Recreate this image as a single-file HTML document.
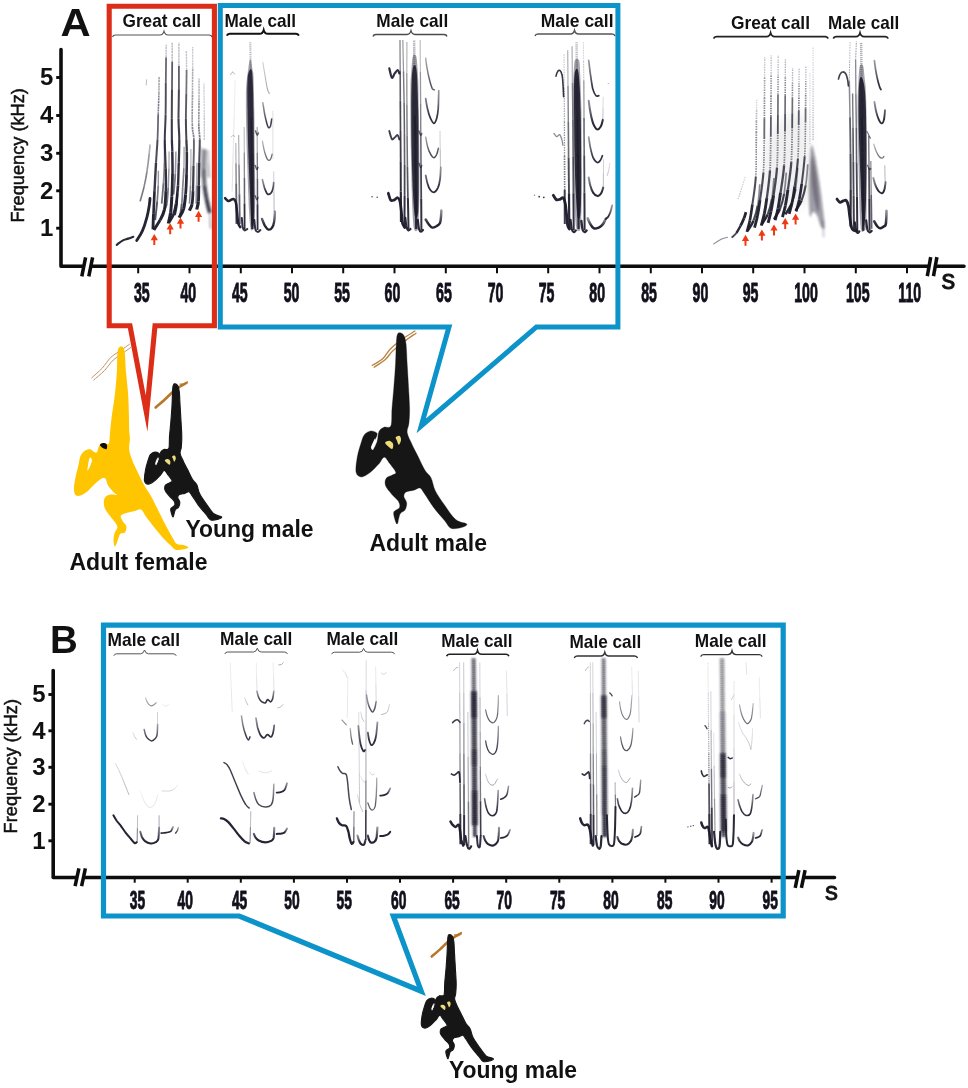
<!DOCTYPE html>
<html lang="en"><head><meta charset="utf-8"><title>Gibbon song spectrograms</title>
<style>
html,body{margin:0;padding:0;background:#fff}
svg{display:block}
text{font-family:"Liberation Sans",sans-serif;fill:#111}
</style></head><body>
<svg width="968" height="1088" viewBox="0 0 968 1088">
<defs>
<linearGradient id="uf" x1="0" y1="0" x2="0" y2="1"><stop offset="0" stop-color="#1c1b2c" stop-opacity="0.48"/><stop offset="0.5" stop-color="#1c1b2c" stop-opacity="0.8"/><stop offset="0.78" stop-color="#1c1b2c" stop-opacity="1"/><stop offset="1" stop-color="#1c1b2c" stop-opacity="1"/></linearGradient>
<filter id="bl" filterUnits="userSpaceOnUse" x="0" y="0" width="968" height="1088"><feGaussianBlur stdDeviation="0.55"/></filter>
<filter id="bl2" filterUnits="userSpaceOnUse" x="0" y="0" width="968" height="1088"><feGaussianBlur stdDeviation="0.9"/></filter>
<filter id="bl4" filterUnits="userSpaceOnUse" x="0" y="0" width="968" height="1088"><feGaussianBlur stdDeviation="5"/></filter>
<filter id="bt" filterUnits="userSpaceOnUse" x="0" y="0" width="968" height="1088"><feGaussianBlur stdDeviation="0.35"/></filter>
</defs>
<rect width="968" height="1088" fill="#fff"/>
<g filter="url(#bt)">
<path d="M61.0,49.6 L61.0,266.3 L964.0,266.3" fill="none" stroke="#0c0c0c" stroke-width="3.6" stroke-linejoin="round" stroke-linecap="round"/>
<path d="M81.8,276.3 L88.8,276.3 L92.6,257.3 L85.6,257.3 Z" fill="#fff"/>
<line x1="81.8" y1="276.3" x2="85.6" y2="257.3" stroke="#0c0c0c" stroke-width="3.50" stroke-opacity="1.00" stroke-linecap="butt"/>
<line x1="88.8" y1="276.3" x2="92.6" y2="257.3" stroke="#0c0c0c" stroke-width="3.50" stroke-opacity="1.00" stroke-linecap="butt"/>
<path d="M927.3,276.1 L933.5,276.1 L936.9,257.1 L930.7,257.1 Z" fill="#fff"/>
<line x1="927.3" y1="276.1" x2="930.7" y2="257.1" stroke="#0c0c0c" stroke-width="3.50" stroke-opacity="1.00" stroke-linecap="butt"/>
<line x1="933.5" y1="276.1" x2="936.9" y2="257.1" stroke="#0c0c0c" stroke-width="3.50" stroke-opacity="1.00" stroke-linecap="butt"/>
</g>
<g filter="url(#bt)">
<path d="M53.2,670.6 L53.2,877.5 L834.5,877.5" fill="none" stroke="#0c0c0c" stroke-width="3.6" stroke-linejoin="round" stroke-linecap="round"/>
<path d="M75.1,886.1 L81.6,886.1 L85.4,868.3 L78.9,868.3 Z" fill="#fff"/>
<line x1="75.1" y1="886.1" x2="78.9" y2="868.3" stroke="#0c0c0c" stroke-width="3.50" stroke-opacity="1.00" stroke-linecap="butt"/>
<line x1="81.6" y1="886.1" x2="85.4" y2="868.3" stroke="#0c0c0c" stroke-width="3.50" stroke-opacity="1.00" stroke-linecap="butt"/>
<path d="M795.2,887.8 L801.4,887.8 L805.1,870.2 L798.9,870.2 Z" fill="#fff"/>
<line x1="795.2" y1="887.8" x2="798.9" y2="870.2" stroke="#0c0c0c" stroke-width="3.50" stroke-opacity="1.00" stroke-linecap="butt"/>
<line x1="801.4" y1="887.8" x2="805.1" y2="870.2" stroke="#0c0c0c" stroke-width="3.50" stroke-opacity="1.00" stroke-linecap="butt"/>
</g>
<line x1="56.2" y1="77.5" x2="61.0" y2="77.5" stroke="#0c0c0c" stroke-width="2.90" stroke-opacity="1.00" stroke-linecap="butt"/>
<text transform="translate(53.4,85.2) scale(0.99,1)" font-size="24.2" font-weight="700" text-anchor="end">5</text>
<line x1="56.2" y1="115.5" x2="61.0" y2="115.5" stroke="#0c0c0c" stroke-width="2.90" stroke-opacity="1.00" stroke-linecap="butt"/>
<text transform="translate(53.4,123.2) scale(0.99,1)" font-size="24.2" font-weight="700" text-anchor="end">4</text>
<line x1="56.2" y1="153.3" x2="61.0" y2="153.3" stroke="#0c0c0c" stroke-width="2.90" stroke-opacity="1.00" stroke-linecap="butt"/>
<text transform="translate(53.4,161.0) scale(0.99,1)" font-size="24.2" font-weight="700" text-anchor="end">3</text>
<line x1="56.2" y1="190.8" x2="61.0" y2="190.8" stroke="#0c0c0c" stroke-width="2.90" stroke-opacity="1.00" stroke-linecap="butt"/>
<text transform="translate(53.4,198.5) scale(0.99,1)" font-size="24.2" font-weight="700" text-anchor="end">2</text>
<line x1="56.2" y1="228.2" x2="61.0" y2="228.2" stroke="#0c0c0c" stroke-width="2.90" stroke-opacity="1.00" stroke-linecap="butt"/>
<text transform="translate(53.4,235.9) scale(0.99,1)" font-size="24.2" font-weight="700" text-anchor="end">1</text>
<line x1="48.4" y1="694.5" x2="53.2" y2="694.5" stroke="#0c0c0c" stroke-width="2.90" stroke-opacity="1.00" stroke-linecap="butt"/>
<text transform="translate(45.6,702.2) scale(0.99,1)" font-size="24.2" font-weight="700" text-anchor="end">5</text>
<line x1="48.4" y1="730.8" x2="53.2" y2="730.8" stroke="#0c0c0c" stroke-width="2.90" stroke-opacity="1.00" stroke-linecap="butt"/>
<text transform="translate(45.6,738.5) scale(0.99,1)" font-size="24.2" font-weight="700" text-anchor="end">4</text>
<line x1="48.4" y1="767.3" x2="53.2" y2="767.3" stroke="#0c0c0c" stroke-width="2.90" stroke-opacity="1.00" stroke-linecap="butt"/>
<text transform="translate(45.6,775.0) scale(0.99,1)" font-size="24.2" font-weight="700" text-anchor="end">3</text>
<line x1="48.4" y1="804.2" x2="53.2" y2="804.2" stroke="#0c0c0c" stroke-width="2.90" stroke-opacity="1.00" stroke-linecap="butt"/>
<text transform="translate(45.6,811.9) scale(0.99,1)" font-size="24.2" font-weight="700" text-anchor="end">2</text>
<line x1="48.4" y1="840.8" x2="53.2" y2="840.8" stroke="#0c0c0c" stroke-width="2.90" stroke-opacity="1.00" stroke-linecap="butt"/>
<text transform="translate(45.6,848.5) scale(0.99,1)" font-size="24.2" font-weight="700" text-anchor="end">1</text>
<line x1="138.2" y1="267.0" x2="138.2" y2="273.3" stroke="#0c0c0c" stroke-width="2.00" stroke-opacity="1.00" stroke-linecap="butt"/>
<text transform="translate(141.8,301.9) scale(0.520,1)" font-size="27.2" font-weight="700" text-anchor="middle" fill="#15112a" stroke="#15112a" stroke-width="0.8" vector-effect="non-scaling-stroke" stroke-linejoin="round">35</text>
<line x1="189.5" y1="267.0" x2="189.5" y2="273.3" stroke="#0c0c0c" stroke-width="2.00" stroke-opacity="1.00" stroke-linecap="butt"/>
<text transform="translate(188.3,301.9) scale(0.520,1)" font-size="27.2" font-weight="700" text-anchor="middle" fill="#15112a" stroke="#15112a" stroke-width="0.8" vector-effect="non-scaling-stroke" stroke-linejoin="round">40</text>
<line x1="240.8" y1="267.0" x2="240.8" y2="273.3" stroke="#0c0c0c" stroke-width="2.00" stroke-opacity="1.00" stroke-linecap="butt"/>
<text transform="translate(239.8,301.9) scale(0.520,1)" font-size="27.2" font-weight="700" text-anchor="middle" fill="#15112a" stroke="#15112a" stroke-width="0.8" vector-effect="non-scaling-stroke" stroke-linejoin="round">45</text>
<line x1="292.0" y1="267.0" x2="292.0" y2="273.3" stroke="#0c0c0c" stroke-width="2.00" stroke-opacity="1.00" stroke-linecap="butt"/>
<text transform="translate(291.5,301.9) scale(0.520,1)" font-size="27.2" font-weight="700" text-anchor="middle" fill="#15112a" stroke="#15112a" stroke-width="0.8" vector-effect="non-scaling-stroke" stroke-linejoin="round">50</text>
<line x1="343.2" y1="267.0" x2="343.2" y2="273.3" stroke="#0c0c0c" stroke-width="2.00" stroke-opacity="1.00" stroke-linecap="butt"/>
<text transform="translate(342.1,301.9) scale(0.520,1)" font-size="27.2" font-weight="700" text-anchor="middle" fill="#15112a" stroke="#15112a" stroke-width="0.8" vector-effect="non-scaling-stroke" stroke-linejoin="round">55</text>
<line x1="394.5" y1="267.0" x2="394.5" y2="273.3" stroke="#0c0c0c" stroke-width="2.00" stroke-opacity="1.00" stroke-linecap="butt"/>
<text transform="translate(392.4,301.9) scale(0.520,1)" font-size="27.2" font-weight="700" text-anchor="middle" fill="#15112a" stroke="#15112a" stroke-width="0.8" vector-effect="non-scaling-stroke" stroke-linejoin="round">60</text>
<line x1="445.8" y1="267.0" x2="445.8" y2="273.3" stroke="#0c0c0c" stroke-width="2.00" stroke-opacity="1.00" stroke-linecap="butt"/>
<text transform="translate(443.9,301.9) scale(0.520,1)" font-size="27.2" font-weight="700" text-anchor="middle" fill="#15112a" stroke="#15112a" stroke-width="0.8" vector-effect="non-scaling-stroke" stroke-linejoin="round">65</text>
<line x1="497.0" y1="267.0" x2="497.0" y2="273.3" stroke="#0c0c0c" stroke-width="2.00" stroke-opacity="1.00" stroke-linecap="butt"/>
<text transform="translate(495.6,301.9) scale(0.520,1)" font-size="27.2" font-weight="700" text-anchor="middle" fill="#15112a" stroke="#15112a" stroke-width="0.8" vector-effect="non-scaling-stroke" stroke-linejoin="round">70</text>
<line x1="548.2" y1="267.0" x2="548.2" y2="273.3" stroke="#0c0c0c" stroke-width="2.00" stroke-opacity="1.00" stroke-linecap="butt"/>
<text transform="translate(546.5,301.9) scale(0.520,1)" font-size="27.2" font-weight="700" text-anchor="middle" fill="#15112a" stroke="#15112a" stroke-width="0.8" vector-effect="non-scaling-stroke" stroke-linejoin="round">75</text>
<line x1="599.5" y1="267.0" x2="599.5" y2="273.3" stroke="#0c0c0c" stroke-width="2.00" stroke-opacity="1.00" stroke-linecap="butt"/>
<text transform="translate(597.2,301.9) scale(0.520,1)" font-size="27.2" font-weight="700" text-anchor="middle" fill="#15112a" stroke="#15112a" stroke-width="0.8" vector-effect="non-scaling-stroke" stroke-linejoin="round">80</text>
<line x1="650.8" y1="267.0" x2="650.8" y2="273.3" stroke="#0c0c0c" stroke-width="2.00" stroke-opacity="1.00" stroke-linecap="butt"/>
<text transform="translate(649.0,301.9) scale(0.520,1)" font-size="27.2" font-weight="700" text-anchor="middle" fill="#15112a" stroke="#15112a" stroke-width="0.8" vector-effect="non-scaling-stroke" stroke-linejoin="round">85</text>
<line x1="702.0" y1="267.0" x2="702.0" y2="273.3" stroke="#0c0c0c" stroke-width="2.00" stroke-opacity="1.00" stroke-linecap="butt"/>
<text transform="translate(700.4,301.9) scale(0.520,1)" font-size="27.2" font-weight="700" text-anchor="middle" fill="#15112a" stroke="#15112a" stroke-width="0.8" vector-effect="non-scaling-stroke" stroke-linejoin="round">90</text>
<line x1="753.2" y1="267.0" x2="753.2" y2="273.3" stroke="#0c0c0c" stroke-width="2.00" stroke-opacity="1.00" stroke-linecap="butt"/>
<text transform="translate(750.5,301.9) scale(0.520,1)" font-size="27.2" font-weight="700" text-anchor="middle" fill="#15112a" stroke="#15112a" stroke-width="0.8" vector-effect="non-scaling-stroke" stroke-linejoin="round">95</text>
<line x1="804.5" y1="267.0" x2="804.5" y2="273.3" stroke="#0c0c0c" stroke-width="2.00" stroke-opacity="1.00" stroke-linecap="butt"/>
<text transform="translate(806.0,301.9) scale(0.520,1)" font-size="27.2" font-weight="700" text-anchor="middle" fill="#15112a" stroke="#15112a" stroke-width="0.8" vector-effect="non-scaling-stroke" stroke-linejoin="round">100</text>
<line x1="855.8" y1="267.0" x2="855.8" y2="273.3" stroke="#0c0c0c" stroke-width="2.00" stroke-opacity="1.00" stroke-linecap="butt"/>
<text transform="translate(857.8,301.9) scale(0.520,1)" font-size="27.2" font-weight="700" text-anchor="middle" fill="#15112a" stroke="#15112a" stroke-width="0.8" vector-effect="non-scaling-stroke" stroke-linejoin="round">105</text>
<line x1="907.0" y1="267.0" x2="907.0" y2="273.3" stroke="#0c0c0c" stroke-width="2.00" stroke-opacity="1.00" stroke-linecap="butt"/>
<text transform="translate(909.7,301.9) scale(0.520,1)" font-size="27.2" font-weight="700" text-anchor="middle" fill="#15112a" stroke="#15112a" stroke-width="0.8" vector-effect="non-scaling-stroke" stroke-linejoin="round">110</text>
<line x1="134.7" y1="878.5" x2="134.7" y2="882.7" stroke="#0c0c0c" stroke-width="2.00" stroke-opacity="1.00" stroke-linecap="butt"/>
<text transform="translate(137.5,909.2) scale(0.520,1)" font-size="26.6" font-weight="700" text-anchor="middle" fill="#15112a" stroke="#15112a" stroke-width="0.8" vector-effect="non-scaling-stroke" stroke-linejoin="round">35</text>
<line x1="187.7" y1="878.5" x2="187.7" y2="882.7" stroke="#0c0c0c" stroke-width="2.00" stroke-opacity="1.00" stroke-linecap="butt"/>
<text transform="translate(185.2,909.2) scale(0.520,1)" font-size="26.6" font-weight="700" text-anchor="middle" fill="#15112a" stroke="#15112a" stroke-width="0.8" vector-effect="non-scaling-stroke" stroke-linejoin="round">40</text>
<line x1="240.8" y1="878.5" x2="240.8" y2="882.7" stroke="#0c0c0c" stroke-width="2.00" stroke-opacity="1.00" stroke-linecap="butt"/>
<text transform="translate(239.6,909.2) scale(0.520,1)" font-size="26.6" font-weight="700" text-anchor="middle" fill="#15112a" stroke="#15112a" stroke-width="0.8" vector-effect="non-scaling-stroke" stroke-linejoin="round">45</text>
<line x1="293.9" y1="878.5" x2="293.9" y2="882.7" stroke="#0c0c0c" stroke-width="2.00" stroke-opacity="1.00" stroke-linecap="butt"/>
<text transform="translate(291.9,909.2) scale(0.520,1)" font-size="26.6" font-weight="700" text-anchor="middle" fill="#15112a" stroke="#15112a" stroke-width="0.8" vector-effect="non-scaling-stroke" stroke-linejoin="round">50</text>
<line x1="347.0" y1="878.5" x2="347.0" y2="882.7" stroke="#0c0c0c" stroke-width="2.00" stroke-opacity="1.00" stroke-linecap="butt"/>
<text transform="translate(344.3,909.2) scale(0.520,1)" font-size="26.6" font-weight="700" text-anchor="middle" fill="#15112a" stroke="#15112a" stroke-width="0.8" vector-effect="non-scaling-stroke" stroke-linejoin="round">55</text>
<line x1="400.0" y1="878.5" x2="400.0" y2="882.7" stroke="#0c0c0c" stroke-width="2.00" stroke-opacity="1.00" stroke-linecap="butt"/>
<text transform="translate(398.8,909.2) scale(0.520,1)" font-size="26.6" font-weight="700" text-anchor="middle" fill="#15112a" stroke="#15112a" stroke-width="0.8" vector-effect="non-scaling-stroke" stroke-linejoin="round">60</text>
<line x1="453.1" y1="878.5" x2="453.1" y2="882.7" stroke="#0c0c0c" stroke-width="2.00" stroke-opacity="1.00" stroke-linecap="butt"/>
<text transform="translate(452.1,909.2) scale(0.520,1)" font-size="26.6" font-weight="700" text-anchor="middle" fill="#15112a" stroke="#15112a" stroke-width="0.8" vector-effect="non-scaling-stroke" stroke-linejoin="round">65</text>
<line x1="506.2" y1="878.5" x2="506.2" y2="882.7" stroke="#0c0c0c" stroke-width="2.00" stroke-opacity="1.00" stroke-linecap="butt"/>
<text transform="translate(504.2,909.2) scale(0.520,1)" font-size="26.6" font-weight="700" text-anchor="middle" fill="#15112a" stroke="#15112a" stroke-width="0.8" vector-effect="non-scaling-stroke" stroke-linejoin="round">70</text>
<line x1="559.3" y1="878.5" x2="559.3" y2="882.7" stroke="#0c0c0c" stroke-width="2.00" stroke-opacity="1.00" stroke-linecap="butt"/>
<text transform="translate(557.6,909.2) scale(0.520,1)" font-size="26.6" font-weight="700" text-anchor="middle" fill="#15112a" stroke="#15112a" stroke-width="0.8" vector-effect="non-scaling-stroke" stroke-linejoin="round">75</text>
<line x1="612.4" y1="878.5" x2="612.4" y2="882.7" stroke="#0c0c0c" stroke-width="2.00" stroke-opacity="1.00" stroke-linecap="butt"/>
<text transform="translate(611.0,909.2) scale(0.520,1)" font-size="26.6" font-weight="700" text-anchor="middle" fill="#15112a" stroke="#15112a" stroke-width="0.8" vector-effect="non-scaling-stroke" stroke-linejoin="round">80</text>
<line x1="665.4" y1="878.5" x2="665.4" y2="882.7" stroke="#0c0c0c" stroke-width="2.00" stroke-opacity="1.00" stroke-linecap="butt"/>
<text transform="translate(664.8,909.2) scale(0.520,1)" font-size="26.6" font-weight="700" text-anchor="middle" fill="#15112a" stroke="#15112a" stroke-width="0.8" vector-effect="non-scaling-stroke" stroke-linejoin="round">85</text>
<line x1="718.5" y1="878.5" x2="718.5" y2="882.7" stroke="#0c0c0c" stroke-width="2.00" stroke-opacity="1.00" stroke-linecap="butt"/>
<text transform="translate(717.0,909.2) scale(0.520,1)" font-size="26.6" font-weight="700" text-anchor="middle" fill="#15112a" stroke="#15112a" stroke-width="0.8" vector-effect="non-scaling-stroke" stroke-linejoin="round">90</text>
<line x1="771.6" y1="878.5" x2="771.6" y2="882.7" stroke="#0c0c0c" stroke-width="2.00" stroke-opacity="1.00" stroke-linecap="butt"/>
<text transform="translate(770.3,909.2) scale(0.520,1)" font-size="26.6" font-weight="700" text-anchor="middle" fill="#15112a" stroke="#15112a" stroke-width="0.8" vector-effect="non-scaling-stroke" stroke-linejoin="round">95</text>
<text x="941.6" y="288.8" font-size="27.5" fill="#111" stroke="#111" stroke-width="0.8">s</text>
<text x="825.0" y="899.6" font-size="26" fill="#111" stroke="#111" stroke-width="0.8">s</text>
<text transform="translate(24.3,222.6) rotate(-90)" font-size="18.2" stroke="#111" stroke-width="0.5">Frequency (kHz)</text>
<text transform="translate(16.6,833.4) rotate(-90)" font-size="18.2" stroke="#111" stroke-width="0.5">Frequency (kHz)</text>
<text transform="translate(60.6,36.4) scale(1.07,1)" font-size="39" font-weight="700" fill="#0a0a0a">A</text>
<text transform="translate(50.1,653) scale(0.98,1)" font-size="39.3" font-weight="700" fill="#0a0a0a">B</text>
<path d="M130,325.8 L109.2,325.8 L109.2,6.2 L214.4,6.2 L214.4,325.8 L155,325.8 L146.6,413.5 Z" fill="none" stroke="#dc2d18" stroke-width="5.1" stroke-miterlimit="12" stroke-linejoin="miter"/>
<path d="M449,326.9 L220.3,326.9 L220.3,5.6 L617.9,5.6 L617.9,326.9 L536.5,326.9 L421.2,426 Z" fill="none" stroke="#0c93ca" stroke-width="5.0" stroke-miterlimit="12" stroke-linejoin="miter"/>
<path d="M239.2,916.0 L103.5,916.0 L103.5,625.2 L783.2,625.2 L783.2,916.0 L393.3,916.0 L421.3,991.2 Z" fill="none" stroke="#0c93ca" stroke-width="5.2" stroke-miterlimit="12" stroke-linejoin="miter"/>
<text x="122.5" y="26.5" font-size="18.2" font-weight="700" textLength="78.5" lengthAdjust="spacingAndGlyphs" fill="#111">Great call</text>
<path d="M112.5,37.0 Q113.0,35.0 115.5,35.0 L160.0,35.0 Q163.0,35.0 164.0,31.2 Q165.0,35.0 168.0,35.0 L209.0,35.0 Q211.5,35.0 212.0,37.0" fill="none" stroke="#555" stroke-width="1.1"/>
<text x="224.5" y="27.0" font-size="18.2" font-weight="700" textLength="71.5" lengthAdjust="spacingAndGlyphs" fill="#111">Male call</text>
<path d="M227.0,35.8 Q227.5,33.8 230.0,33.8 L259.7,33.8 Q262.7,33.8 263.7,30.0 Q264.7,33.8 267.7,33.8 L295.7,33.8 Q298.2,33.8 298.7,35.8" fill="none" stroke="#111" stroke-width="1.9"/>
<text x="376.3" y="27.0" font-size="18.2" font-weight="700" textLength="71.9" lengthAdjust="spacingAndGlyphs" fill="#111">Male call</text>
<path d="M373.0,36.5 Q373.5,34.5 376.0,34.5 L407.0,34.5 Q410.0,34.5 411.0,30.7 Q412.0,34.5 415.0,34.5 L444.0,34.5 Q446.5,34.5 447.0,36.5" fill="none" stroke="#4a4a4a" stroke-width="1.3"/>
<text x="540.8" y="27.0" font-size="18.2" font-weight="700" textLength="72.7" lengthAdjust="spacingAndGlyphs" fill="#111">Male call</text>
<path d="M535.0,36.0 Q535.5,34.0 538.0,34.0 L570.5,34.0 Q573.5,34.0 574.5,30.2 Q575.5,34.0 578.5,34.0 L612.0,34.0 Q614.5,34.0 615.0,36.0" fill="none" stroke="#555" stroke-width="1.4"/>
<text x="731.0" y="29.0" font-size="18.2" font-weight="700" textLength="79.0" lengthAdjust="spacingAndGlyphs" fill="#111">Great call</text>
<path d="M713.8,38.6 Q714.3,36.6 716.8,36.6 L766.6,36.6 Q769.6,36.6 770.6,32.8 Q771.6,36.6 774.6,36.6 L825.0,36.6 Q827.5,36.6 828.0,38.6" fill="none" stroke="#222" stroke-width="1.7"/>
<text x="828.0" y="29.0" font-size="18.2" font-weight="700" textLength="71.3" lengthAdjust="spacingAndGlyphs" fill="#111">Male call</text>
<path d="M833.4,38.6 Q833.9,36.6 836.4,36.6 L856.0,36.6 Q859.0,36.6 860.0,32.8 Q861.0,36.6 864.0,36.6 L885.0,36.6 Q887.5,36.6 888.0,38.6" fill="none" stroke="#222" stroke-width="1.7"/>
<g filter="url(#bl)">
<path d="M116.8,244.8 C117.8,244.1 120.6,241.6 122.5,240.6 C124.4,239.5 126.4,239.3 128.2,238.6 C130.0,238.0 132.4,237.1 133.3,236.8" fill="none" stroke="#1c1b2c" stroke-width="2.20" stroke-opacity="0.95" stroke-linecap="round" stroke-linejoin="round"/>
<path d="M136.7,240.6 C137.7,239.0 140.7,234.8 142.4,230.9 C144.1,227.0 145.8,221.4 146.9,217.3 C148.1,213.1 148.7,209.0 149.2,205.9 C149.7,202.8 149.9,199.8 150.0,198.5" fill="none" stroke="#1c1b2c" stroke-width="2.80" stroke-opacity="0.97" stroke-linecap="round" stroke-linejoin="round"/>
<path d="M140.1,201.4 C140.8,198.9 143.0,191.5 144.1,186.6" fill="none" stroke="#1c1b2c" stroke-width="1.62" stroke-opacity="0.60" stroke-linecap="butt"/>
<path d="M144.1,186.6 C145.2,181.7 146.1,177.3 146.9,171.8" fill="none" stroke="#1c1b2c" stroke-width="1.62" stroke-opacity="0.55" stroke-linecap="butt"/>
<path d="M146.9,171.8 C147.8,166.3 148.7,158.2 149.2,153.6" fill="none" stroke="#1c1b2c" stroke-width="1.62" stroke-opacity="0.45" stroke-linecap="butt"/>
<path d="M149.2,153.6 C149.7,149.1 149.9,146.1 150.0,144.5" fill="none" stroke="#1c1b2c" stroke-width="1.62" stroke-opacity="0.35" stroke-linecap="butt"/>
<path d="M146.2,84.9 L146.6,79.7" fill="none" stroke="#1c1b2c" stroke-width="1.00" stroke-opacity="0.30" stroke-linecap="round" stroke-linejoin="round"/>
<path d="M153.0,229.2 C153.0,226.6 153.3,220.2 153.5,213.9" fill="none" stroke="#1c1b2c" stroke-width="2.88" stroke-opacity="0.97" stroke-linecap="butt"/>
<path d="M153.5,213.9 C153.8,207.5 154.1,199.7 154.5,191.1" fill="none" stroke="#1c1b2c" stroke-width="2.62" stroke-opacity="0.95" stroke-linecap="butt"/>
<path d="M154.5,191.1 C155.0,182.6 155.5,171.2 156.0,162.7" fill="none" stroke="#1c1b2c" stroke-width="2.38" stroke-opacity="0.88" stroke-linecap="butt"/>
<path d="M156.0,162.7 C156.5,154.2 157.1,148.0 157.5,140.0" fill="none" stroke="#1c1b2c" stroke-width="2.00" stroke-opacity="0.78" stroke-linecap="butt"/>
<path d="M157.5,140.0 C157.9,132.0 158.0,122.3 158.2,114.5" fill="none" stroke="#1c1b2c" stroke-width="1.75" stroke-opacity="0.68" stroke-linecap="butt"/>
<path d="M158.2,114.5 C158.5,106.7 158.7,99.7 158.9,93.4" fill="none" stroke="#1c1b2c" stroke-width="1.50" stroke-opacity="0.58" stroke-linecap="butt" stroke-dasharray="2.2 0.6"/>
<path d="M158.9,93.4 C159.0,87.0 159.1,79.3 159.1,76.5" fill="none" stroke="#1c1b2c" stroke-width="1.50" stroke-opacity="0.42" stroke-linecap="butt" stroke-dasharray="2.2 0.6"/>
<path d="M153.8,230.0 C154.8,228.4 158.2,223.5 160.0,220.1" fill="none" stroke="#1c1b2c" stroke-width="3.00" stroke-opacity="0.97" stroke-linecap="butt"/>
<path d="M160.0,220.1 C161.8,216.8 163.4,214.7 164.3,209.9" fill="none" stroke="#1c1b2c" stroke-width="3.00" stroke-opacity="0.97" stroke-linecap="butt"/>
<path d="M164.3,209.9 C165.3,205.1 165.6,198.0 165.8,191.1" fill="none" stroke="#1c1b2c" stroke-width="2.75" stroke-opacity="0.95" stroke-linecap="butt"/>
<path d="M165.8,191.1 C166.0,184.2 165.9,176.9 165.7,168.4" fill="none" stroke="#1c1b2c" stroke-width="2.38" stroke-opacity="0.92" stroke-linecap="butt"/>
<path d="M165.7,168.4 C165.5,159.9 164.8,149.0 164.8,140.0" fill="none" stroke="#1c1b2c" stroke-width="2.12" stroke-opacity="0.88" stroke-linecap="butt"/>
<path d="M164.8,140.0 C164.8,131.0 165.5,124.0 165.6,114.5" fill="none" stroke="#1c1b2c" stroke-width="2.00" stroke-opacity="0.84" stroke-linecap="butt"/>
<path d="M165.6,114.5 C165.8,105.0 165.8,92.3 165.8,82.8" fill="none" stroke="#1c1b2c" stroke-width="1.88" stroke-opacity="0.78" stroke-linecap="butt"/>
<path d="M165.8,82.8 C165.9,73.3 166.0,63.8 166.1,57.5" fill="none" stroke="#1c1b2c" stroke-width="1.75" stroke-opacity="0.68" stroke-linecap="butt"/>
<path d="M166.1,57.5 C166.1,51.1 166.2,46.9 166.3,44.8" fill="none" stroke="#1c1b2c" stroke-width="1.38" stroke-opacity="0.30" stroke-linecap="butt" stroke-dasharray="2.2 0.6"/>
<path d="M155.2,220.1 C155.5,217.0 156.7,207.1 157.2,201.4" fill="none" stroke="#1c1b2c" stroke-width="1.88" stroke-opacity="0.75" stroke-linecap="butt"/>
<path d="M157.2,201.4 C157.7,195.6 158.0,190.6 158.2,185.5" fill="none" stroke="#1c1b2c" stroke-width="1.62" stroke-opacity="0.60" stroke-linecap="butt"/>
<path d="M158.2,185.5 C158.4,180.3 158.4,173.1 158.4,170.7" fill="none" stroke="#1c1b2c" stroke-width="1.38" stroke-opacity="0.45" stroke-linecap="butt"/>
<path d="M168.3,223.5 C168.7,221.7 170.0,217.2 170.6,212.7" fill="none" stroke="#1c1b2c" stroke-width="3.12" stroke-opacity="0.97" stroke-linecap="butt"/>
<path d="M170.6,212.7 C171.2,208.3 171.5,203.3 171.8,196.8" fill="none" stroke="#1c1b2c" stroke-width="3.00" stroke-opacity="0.97" stroke-linecap="butt"/>
<path d="M171.8,196.8 C172.1,190.4 172.4,181.7 172.5,174.1" fill="none" stroke="#1c1b2c" stroke-width="2.75" stroke-opacity="0.95" stroke-linecap="butt"/>
<path d="M172.5,174.1 C172.6,166.5 172.4,157.0 172.3,151.4" fill="none" stroke="#1c1b2c" stroke-width="2.50" stroke-opacity="0.93" stroke-linecap="butt"/>
<path d="M172.3,151.4 C172.2,145.7 172.0,145.4 171.9,140.0" fill="none" stroke="#1c1b2c" stroke-width="2.25" stroke-opacity="0.90" stroke-linecap="butt"/>
<path d="M171.9,140.0 C171.8,134.6 171.8,127.2 171.8,118.7" fill="none" stroke="#1c1b2c" stroke-width="2.12" stroke-opacity="0.86" stroke-linecap="butt"/>
<path d="M171.8,118.7 C171.8,110.3 171.9,98.7 172.0,89.2" fill="none" stroke="#1c1b2c" stroke-width="2.00" stroke-opacity="0.80" stroke-linecap="butt"/>
<path d="M172.0,89.2 C172.0,79.7 172.2,69.4 172.2,61.7" fill="none" stroke="#1c1b2c" stroke-width="1.75" stroke-opacity="0.72" stroke-linecap="butt"/>
<path d="M172.2,61.7 C172.2,53.9 172.2,45.8 172.2,42.7" fill="none" stroke="#1c1b2c" stroke-width="1.38" stroke-opacity="0.32" stroke-linecap="butt" stroke-dasharray="2.2 0.6"/>
<path d="M169.1,222.0 C169.8,220.7 172.5,217.2 173.6,214.1" fill="none" stroke="#1c1b2c" stroke-width="3.00" stroke-opacity="0.95" stroke-linecap="butt"/>
<path d="M173.6,214.1 C174.8,211.0 175.4,208.4 176.1,203.6" fill="none" stroke="#1c1b2c" stroke-width="2.88" stroke-opacity="0.95" stroke-linecap="butt"/>
<path d="M176.1,203.6 C176.9,198.9 177.5,192.3 178.0,185.5" fill="none" stroke="#1c1b2c" stroke-width="2.62" stroke-opacity="0.93" stroke-linecap="butt"/>
<path d="M178.0,185.5 C178.4,178.6 178.5,170.3 178.8,162.7" fill="none" stroke="#1c1b2c" stroke-width="2.38" stroke-opacity="0.90" stroke-linecap="butt"/>
<path d="M178.8,162.7 C179.0,155.2 179.4,147.3 179.3,140.0" fill="none" stroke="#1c1b2c" stroke-width="2.25" stroke-opacity="0.88" stroke-linecap="butt"/>
<path d="M179.3,140.0 C179.3,132.7 178.6,127.2 178.5,118.7" fill="none" stroke="#1c1b2c" stroke-width="2.12" stroke-opacity="0.84" stroke-linecap="butt"/>
<path d="M178.5,118.7 C178.5,110.3 178.9,98.0 178.9,89.2" fill="none" stroke="#1c1b2c" stroke-width="2.00" stroke-opacity="0.80" stroke-linecap="butt"/>
<path d="M178.9,89.2 C179.0,80.4 178.9,73.7 178.9,65.9" fill="none" stroke="#1c1b2c" stroke-width="1.75" stroke-opacity="0.72" stroke-linecap="butt"/>
<path d="M178.9,65.9 C178.9,58.2 178.9,46.6 178.9,42.7" fill="none" stroke="#1c1b2c" stroke-width="1.38" stroke-opacity="0.32" stroke-linecap="butt" stroke-dasharray="2.2 0.6"/>
<path d="M175.1,214.4 C175.4,212.8 176.5,208.1 176.8,204.8 C177.2,201.5 177.2,196.2 177.3,194.5" fill="none" stroke="#1c1b2c" stroke-width="2.00" stroke-opacity="0.90" stroke-linecap="round" stroke-linejoin="round"/>
<path d="M179.1,217.7 C179.8,216.2 182.6,212.6 183.6,208.8" fill="none" stroke="#1c1b2c" stroke-width="3.12" stroke-opacity="0.97" stroke-linecap="butt"/>
<path d="M183.6,208.8 C184.7,204.9 185.1,200.3 185.6,194.5" fill="none" stroke="#1c1b2c" stroke-width="3.00" stroke-opacity="0.97" stroke-linecap="butt"/>
<path d="M185.6,194.5 C186.1,188.8 186.4,181.3 186.6,174.1" fill="none" stroke="#1c1b2c" stroke-width="2.75" stroke-opacity="0.95" stroke-linecap="butt"/>
<path d="M186.6,174.1 C186.8,166.9 186.9,157.0 186.8,151.4" fill="none" stroke="#1c1b2c" stroke-width="2.50" stroke-opacity="0.92" stroke-linecap="butt"/>
<path d="M186.8,151.4 C186.8,145.7 186.5,145.4 186.4,140.0" fill="none" stroke="#1c1b2c" stroke-width="2.25" stroke-opacity="0.88" stroke-linecap="butt"/>
<path d="M186.4,140.0 C186.2,134.6 185.9,126.5 185.9,118.7" fill="none" stroke="#1c1b2c" stroke-width="2.00" stroke-opacity="0.80" stroke-linecap="butt"/>
<path d="M185.9,118.7 C185.9,111.0 186.2,101.5 186.3,93.4" fill="none" stroke="#1c1b2c" stroke-width="1.88" stroke-opacity="0.72" stroke-linecap="butt"/>
<path d="M186.3,93.4 C186.4,85.3 186.6,77.2 186.6,70.1" fill="none" stroke="#1c1b2c" stroke-width="1.75" stroke-opacity="0.62" stroke-linecap="butt"/>
<path d="M186.6,70.1 C186.6,63.1 186.4,54.3 186.3,51.1" fill="none" stroke="#1c1b2c" stroke-width="1.38" stroke-opacity="0.26" stroke-linecap="butt" stroke-dasharray="2.2 0.6"/>
<path d="M189.3,210.7 C189.8,209.6 191.4,207.5 192.0,204.2" fill="none" stroke="#1c1b2c" stroke-width="3.12" stroke-opacity="0.97" stroke-linecap="butt"/>
<path d="M192.0,204.2 C192.7,200.9 192.7,197.5 193.0,191.1" fill="none" stroke="#1c1b2c" stroke-width="2.75" stroke-opacity="0.95" stroke-linecap="butt"/>
<path d="M193.0,191.1 C193.2,184.8 193.4,174.7 193.5,166.1" fill="none" stroke="#1c1b2c" stroke-width="2.25" stroke-opacity="0.84" stroke-linecap="butt"/>
<path d="M193.5,166.1 C193.7,157.6 194.1,146.8 193.9,140.0" fill="none" stroke="#1c1b2c" stroke-width="1.88" stroke-opacity="0.68" stroke-linecap="butt"/>
<path d="M193.9,140.0 C193.7,133.2 192.5,132.8 192.3,125.1" fill="none" stroke="#1c1b2c" stroke-width="1.75" stroke-opacity="0.55" stroke-linecap="butt" stroke-dasharray="2.2 0.6"/>
<path d="M192.3,125.1 C192.0,117.3 192.4,102.9 192.5,93.4" fill="none" stroke="#1c1b2c" stroke-width="1.62" stroke-opacity="0.45" stroke-linecap="butt" stroke-dasharray="2.2 0.6"/>
<path d="M192.5,93.4 C192.5,83.9 192.6,75.8 192.7,68.0" fill="none" stroke="#1c1b2c" stroke-width="1.50" stroke-opacity="0.38" stroke-linecap="butt" stroke-dasharray="2.2 0.6"/>
<path d="M192.7,68.0 C192.7,60.3 192.7,50.4 192.7,46.9" fill="none" stroke="#1c1b2c" stroke-width="1.25" stroke-opacity="0.22" stroke-linecap="butt" stroke-dasharray="2.2 0.6"/>
<path d="M196.7,209.5 C197.0,208.2 198.1,205.4 198.4,201.4" fill="none" stroke="#1c1b2c" stroke-width="3.12" stroke-opacity="0.97" stroke-linecap="butt"/>
<path d="M198.4,201.4 C198.8,197.3 198.6,191.9 198.8,185.5" fill="none" stroke="#1c1b2c" stroke-width="2.88" stroke-opacity="0.95" stroke-linecap="butt"/>
<path d="M198.8,185.5 C198.9,179.0 199.0,170.3 199.2,162.7" fill="none" stroke="#1c1b2c" stroke-width="2.38" stroke-opacity="0.88" stroke-linecap="butt"/>
<path d="M199.2,162.7 C199.4,155.2 199.8,146.3 199.8,140.0" fill="none" stroke="#1c1b2c" stroke-width="2.00" stroke-opacity="0.75" stroke-linecap="butt"/>
<path d="M199.8,140.0 C199.7,133.7 198.9,131.8 198.8,125.1" fill="none" stroke="#1c1b2c" stroke-width="1.75" stroke-opacity="0.58" stroke-linecap="butt" stroke-dasharray="2.2 0.6"/>
<path d="M198.8,125.1 C198.7,118.4 199.0,107.5 199.0,99.7" fill="none" stroke="#1c1b2c" stroke-width="1.62" stroke-opacity="0.48" stroke-linecap="butt" stroke-dasharray="2.2 0.6"/>
<path d="M199.0,99.7 C199.1,92.0 199.0,82.1 199.0,78.6" fill="none" stroke="#1c1b2c" stroke-width="1.50" stroke-opacity="0.34" stroke-linecap="butt" stroke-dasharray="2.2 0.6"/>
<path d="M204.3,139.9 C204.3,135.6 204.4,124.0 204.3,114.5" fill="none" stroke="#1c1b2c" stroke-width="1.38" stroke-opacity="0.25" stroke-linecap="butt" stroke-dasharray="2.2 0.6"/>
<path d="M204.3,114.5 C204.2,105.0 204.0,88.1 203.9,82.8" fill="none" stroke="#1c1b2c" stroke-width="1.38" stroke-opacity="0.18" stroke-linecap="butt" stroke-dasharray="2.2 0.6"/>
<path d="M161.7,203.6 C162.0,200.2 163.0,190.0 163.4,183.2" fill="none" stroke="#1c1b2c" stroke-width="1.75" stroke-opacity="0.65" stroke-linecap="butt"/>
<path d="M163.4,183.2 C163.8,176.4 164.1,169.9 164.3,162.7" fill="none" stroke="#1c1b2c" stroke-width="1.50" stroke-opacity="0.50" stroke-linecap="butt"/>
<path d="M164.3,162.7 C164.5,155.5 164.5,143.8 164.5,140.0" fill="none" stroke="#1c1b2c" stroke-width="1.38" stroke-opacity="0.40" stroke-linecap="butt"/>
<path d="M173.6,194.5 C173.9,191.1 175.0,181.3 175.3,174.1" fill="none" stroke="#1c1b2c" stroke-width="1.75" stroke-opacity="0.60" stroke-linecap="butt"/>
<path d="M175.3,174.1 C175.7,166.9 175.8,155.2 175.9,151.4" fill="none" stroke="#1c1b2c" stroke-width="1.50" stroke-opacity="0.45" stroke-linecap="butt"/>
<path d="M182.7,187.7 C182.9,184.5 183.6,175.2 183.9,168.4" fill="none" stroke="#1c1b2c" stroke-width="1.62" stroke-opacity="0.55" stroke-linecap="butt"/>
<path d="M183.9,168.4 C184.1,161.6 184.1,150.4 184.1,146.8" fill="none" stroke="#1c1b2c" stroke-width="1.38" stroke-opacity="0.40" stroke-linecap="butt"/>
<path d="M163.4,212.7 C164.0,211.2 166.0,207.8 166.8,203.6" fill="none" stroke="#1c1b2c" stroke-width="2.00" stroke-opacity="0.70" stroke-linecap="butt"/>
<path d="M166.8,203.6 C167.6,199.5 167.8,193.6 168.2,187.7" fill="none" stroke="#1c1b2c" stroke-width="1.75" stroke-opacity="0.60" stroke-linecap="butt"/>
<path d="M168.2,187.7 C168.5,181.9 168.7,174.5 168.9,168.4" fill="none" stroke="#1c1b2c" stroke-width="1.50" stroke-opacity="0.45" stroke-linecap="butt"/>
<path d="M168.9,168.4 C169.0,162.3 169.1,154.2 169.1,151.4" fill="none" stroke="#1c1b2c" stroke-width="1.38" stroke-opacity="0.35" stroke-linecap="butt"/>
<path d="M180.2,215.0 C180.5,213.1 181.4,208.2 181.8,203.6" fill="none" stroke="#1c1b2c" stroke-width="2.00" stroke-opacity="0.70" stroke-linecap="butt"/>
<path d="M181.8,203.6 C182.2,199.1 182.6,190.4 182.7,187.7" fill="none" stroke="#1c1b2c" stroke-width="1.75" stroke-opacity="0.55" stroke-linecap="butt"/>
<path d="M189.5,203.6 C189.7,200.6 190.2,191.7 190.5,185.5" fill="none" stroke="#1c1b2c" stroke-width="1.62" stroke-opacity="0.50" stroke-linecap="butt"/>
<path d="M190.5,185.5 C190.7,179.2 190.8,172.2 190.9,166.1" fill="none" stroke="#1c1b2c" stroke-width="1.38" stroke-opacity="0.40" stroke-linecap="butt"/>
<path d="M190.9,166.1 C191.0,160.1 190.9,151.9 190.9,149.1" fill="none" stroke="#1c1b2c" stroke-width="1.25" stroke-opacity="0.30" stroke-linecap="butt"/>
<path d="M196.1,203.6 C196.2,200.6 196.5,192.3 196.6,185.5" fill="none" stroke="#1c1b2c" stroke-width="1.62" stroke-opacity="0.50" stroke-linecap="butt"/>
<path d="M196.6,185.5 C196.7,178.6 196.9,166.5 196.9,162.7" fill="none" stroke="#1c1b2c" stroke-width="1.38" stroke-opacity="0.35" stroke-linecap="butt"/>
</g>
<g filter="url(#bl2)">
<path d="M209.8,212.7 C209.2,210.5 207.5,203.6 206.6,199.1" fill="none" stroke="#1c1b2c" stroke-width="4.00" stroke-opacity="0.85" stroke-linecap="butt"/>
<path d="M206.6,199.1 C205.7,194.5 205.0,190.6 204.5,185.5" fill="none" stroke="#1c1b2c" stroke-width="4.00" stroke-opacity="0.80" stroke-linecap="butt"/>
<path d="M204.5,185.5 C204.1,180.3 203.9,174.5 203.9,168.4" fill="none" stroke="#1c1b2c" stroke-width="4.00" stroke-opacity="0.65" stroke-linecap="butt"/>
<path d="M203.9,168.4 C203.8,162.3 204.2,152.3 204.3,149.1" fill="none" stroke="#1c1b2c" stroke-width="4.00" stroke-opacity="0.50" stroke-linecap="butt"/>
<path d="M208.9,177.5 C208.7,175.0 208.1,167.3 208.0,162.7" fill="none" stroke="#1c1b2c" stroke-width="2.80" stroke-opacity="0.30" stroke-linecap="butt"/>
<path d="M208.0,162.7 C207.8,158.2 207.8,152.3 207.7,150.2" fill="none" stroke="#1c1b2c" stroke-width="2.80" stroke-opacity="0.25" stroke-linecap="butt"/>
<path d="M200.9,177.5 C200.9,175.0 200.7,167.8 200.7,162.7" fill="none" stroke="#1c1b2c" stroke-width="2.20" stroke-opacity="0.25" stroke-linecap="butt"/>
<path d="M200.7,162.7 C200.7,157.6 200.9,149.5 200.9,146.8" fill="none" stroke="#1c1b2c" stroke-width="2.20" stroke-opacity="0.20" stroke-linecap="butt"/>
<path d="M210.6,228.6 C210.4,226.0 209.9,215.4 209.8,212.7" fill="none" stroke="#1c1b2c" stroke-width="1.80" stroke-opacity="0.30" stroke-linecap="butt"/>
</g>
<path d="M154.3,234.0 l3.6,6.2 h-2.6 v4.8 h-2 v-4.8 h-2.6 Z" fill="#ee3a12"/>
<path d="M170.2,223.2 l3.6,6.2 h-2.6 v4.8 h-2 v-4.8 h-2.6 Z" fill="#ee3a12"/>
<path d="M180.5,217.6 l3.6,6.2 h-2.6 v4.8 h-2 v-4.8 h-2.6 Z" fill="#ee3a12"/>
<path d="M198.6,210.8 l3.6,6.2 h-2.6 v4.8 h-2 v-4.8 h-2.6 Z" fill="#ee3a12"/>
<g filter="url(#bl)">
<path d="M225.1,198.1 C225.6,198.6 227.1,200.8 228.5,200.9 C229.9,201.0 232.1,198.7 233.3,198.9 C234.5,199.1 235.2,200.0 235.8,202.1 C236.4,204.3 236.6,208.4 237.0,211.8 C237.4,215.3 237.6,220.4 238.2,222.9 C238.7,225.5 239.9,226.5 240.2,227.2" fill="none" stroke="#1c1b2c" stroke-width="2.50" stroke-opacity="0.97" stroke-linecap="round" stroke-linejoin="round"/>
<path d="M236.6,223.9 C236.5,220.6 236.4,210.5 236.4,203.7" fill="none" stroke="#1c1b2c" stroke-width="2.00" stroke-opacity="0.85" stroke-linecap="butt"/>
<path d="M236.4,203.7 C236.3,197.0 236.2,190.3 236.2,183.5" fill="none" stroke="#1c1b2c" stroke-width="1.80" stroke-opacity="0.65" stroke-linecap="butt"/>
<path d="M236.2,183.5 C236.1,176.8 236.0,170.1 236.0,163.3" fill="none" stroke="#1c1b2c" stroke-width="1.50" stroke-opacity="0.50" stroke-linecap="butt"/>
<path d="M236.0,163.3 C235.9,156.6 235.8,146.5 235.8,143.1" fill="none" stroke="#1c1b2c" stroke-width="1.20" stroke-opacity="0.30" stroke-linecap="butt"/>
<path d="M239.8,223.9 C239.7,219.0 239.5,204.2 239.4,194.3" fill="none" stroke="#1c1b2c" stroke-width="1.80" stroke-opacity="0.70" stroke-linecap="butt"/>
<path d="M239.4,194.3 C239.3,184.4 239.1,174.6 239.0,164.7" fill="none" stroke="#1c1b2c" stroke-width="1.50" stroke-opacity="0.55" stroke-linecap="butt"/>
<path d="M239.0,164.7 C238.9,154.8 238.7,140.0 238.6,135.1" fill="none" stroke="#1c1b2c" stroke-width="1.20" stroke-opacity="0.35" stroke-linecap="butt"/>
<path d="M241.8,217.9 C242.0,219.4 242.2,224.9 242.6,227.0 C243.1,229.1 243.9,230.1 244.6,230.4 C245.4,230.7 246.8,229.2 247.3,229.0" fill="none" stroke="#1c1b2c" stroke-width="2.00" stroke-opacity="0.90" stroke-linecap="round" stroke-linejoin="round"/>
<path d="M244.6,229.0 C244.6,224.7 244.6,212.0 244.5,203.5" fill="none" stroke="#1c1b2c" stroke-width="1.80" stroke-opacity="0.90" stroke-linecap="butt"/>
<path d="M244.5,203.5 C244.5,195.0 244.5,186.5 244.4,178.0" fill="none" stroke="#1c1b2c" stroke-width="1.50" stroke-opacity="0.70" stroke-linecap="butt"/>
<path d="M244.4,178.0 C244.4,169.5 244.4,161.0 244.3,152.5" fill="none" stroke="#1c1b2c" stroke-width="1.30" stroke-opacity="0.50" stroke-linecap="butt"/>
<path d="M244.3,152.5 C244.3,144.0 244.3,131.2 244.2,127.0" fill="none" stroke="#1c1b2c" stroke-width="1.10" stroke-opacity="0.30" stroke-linecap="butt"/>
<path d="M230.5,74.8 C230.8,74.4 231.9,72.2 232.5,72.0 C233.2,71.9 234.2,73.7 234.5,74.0" fill="none" stroke="#1c1b2c" stroke-width="1.00" stroke-opacity="0.30" stroke-linecap="round" stroke-linejoin="round"/>
<path d="M231.1,137.1 C231.5,136.7 232.8,135.1 233.3,135.1 C233.9,135.0 234.3,136.4 234.5,136.7" fill="none" stroke="#1c1b2c" stroke-width="1.00" stroke-opacity="0.25" stroke-linecap="round" stroke-linejoin="round"/>
<path d="M232.1,191.6 C232.3,185.4 232.8,166.9 233.1,154.6" fill="none" stroke="#1c1b2c" stroke-width="1.00" stroke-opacity="0.12" stroke-linecap="butt"/>
<path d="M233.1,154.6 C233.5,142.2 233.8,129.9 234.1,117.5" fill="none" stroke="#1c1b2c" stroke-width="1.00" stroke-opacity="0.10" stroke-linecap="butt"/>
<path d="M234.1,117.5 C234.5,105.2 235.0,86.7 235.2,80.5" fill="none" stroke="#1c1b2c" stroke-width="1.00" stroke-opacity="0.08" stroke-linecap="butt"/>
<path d="M249.7,60.3 C250.2,59.0 250.7,59.0 251.1,60.3 C251.5,61.6 251.9,65.7 252.3,68.4 C252.7,71.1 253.2,69.4 253.5,76.5 C253.9,83.5 254.1,98.4 254.3,110.8 C254.5,123.3 254.6,137.7 254.7,151.2 C254.9,164.7 255.2,179.5 255.2,191.6 C255.2,203.7 255.0,217.7 254.7,223.9 C254.5,230.2 254.2,228.1 253.5,229.0 C252.9,229.8 251.4,231.9 250.7,229.0 C250.0,226.1 249.6,221.4 249.1,211.8 C248.6,202.2 247.9,184.9 247.5,171.4 C247.0,157.9 246.5,143.5 246.3,131.0 C246.0,118.6 245.8,105.1 245.9,96.7 C245.9,88.2 246.3,85.2 246.7,80.5 C247.1,75.8 247.8,71.8 248.3,68.4 C248.8,65.0 249.2,61.6 249.7,60.3Z" fill="#1c1b2c" fill-opacity="0.40"/>
<path d="M249.5,70.4 C250.3,69.2 251.6,66.7 252.3,73.4 C253.0,80.2 253.3,97.8 253.5,110.8 C253.8,123.8 253.8,137.7 253.9,151.2 C254.1,164.7 254.3,179.8 254.3,191.6 C254.3,203.4 254.4,216.5 253.9,221.9 C253.5,227.3 252.2,229.0 251.5,223.9 C250.8,218.9 250.4,203.7 249.9,191.6 C249.4,179.5 248.7,164.7 248.3,151.2 C247.9,137.7 247.6,122.6 247.5,110.8 C247.3,99.0 247.1,87.2 247.5,80.5 C247.8,73.8 248.7,71.6 249.5,70.4Z" fill="#1c1b2c" fill-opacity="0.85"/>
<path d="M252.3,229.0 C252.3,222.8 252.1,204.1 251.9,191.6" fill="none" stroke="#1c1b2c" stroke-width="2.20" stroke-opacity="0.90" stroke-linecap="butt"/>
<path d="M251.9,191.6 C251.8,179.2 251.6,166.7 251.5,154.2" fill="none" stroke="#1c1b2c" stroke-width="2.20" stroke-opacity="0.90" stroke-linecap="butt"/>
<path d="M251.5,154.2 C251.4,141.8 251.2,129.3 251.1,116.9" fill="none" stroke="#1c1b2c" stroke-width="2.00" stroke-opacity="0.80" stroke-linecap="butt"/>
<path d="M251.1,116.9 C251.0,104.4 250.8,92.0 250.7,79.5" fill="none" stroke="#1c1b2c" stroke-width="2.40" stroke-opacity="0.50" stroke-linecap="butt" stroke-dasharray="1.2 0.8"/>
<path d="M250.7,79.5 C250.6,67.0 250.4,48.4 250.3,42.1" fill="none" stroke="#1c1b2c" stroke-width="2.00" stroke-opacity="0.30" stroke-linecap="butt" stroke-dasharray="1.2 0.8"/>
<path d="M254.3,219.9 C254.5,221.6 254.9,228.0 255.6,230.0 C256.2,232.0 257.2,232.0 258.0,232.0 C258.8,232.0 260.0,230.3 260.4,230.0" fill="none" stroke="#1c1b2c" stroke-width="2.00" stroke-opacity="0.90" stroke-linecap="round" stroke-linejoin="round"/>
<path d="M257.6,230.0 C257.6,225.7 257.5,212.8 257.5,204.2" fill="none" stroke="#1c1b2c" stroke-width="1.80" stroke-opacity="0.90" stroke-linecap="butt"/>
<path d="M257.5,204.2 C257.4,195.7 257.4,187.1 257.4,178.5" fill="none" stroke="#1c1b2c" stroke-width="1.50" stroke-opacity="0.75" stroke-linecap="butt"/>
<path d="M257.4,178.5 C257.3,169.9 257.3,161.3 257.3,152.7" fill="none" stroke="#1c1b2c" stroke-width="1.30" stroke-opacity="0.60" stroke-linecap="butt"/>
<path d="M257.3,152.7 C257.2,144.1 257.2,131.3 257.2,127.0" fill="none" stroke="#1c1b2c" stroke-width="1.10" stroke-opacity="0.40" stroke-linecap="butt"/>
<path d="M255.6,131.0 C255.8,131.7 256.7,134.7 257.2,135.1 C257.6,135.4 258.2,133.4 258.4,133.0" fill="none" stroke="#1c1b2c" stroke-width="1.40" stroke-opacity="0.70" stroke-linecap="round" stroke-linejoin="round"/>
<path d="M255.2,165.4 C255.4,166.0 256.3,169.1 256.8,169.4 C257.2,169.7 257.8,167.7 258.0,167.4" fill="none" stroke="#1c1b2c" stroke-width="1.40" stroke-opacity="0.70" stroke-linecap="round" stroke-linejoin="round"/>
<path d="M255.2,195.7 C255.4,196.3 256.3,199.4 256.8,199.7 C257.2,200.0 257.8,197.7 258.0,197.3" fill="none" stroke="#1c1b2c" stroke-width="1.40" stroke-opacity="0.70" stroke-linecap="round" stroke-linejoin="round"/>
<path d="M262.0,218.9 C262.5,220.0 263.8,223.8 264.8,225.6 C265.9,227.3 267.3,229.3 268.5,229.6 C269.7,229.9 271.2,228.9 272.1,227.6 C273.1,226.3 273.7,224.5 274.1,221.9 C274.6,219.3 274.8,213.5 274.9,211.8" fill="none" stroke="url(#uf)" stroke-width="2.38" stroke-opacity="0.97" stroke-linecap="round" stroke-linejoin="round"/>
<path d="M262.4,179.5 C262.8,180.8 263.6,185.2 264.4,187.6 C265.3,190.0 266.4,193.1 267.5,194.0 C268.6,195.0 270.0,194.1 270.9,193.2 C271.8,192.3 272.5,190.4 272.9,188.6 C273.4,186.8 273.6,183.5 273.7,182.5" fill="none" stroke="url(#uf)" stroke-width="1.70" stroke-opacity="0.90" stroke-linecap="round" stroke-linejoin="round"/>
<path d="M262.4,141.1 C262.8,142.8 263.6,148.1 264.4,151.2 C265.3,154.3 266.7,158.4 267.7,159.7 C268.7,161.0 269.8,160.2 270.5,159.3 C271.2,158.4 271.9,155.1 272.1,154.2" fill="none" stroke="url(#uf)" stroke-width="1.27" stroke-opacity="0.65" stroke-linecap="round" stroke-linejoin="round"/>
<path d="M262.8,102.7 C263.2,104.7 264.0,110.8 264.8,114.8 C265.7,118.9 267.1,125.1 268.1,127.0 C269.0,128.8 269.9,127.3 270.5,126.0 C271.1,124.6 271.5,120.1 271.7,118.9" fill="none" stroke="url(#uf)" stroke-width="1.53" stroke-opacity="0.85" stroke-linecap="round" stroke-linejoin="round"/>
<path d="M262.8,62.3 C263.2,64.3 264.1,70.1 264.8,74.4 C265.6,78.8 266.5,85.4 267.3,88.6 C268.0,91.8 269.0,92.8 269.3,93.6" fill="none" stroke="url(#uf)" stroke-width="1.02" stroke-opacity="0.40" stroke-linecap="round" stroke-linejoin="round"/>
<path d="M274.1,211.8 C274.1,208.5 274.0,198.4 273.9,191.6" fill="none" stroke="#1c1b2c" stroke-width="1.00" stroke-opacity="0.30" stroke-linecap="butt"/>
<path d="M273.9,191.6 C273.9,184.9 273.8,174.8 273.7,171.4" fill="none" stroke="#1c1b2c" stroke-width="1.00" stroke-opacity="0.20" stroke-linecap="butt"/>
<path d="M272.9,159.3 C272.9,155.3 272.9,143.1 272.9,135.1" fill="none" stroke="#1c1b2c" stroke-width="0.90" stroke-opacity="0.15" stroke-linecap="butt"/>
<path d="M272.9,135.1 C272.9,127.0 272.9,114.8 272.9,110.8" fill="none" stroke="#1c1b2c" stroke-width="0.90" stroke-opacity="0.15" stroke-linecap="butt"/>
</g>
<g filter="url(#bl)">
<circle cx="372.1" cy="196.7" r="0.8" fill="#1c1b2c" fill-opacity="0.80"/>
<circle cx="377.2" cy="197.3" r="0.8" fill="#1c1b2c" fill-opacity="0.80"/>
<path d="M388.3,193.2 C388.7,194.4 389.8,199.0 390.7,200.1 C391.6,201.2 392.8,200.5 393.9,200.1 C395.1,199.7 396.6,197.4 397.6,197.7 C398.6,197.9 399.4,199.4 400.0,201.7 C400.6,204.1 401.0,208.3 401.4,211.8 C401.8,215.4 401.9,220.3 402.4,222.9 C403.0,225.6 404.4,226.8 404.8,227.6" fill="none" stroke="#1c1b2c" stroke-width="2.70" stroke-opacity="0.97" stroke-linecap="round" stroke-linejoin="round"/>
<path d="M389.3,131.0 C389.7,132.4 391.0,138.0 391.9,139.1 C392.8,140.2 393.8,138.1 394.7,137.5 C395.7,136.8 396.8,134.7 397.6,135.1 C398.4,135.4 399.1,138.8 399.4,139.5" fill="none" stroke="#1c1b2c" stroke-width="1.90" stroke-opacity="0.85" stroke-linecap="round" stroke-linejoin="round"/>
<path d="M389.3,68.4 C389.7,69.9 391.0,76.8 391.9,77.7 C392.8,78.5 393.8,74.7 394.7,73.4 C395.7,72.2 396.8,70.0 397.6,70.0 C398.4,70.0 399.1,72.9 399.4,73.4" fill="none" stroke="#1c1b2c" stroke-width="2.20" stroke-opacity="0.92" stroke-linecap="round" stroke-linejoin="round"/>
<path d="M401.0,221.9 C401.0,216.9 400.9,201.7 400.8,191.6" fill="none" stroke="#1c1b2c" stroke-width="2.20" stroke-opacity="0.95" stroke-linecap="butt"/>
<path d="M400.8,191.6 C400.8,181.5 400.7,171.4 400.7,161.3" fill="none" stroke="#1c1b2c" stroke-width="2.00" stroke-opacity="0.90" stroke-linecap="butt"/>
<path d="M400.7,161.3 C400.6,151.2 400.6,141.1 400.5,131.0" fill="none" stroke="#1c1b2c" stroke-width="1.80" stroke-opacity="0.85" stroke-linecap="butt"/>
<path d="M400.5,131.0 C400.4,120.9 400.4,110.8 400.3,100.7" fill="none" stroke="#1c1b2c" stroke-width="1.70" stroke-opacity="0.80" stroke-linecap="butt"/>
<path d="M400.3,100.7 C400.3,90.6 400.2,80.5 400.2,70.4" fill="none" stroke="#1c1b2c" stroke-width="1.60" stroke-opacity="0.70" stroke-linecap="butt"/>
<path d="M400.2,70.4 C400.1,60.3 400.0,45.2 400.0,40.1" fill="none" stroke="#1c1b2c" stroke-width="1.40" stroke-opacity="0.50" stroke-linecap="butt"/>
<path d="M404.4,227.0 C404.5,221.8 404.6,206.2 404.6,195.8" fill="none" stroke="#1c1b2c" stroke-width="2.00" stroke-opacity="0.90" stroke-linecap="butt"/>
<path d="M404.6,195.8 C404.6,185.4 404.6,175.1 404.6,164.7" fill="none" stroke="#1c1b2c" stroke-width="1.80" stroke-opacity="0.80" stroke-linecap="butt"/>
<path d="M404.6,164.7 C404.6,154.3 404.5,143.9 404.4,133.5" fill="none" stroke="#1c1b2c" stroke-width="1.60" stroke-opacity="0.70" stroke-linecap="butt"/>
<path d="M404.4,133.5 C404.4,123.2 404.2,112.8 404.1,102.4" fill="none" stroke="#1c1b2c" stroke-width="1.50" stroke-opacity="0.70" stroke-linecap="butt"/>
<path d="M404.1,102.4 C403.9,92.0 403.7,81.6 403.5,71.2" fill="none" stroke="#1c1b2c" stroke-width="1.40" stroke-opacity="0.60" stroke-linecap="butt"/>
<path d="M403.5,71.2 C403.3,60.9 402.9,45.3 402.8,40.1" fill="none" stroke="#1c1b2c" stroke-width="1.20" stroke-opacity="0.45" stroke-linecap="butt"/>
<path d="M405.3,217.9 C405.5,219.4 405.9,224.9 406.5,227.0 C407.0,229.1 407.8,230.1 408.5,230.4 C409.2,230.7 410.2,229.2 410.5,229.0" fill="none" stroke="#1c1b2c" stroke-width="2.20" stroke-opacity="0.95" stroke-linecap="round" stroke-linejoin="round"/>
<path d="M408.5,229.0 C408.4,223.8 408.1,208.2 407.9,197.8" fill="none" stroke="#1c1b2c" stroke-width="2.00" stroke-opacity="0.90" stroke-linecap="butt"/>
<path d="M407.9,197.8 C407.7,187.5 407.6,177.1 407.4,166.7" fill="none" stroke="#1c1b2c" stroke-width="1.70" stroke-opacity="0.75" stroke-linecap="butt"/>
<path d="M407.4,166.7 C407.3,156.3 407.2,145.9 407.1,135.6" fill="none" stroke="#1c1b2c" stroke-width="1.50" stroke-opacity="0.65" stroke-linecap="butt"/>
<path d="M407.1,135.6 C407.0,125.2 406.9,114.8 406.9,104.4" fill="none" stroke="#1c1b2c" stroke-width="1.40" stroke-opacity="0.60" stroke-linecap="butt"/>
<path d="M406.9,104.4 C406.8,94.0 406.8,83.6 406.8,73.3" fill="none" stroke="#1c1b2c" stroke-width="1.30" stroke-opacity="0.50" stroke-linecap="butt"/>
<path d="M406.8,73.3 C406.8,62.9 406.9,47.3 406.9,42.1" fill="none" stroke="#1c1b2c" stroke-width="1.10" stroke-opacity="0.35" stroke-linecap="butt"/>
<path d="M412.9,56.3 C413.7,54.2 415.4,54.6 416.2,56.3 C416.9,57.9 417.0,62.3 417.4,66.4 C417.7,70.4 417.9,71.4 418.2,80.5 C418.5,89.6 418.8,105.8 419.0,120.9 C419.2,136.1 419.4,156.3 419.4,171.4 C419.4,186.6 419.3,202.2 419.0,211.8 C418.7,221.4 418.6,226.1 417.8,229.0 C417.0,231.9 415.0,231.9 414.1,229.0 C413.3,226.1 413.0,221.4 412.5,211.8 C412.1,202.2 411.6,186.6 411.3,171.4 C411.0,156.3 410.6,135.1 410.5,120.9 C410.4,106.8 410.3,95.3 410.5,86.6 C410.7,77.8 411.1,73.4 411.5,68.4 C411.9,63.3 412.2,58.3 412.9,56.3Z" fill="#1c1b2c" fill-opacity="0.42"/>
<path d="M413.3,66.4 C414.1,64.7 415.8,63.0 416.6,70.4 C417.4,77.8 417.8,94.0 418.2,110.8 C418.5,127.6 418.6,154.6 418.6,171.4 C418.6,188.2 418.8,204.4 418.2,211.8 C417.6,219.2 415.8,219.2 414.9,215.9 C414.1,212.5 413.5,202.4 412.9,191.6 C412.4,180.8 412.0,164.7 411.7,151.2 C411.4,137.7 411.3,122.6 411.3,110.8 C411.3,99.0 411.4,87.9 411.7,80.5 C412.1,73.1 412.5,68.0 413.3,66.4Z" fill="#1c1b2c" fill-opacity="0.88"/>
<path d="M416.2,229.0 C416.1,222.7 415.9,203.8 415.8,191.2" fill="none" stroke="#1c1b2c" stroke-width="2.20" stroke-opacity="0.90" stroke-linecap="butt"/>
<path d="M415.8,191.2 C415.6,178.6 415.5,166.0 415.4,153.4" fill="none" stroke="#1c1b2c" stroke-width="2.20" stroke-opacity="0.90" stroke-linecap="butt"/>
<path d="M415.4,153.4 C415.2,140.8 415.1,128.2 414.9,115.7" fill="none" stroke="#1c1b2c" stroke-width="2.00" stroke-opacity="0.85" stroke-linecap="butt"/>
<path d="M414.9,115.7 C414.8,103.1 414.7,90.5 414.5,77.9" fill="none" stroke="#1c1b2c" stroke-width="2.60" stroke-opacity="0.55" stroke-linecap="butt" stroke-dasharray="1.2 0.8"/>
<path d="M414.5,77.9 C414.4,65.3 414.2,46.4 414.1,40.1" fill="none" stroke="#1c1b2c" stroke-width="2.40" stroke-opacity="0.40" stroke-linecap="butt" stroke-dasharray="1.2 0.8"/>
<path d="M417.8,219.9 C418.0,221.4 418.5,227.0 419.0,229.0 C419.5,230.9 420.3,231.4 421.0,231.6 C421.7,231.8 422.7,230.3 423.0,230.0" fill="none" stroke="#1c1b2c" stroke-width="2.20" stroke-opacity="0.95" stroke-linecap="round" stroke-linejoin="round"/>
<path d="M421.4,230.0 C421.4,224.7 421.3,208.9 421.2,198.4" fill="none" stroke="#1c1b2c" stroke-width="2.00" stroke-opacity="0.90" stroke-linecap="butt"/>
<path d="M421.2,198.4 C421.1,187.8 421.1,177.3 421.0,166.7" fill="none" stroke="#1c1b2c" stroke-width="1.80" stroke-opacity="0.80" stroke-linecap="butt"/>
<path d="M421.0,166.7 C420.9,156.2 420.9,145.6 420.8,135.1" fill="none" stroke="#1c1b2c" stroke-width="1.60" stroke-opacity="0.65" stroke-linecap="butt"/>
<path d="M420.8,135.1 C420.7,124.5 420.7,114.0 420.6,103.4" fill="none" stroke="#1c1b2c" stroke-width="1.40" stroke-opacity="0.55" stroke-linecap="butt"/>
<path d="M420.6,103.4 C420.5,92.9 420.5,82.3 420.4,71.8" fill="none" stroke="#1c1b2c" stroke-width="1.30" stroke-opacity="0.45" stroke-linecap="butt"/>
<path d="M420.4,71.8 C420.3,61.2 420.2,45.4 420.2,40.1" fill="none" stroke="#1c1b2c" stroke-width="1.10" stroke-opacity="0.30" stroke-linecap="butt"/>
<path d="M419.0,131.0 C419.3,131.7 420.1,134.6 420.6,135.1 C421.1,135.5 421.6,133.7 421.8,133.4" fill="none" stroke="#1c1b2c" stroke-width="1.40" stroke-opacity="0.70" stroke-linecap="round" stroke-linejoin="round"/>
<path d="M419.0,163.3 C419.3,164.0 420.1,167.0 420.6,167.4 C421.1,167.7 421.6,165.7 421.8,165.4" fill="none" stroke="#1c1b2c" stroke-width="1.40" stroke-opacity="0.70" stroke-linecap="round" stroke-linejoin="round"/>
<path d="M425.7,219.5 C426.2,220.3 427.6,223.0 428.7,224.3 C429.8,225.7 431.0,227.3 432.3,227.6 C433.7,227.8 435.5,226.7 436.8,226.0 C438.0,225.2 439.3,224.4 440.0,222.9 C440.7,221.4 440.8,219.0 441.0,216.9 C441.2,214.8 441.3,211.5 441.4,210.4" fill="none" stroke="url(#uf)" stroke-width="2.46" stroke-opacity="0.97" stroke-linecap="round" stroke-linejoin="round"/>
<path d="M425.7,175.5 C426.0,176.8 426.7,181.1 427.5,183.5 C428.2,186.0 429.2,188.6 430.3,190.0 C431.4,191.4 433.1,192.6 434.3,192.2 C435.6,191.8 437.0,189.7 438.0,187.6 C438.9,185.5 439.5,182.9 440.0,179.5 C440.5,176.1 440.7,169.4 440.8,167.4" fill="none" stroke="url(#uf)" stroke-width="1.78" stroke-opacity="0.92" stroke-linecap="round" stroke-linejoin="round"/>
<path d="M425.7,137.1 C426.0,138.6 426.7,143.4 427.5,146.2 C428.2,148.9 429.2,151.7 430.3,153.6 C431.4,155.6 432.9,157.6 433.9,157.7 C435.0,157.8 436.0,155.8 436.8,154.2 C437.5,152.7 438.1,149.2 438.4,148.2" fill="none" stroke="url(#uf)" stroke-width="1.44" stroke-opacity="0.80" stroke-linecap="round" stroke-linejoin="round"/>
<path d="M425.7,98.7 C426.0,100.4 426.7,105.6 427.5,108.8 C428.2,112.0 429.2,115.5 430.3,117.9 C431.4,120.3 432.9,123.3 433.9,123.3 C435.0,123.3 436.1,120.3 436.8,117.9 C437.5,115.5 437.8,113.3 438.2,108.8 C438.5,104.2 438.7,93.6 438.8,90.6" fill="none" stroke="url(#uf)" stroke-width="1.70" stroke-opacity="0.90" stroke-linecap="round" stroke-linejoin="round"/>
<path d="M425.7,58.3 C425.9,60.0 426.4,64.7 427.1,68.4 C427.7,72.1 428.8,77.1 429.7,80.5 C430.6,83.9 431.5,87.0 432.3,88.6 C433.1,90.1 434.0,89.6 434.3,89.8" fill="none" stroke="url(#uf)" stroke-width="1.44" stroke-opacity="0.75" stroke-linecap="round" stroke-linejoin="round"/>
<path d="M440.4,167.4 C440.4,164.3 440.3,155.3 440.2,149.2" fill="none" stroke="#1c1b2c" stroke-width="1.00" stroke-opacity="0.30" stroke-linecap="butt"/>
<path d="M440.2,149.2 C440.1,143.1 440.0,134.0 440.0,131.0" fill="none" stroke="#1c1b2c" stroke-width="1.00" stroke-opacity="0.20" stroke-linecap="butt"/>
</g>
<g filter="url(#bl)">
<circle cx="534.5" cy="195.3" r="0.7" fill="#1c1b2c" fill-opacity="0.50"/>
<circle cx="539.2" cy="196.7" r="0.9" fill="#1c1b2c" fill-opacity="0.85"/>
<circle cx="543.8" cy="197.3" r="0.9" fill="#1c1b2c" fill-opacity="0.85"/>
<path d="M553.3,195.3 C553.8,196.0 555.3,199.0 556.4,199.7 C557.5,200.4 558.9,199.6 560.0,199.3 C561.1,199.0 562.4,196.9 563.2,197.7 C564.1,198.4 564.7,201.0 565.3,203.7 C565.8,206.4 566.1,210.2 566.5,213.8 C566.9,217.5 567.2,223.0 567.7,225.6 C568.2,228.1 569.2,228.4 569.5,229.0" fill="none" stroke="#1c1b2c" stroke-width="2.80" stroke-opacity="0.97" stroke-linecap="round" stroke-linejoin="round"/>
<path d="M556.0,76.1 C556.2,75.3 556.9,72.6 557.6,71.6 C558.2,70.7 559.1,69.9 559.8,70.4 C560.5,70.9 561.5,72.5 562.0,74.8 C562.6,77.2 562.8,80.9 563.0,84.5 C563.3,88.2 563.5,94.6 563.6,96.7" fill="none" stroke="#1c1b2c" stroke-width="1.60" stroke-opacity="0.88" stroke-linecap="round" stroke-linejoin="round"/>
<path d="M553.9,133.4 C554.4,134.0 555.8,136.5 556.8,136.7 C557.7,136.9 558.7,134.1 559.6,134.6 C560.5,135.2 561.5,138.4 562.0,140.1 C562.6,141.9 562.7,144.3 562.8,145.2" fill="none" stroke="#1c1b2c" stroke-width="1.30" stroke-opacity="0.50" stroke-linecap="round" stroke-linejoin="round"/>
<path d="M564.8,223.9 C564.8,218.3 564.7,201.3 564.7,190.0" fill="none" stroke="#1c1b2c" stroke-width="2.00" stroke-opacity="0.85" stroke-linecap="butt"/>
<path d="M564.7,190.0 C564.6,178.7 564.6,167.4 564.5,156.1" fill="none" stroke="#1c1b2c" stroke-width="1.60" stroke-opacity="0.60" stroke-linecap="butt" stroke-dasharray="1.5 1"/>
<path d="M564.5,156.1 C564.5,144.7 564.4,133.4 564.4,122.1" fill="none" stroke="#1c1b2c" stroke-width="1.30" stroke-opacity="0.45" stroke-linecap="butt" stroke-dasharray="1.5 1"/>
<path d="M564.4,122.1 C564.3,110.8 564.3,99.5 564.2,88.2" fill="none" stroke="#1c1b2c" stroke-width="1.10" stroke-opacity="0.40" stroke-linecap="butt" stroke-dasharray="1.5 1"/>
<path d="M564.2,88.2 C564.1,76.9 564.1,59.9 564.0,54.2" fill="none" stroke="#1c1b2c" stroke-width="1.00" stroke-opacity="0.25" stroke-linecap="butt" stroke-dasharray="1.5 1"/>
<path d="M569.3,229.0 C569.2,223.0 569.1,205.2 569.0,193.2" fill="none" stroke="#1c1b2c" stroke-width="2.20" stroke-opacity="0.95" stroke-linecap="butt"/>
<path d="M569.0,193.2 C568.9,181.3 568.8,169.4 568.6,157.5" fill="none" stroke="#1c1b2c" stroke-width="1.90" stroke-opacity="0.80" stroke-linecap="butt"/>
<path d="M568.6,157.5 C568.5,145.6 568.4,133.6 568.3,121.7" fill="none" stroke="#1c1b2c" stroke-width="1.60" stroke-opacity="0.65" stroke-linecap="butt"/>
<path d="M568.3,121.7 C568.2,109.8 568.1,97.9 568.0,86.0" fill="none" stroke="#1c1b2c" stroke-width="1.40" stroke-opacity="0.55" stroke-linecap="butt"/>
<path d="M568.0,86.0 C567.9,74.0 567.7,56.2 567.7,50.2" fill="none" stroke="#1c1b2c" stroke-width="1.20" stroke-opacity="0.35" stroke-linecap="butt"/>
<path d="M570.5,219.9 C570.7,221.4 571.2,227.0 571.7,229.0 C572.3,231.0 573.1,231.8 573.7,232.0 C574.4,232.3 575.4,230.7 575.8,230.4" fill="none" stroke="#1c1b2c" stroke-width="2.30" stroke-opacity="0.95" stroke-linecap="round" stroke-linejoin="round"/>
<path d="M573.7,230.0 C573.7,223.9 573.5,205.5 573.4,193.2" fill="none" stroke="#1c1b2c" stroke-width="2.00" stroke-opacity="0.90" stroke-linecap="butt"/>
<path d="M573.4,193.2 C573.3,181.0 573.2,168.7 573.1,156.5" fill="none" stroke="#1c1b2c" stroke-width="1.70" stroke-opacity="0.75" stroke-linecap="butt"/>
<path d="M573.1,156.5 C573.0,144.2 572.9,132.0 572.8,119.7" fill="none" stroke="#1c1b2c" stroke-width="1.50" stroke-opacity="0.65" stroke-linecap="butt"/>
<path d="M572.8,119.7 C572.7,107.4 572.6,95.2 572.4,82.9" fill="none" stroke="#1c1b2c" stroke-width="1.40" stroke-opacity="0.55" stroke-linecap="butt"/>
<path d="M572.4,82.9 C572.3,70.7 572.2,52.3 572.1,46.2" fill="none" stroke="#1c1b2c" stroke-width="1.20" stroke-opacity="0.35" stroke-linecap="butt"/>
<path d="M574.9,60.3 C575.8,58.3 578.1,57.9 579.0,60.3 C579.9,62.7 579.8,66.0 580.2,74.4 C580.6,82.9 581.1,94.6 581.4,110.8 C581.7,127.0 581.8,154.6 581.8,171.4 C581.8,188.2 581.7,202.2 581.4,211.8 C581.1,221.4 581.0,226.1 580.2,229.0 C579.4,231.9 577.4,231.9 576.6,229.0 C575.7,226.1 575.4,221.4 574.9,211.8 C574.5,202.2 574.1,186.6 573.7,171.4 C573.4,156.3 573.1,134.4 572.9,120.9 C572.8,107.4 572.8,98.7 572.9,90.6 C573.1,82.5 573.4,77.5 573.7,72.4 C574.1,67.4 574.1,62.3 574.9,60.3Z" fill="#1c1b2c" fill-opacity="0.40"/>
<path d="M575.4,70.4 C576.1,68.9 577.7,66.7 578.6,73.4 C579.5,80.2 580.2,94.5 580.6,110.8 C581.0,127.1 581.2,154.6 581.2,171.4 C581.2,188.2 581.2,204.1 580.6,211.8 C580.0,219.6 578.6,221.2 577.8,217.9 C577.0,214.5 576.3,202.7 575.8,191.6 C575.2,180.5 574.8,164.7 574.5,151.2 C574.3,137.7 574.2,122.3 574.1,110.8 C574.1,99.4 573.9,89.3 574.1,82.5 C574.3,75.8 574.6,71.9 575.4,70.4Z" fill="#1c1b2c" fill-opacity="0.90"/>
<path d="M578.6,229.0 C578.5,222.8 578.3,204.1 578.2,191.6" fill="none" stroke="#1c1b2c" stroke-width="2.20" stroke-opacity="0.90" stroke-linecap="butt"/>
<path d="M578.2,191.6 C578.0,179.2 577.9,166.7 577.8,154.2" fill="none" stroke="#1c1b2c" stroke-width="2.20" stroke-opacity="0.90" stroke-linecap="butt"/>
<path d="M577.8,154.2 C577.6,141.8 577.5,129.3 577.4,116.9" fill="none" stroke="#1c1b2c" stroke-width="2.00" stroke-opacity="0.85" stroke-linecap="butt"/>
<path d="M577.4,116.9 C577.2,104.4 577.1,92.0 577.0,79.5" fill="none" stroke="#1c1b2c" stroke-width="2.60" stroke-opacity="0.50" stroke-linecap="butt" stroke-dasharray="1.2 0.8"/>
<path d="M577.0,79.5 C576.8,67.0 576.6,48.4 576.6,42.1" fill="none" stroke="#1c1b2c" stroke-width="2.40" stroke-opacity="0.30" stroke-linecap="butt" stroke-dasharray="1.2 0.8"/>
<path d="M581.4,220.9 C581.6,222.4 582.1,227.7 582.6,229.6 C583.2,231.4 584.0,231.9 584.6,232.0 C585.3,232.2 586.3,230.7 586.7,230.4" fill="none" stroke="#1c1b2c" stroke-width="2.30" stroke-opacity="0.95" stroke-linecap="round" stroke-linejoin="round"/>
<path d="M584.6,230.0 C584.6,223.8 584.5,205.1 584.4,192.6" fill="none" stroke="#1c1b2c" stroke-width="2.00" stroke-opacity="0.90" stroke-linecap="butt"/>
<path d="M584.4,192.6 C584.4,180.2 584.3,167.7 584.2,155.3" fill="none" stroke="#1c1b2c" stroke-width="1.80" stroke-opacity="0.80" stroke-linecap="butt"/>
<path d="M584.2,155.3 C584.2,142.8 584.1,130.3 584.0,117.9" fill="none" stroke="#1c1b2c" stroke-width="1.60" stroke-opacity="0.65" stroke-linecap="butt"/>
<path d="M584.0,117.9 C584.0,105.4 583.9,86.7 583.8,80.5" fill="none" stroke="#1c1b2c" stroke-width="1.30" stroke-opacity="0.45" stroke-linecap="butt"/>
<path d="M583.8,80.5 C583.8,77.3 583.7,67.7 583.6,61.3" fill="none" stroke="#1c1b2c" stroke-width="1.00" stroke-opacity="0.30" stroke-linecap="butt" stroke-dasharray="1.5 1"/>
<path d="M583.6,61.3 C583.6,54.9 583.5,45.3 583.4,42.1" fill="none" stroke="#1c1b2c" stroke-width="1.00" stroke-opacity="0.20" stroke-linecap="butt" stroke-dasharray="1.5 1"/>
<path d="M587.7,218.3 C588.1,219.2 589.3,222.3 590.3,223.9 C591.3,225.6 592.5,227.8 593.9,228.4 C595.4,229.0 597.3,228.2 598.8,227.6 C600.3,226.9 601.7,225.8 602.8,224.3 C604.0,222.9 605.2,219.8 605.7,218.9" fill="none" stroke="url(#uf)" stroke-width="2.55" stroke-opacity="0.97" stroke-linecap="round" stroke-linejoin="round"/>
<path d="M605.7,218.9 C606.1,218.6 607.3,218.0 608.1,216.9 C608.9,215.7 609.8,213.7 610.5,211.8 C611.2,209.9 611.9,206.4 612.1,205.4" fill="none" stroke="url(#uf)" stroke-width="1.87" stroke-opacity="0.90" stroke-linecap="round" stroke-linejoin="round"/>
<path d="M588.7,177.5 C589.0,178.8 589.6,183.0 590.3,185.6 C591.0,188.1 591.9,190.9 593.1,192.6 C594.3,194.4 596.2,196.0 597.6,196.1 C598.9,196.2 600.3,194.6 601.2,193.2 C602.2,191.8 602.9,188.5 603.2,187.6" fill="none" stroke="url(#uf)" stroke-width="2.04" stroke-opacity="0.95" stroke-linecap="round" stroke-linejoin="round"/>
<path d="M588.7,137.1 C589.0,138.8 589.6,143.7 590.3,147.2 C591.0,150.6 592.0,155.1 593.1,157.7 C594.3,160.2 596.0,162.1 597.2,162.5 C598.4,163.0 599.5,161.4 600.4,160.3 C601.3,159.2 602.1,156.4 602.4,155.7" fill="none" stroke="url(#uf)" stroke-width="1.70" stroke-opacity="0.90" stroke-linecap="round" stroke-linejoin="round"/>
<path d="M588.7,100.7 C589.0,102.6 589.6,108.0 590.3,111.8 C591.0,115.6 592.0,120.4 593.1,123.3 C594.3,126.3 595.9,128.9 597.2,129.4 C598.5,129.9 599.9,128.1 600.8,126.6 C601.8,125.0 602.5,121.0 602.8,119.9" fill="none" stroke="url(#uf)" stroke-width="2.04" stroke-opacity="0.95" stroke-linecap="round" stroke-linejoin="round"/>
<path d="M588.7,60.3 C589.0,62.5 589.6,68.7 590.3,73.4 C591.0,78.1 591.8,84.9 592.7,88.6 C593.7,92.3 594.9,94.5 596.0,95.7 C597.0,96.8 598.3,95.7 598.8,95.7" fill="none" stroke="url(#uf)" stroke-width="1.70" stroke-opacity="0.90" stroke-linecap="round" stroke-linejoin="round"/>
<path d="M603.2,187.6 C603.3,185.2 603.4,178.1 603.4,173.4" fill="none" stroke="#1c1b2c" stroke-width="1.00" stroke-opacity="0.30" stroke-linecap="butt"/>
<path d="M603.4,173.4 C603.5,168.7 603.6,161.6 603.6,159.3" fill="none" stroke="#1c1b2c" stroke-width="1.00" stroke-opacity="0.20" stroke-linecap="butt"/>
<path d="M602.8,119.9 C602.9,118.0 603.0,112.2 603.0,108.3" fill="none" stroke="#1c1b2c" stroke-width="1.00" stroke-opacity="0.25" stroke-linecap="butt"/>
<path d="M603.0,108.3 C603.1,104.4 603.2,98.6 603.2,96.7" fill="none" stroke="#1c1b2c" stroke-width="1.00" stroke-opacity="0.15" stroke-linecap="butt"/>
<path d="M607.3,175.5 C607.5,174.4 608.5,171.4 608.9,169.4 C609.3,167.4 609.6,164.3 609.7,163.3" fill="none" stroke="url(#uf)" stroke-width="0.85" stroke-opacity="0.30" stroke-linecap="round" stroke-linejoin="round"/>
<circle cx="608.3" cy="83.5" r="0.6" fill="#1c1b2c" fill-opacity="0.40"/>
</g>
<g filter="url(#bl)">
<path d="M837.0,199.1 C837.5,199.7 838.9,202.0 840.0,202.3 C841.0,202.6 842.3,201.1 843.3,200.8 C844.4,200.5 845.5,199.6 846.3,200.4 C847.1,201.2 847.9,203.3 848.4,205.9 C849.0,208.5 849.2,212.5 849.7,216.0 C850.2,219.6 850.7,224.6 851.4,227.0 C852.1,229.4 853.0,229.8 853.9,230.4 C854.8,231.1 856.4,230.8 856.9,230.8" fill="none" stroke="#1c1b2c" stroke-width="2.80" stroke-opacity="0.97" stroke-linecap="round" stroke-linejoin="round"/>
<path d="M838.5,79.0 C838.7,78.3 839.3,75.6 840.0,74.4 C840.7,73.2 841.7,71.9 842.7,71.9 C843.7,71.8 845.1,72.7 845.9,74.0 C846.7,75.3 847.1,77.7 847.6,79.7 C848.0,81.7 848.3,85.0 848.4,86.0" fill="none" stroke="#1c1b2c" stroke-width="1.60" stroke-opacity="0.85" stroke-linecap="round" stroke-linejoin="round"/>
<path d="M850.5,226.6 C850.6,220.5 850.7,202.3 850.7,190.1" fill="none" stroke="#1c1b2c" stroke-width="2.20" stroke-opacity="0.90" stroke-linecap="butt"/>
<path d="M850.7,190.1 C850.7,178.0 850.6,165.8 850.5,153.7" fill="none" stroke="#1c1b2c" stroke-width="2.00" stroke-opacity="0.80" stroke-linecap="butt"/>
<path d="M850.5,153.7 C850.4,141.5 850.2,129.4 850.0,117.2" fill="none" stroke="#1c1b2c" stroke-width="1.80" stroke-opacity="0.70" stroke-linecap="butt"/>
<path d="M850.0,117.2 C849.8,105.1 849.4,86.8 849.3,80.7" fill="none" stroke="#1c1b2c" stroke-width="1.50" stroke-opacity="0.50" stroke-linecap="butt"/>
<path d="M849.3,80.7 C849.3,77.5 849.5,67.7 849.7,61.2" fill="none" stroke="#1c1b2c" stroke-width="1.00" stroke-opacity="0.40" stroke-linecap="butt" stroke-dasharray="1.5 1"/>
<path d="M849.7,61.2 C849.8,54.7 850.0,44.9 850.1,41.6" fill="none" stroke="#1c1b2c" stroke-width="1.00" stroke-opacity="0.30" stroke-linecap="butt" stroke-dasharray="1.5 1"/>
<path d="M853.9,229.8 C853.9,224.1 853.7,207.1 853.6,195.7" fill="none" stroke="#1c1b2c" stroke-width="2.00" stroke-opacity="0.85" stroke-linecap="butt"/>
<path d="M853.6,195.7 C853.5,184.3 853.4,173.0 853.3,161.6" fill="none" stroke="#1c1b2c" stroke-width="1.80" stroke-opacity="0.80" stroke-linecap="butt"/>
<path d="M853.3,161.6 C853.2,150.2 853.1,138.9 853.0,127.5" fill="none" stroke="#1c1b2c" stroke-width="1.60" stroke-opacity="0.75" stroke-linecap="butt"/>
<path d="M853.0,127.5 C852.9,116.2 852.7,99.1 852.6,93.4" fill="none" stroke="#1c1b2c" stroke-width="1.40" stroke-opacity="0.60" stroke-linecap="butt"/>
<path d="M854.8,222.4 C855.0,223.7 855.5,228.7 856.0,230.4 C856.5,232.2 857.2,232.8 857.7,233.0 C858.3,233.1 859.1,231.6 859.4,231.3" fill="none" stroke="#1c1b2c" stroke-width="2.20" stroke-opacity="0.95" stroke-linecap="round" stroke-linejoin="round"/>
<path d="M857.3,230.8 C857.2,225.1 857.1,208.0 857.0,196.6" fill="none" stroke="#1c1b2c" stroke-width="2.00" stroke-opacity="0.90" stroke-linecap="butt"/>
<path d="M857.0,196.6 C856.8,185.2 856.7,173.8 856.6,162.3" fill="none" stroke="#1c1b2c" stroke-width="1.80" stroke-opacity="0.80" stroke-linecap="butt"/>
<path d="M856.6,162.3 C856.5,150.9 856.4,139.5 856.3,128.1" fill="none" stroke="#1c1b2c" stroke-width="1.60" stroke-opacity="0.70" stroke-linecap="butt"/>
<path d="M856.3,128.1 C856.2,116.7 856.1,105.3 855.9,93.8" fill="none" stroke="#1c1b2c" stroke-width="1.40" stroke-opacity="0.60" stroke-linecap="butt"/>
<path d="M855.9,93.8 C855.8,82.4 855.7,65.3 855.6,59.6" fill="none" stroke="#1c1b2c" stroke-width="1.30" stroke-opacity="0.50" stroke-linecap="butt"/>
<path d="M855.6,59.6 C855.7,56.6 856.3,44.6 856.4,41.6" fill="none" stroke="#1c1b2c" stroke-width="1.10" stroke-opacity="0.40" stroke-linecap="butt" stroke-dasharray="1.5 1"/>
<path d="M859.8,65.9 C860.6,63.8 862.4,63.8 863.2,65.9 C864.0,68.1 864.2,74.0 864.7,78.6 C865.2,83.2 865.6,83.9 866.0,93.4 C866.3,102.9 866.7,119.9 866.8,135.7 C866.9,151.6 866.9,173.8 866.8,188.6 C866.7,203.4 866.6,217.5 866.2,224.5 C865.7,231.6 864.9,230.0 864.1,230.8 C863.2,231.7 861.8,233.3 861.1,229.8 C860.4,226.3 860.0,220.1 859.6,209.7 C859.2,199.3 858.9,181.5 858.6,167.4 C858.2,153.3 857.9,136.8 857.7,125.1 C857.6,113.5 857.6,105.4 857.7,97.7 C857.9,89.9 858.2,83.9 858.6,78.6 C858.9,73.3 859.1,68.1 859.8,65.9Z" fill="#1c1b2c" fill-opacity="0.40"/>
<path d="M859.8,78.6 C860.6,75.5 862.3,77.2 863.2,80.7 C864.2,84.3 865.0,88.8 865.5,99.8 C866.1,110.7 866.3,129.7 866.4,146.3 C866.5,162.8 866.3,186.1 866.0,199.1 C865.6,212.2 865.1,221.0 864.5,224.5 C863.9,228.0 863.0,228.0 862.4,220.3 C861.7,212.5 861.0,192.1 860.5,178.0 C859.9,163.9 859.3,148.7 859.0,135.7 C858.7,122.7 858.4,109.3 858.6,99.8 C858.7,90.3 859.1,81.8 859.8,78.6Z" fill="#1c1b2c" fill-opacity="0.90"/>
<path d="M863.2,230.8 C863.1,224.6 862.9,205.8 862.8,193.2" fill="none" stroke="#1c1b2c" stroke-width="2.20" stroke-opacity="0.90" stroke-linecap="butt"/>
<path d="M862.8,193.2 C862.6,180.7 862.5,168.1 862.4,155.6" fill="none" stroke="#1c1b2c" stroke-width="2.20" stroke-opacity="0.90" stroke-linecap="butt"/>
<path d="M862.4,155.6 C862.2,143.0 862.1,130.5 861.9,117.9" fill="none" stroke="#1c1b2c" stroke-width="2.00" stroke-opacity="0.85" stroke-linecap="butt"/>
<path d="M861.9,117.9 C861.8,105.4 861.7,92.9 861.5,80.3" fill="none" stroke="#1c1b2c" stroke-width="2.60" stroke-opacity="0.50" stroke-linecap="butt" stroke-dasharray="1.2 0.8"/>
<path d="M861.5,80.3 C861.4,67.8 861.2,49.0 861.1,42.7" fill="none" stroke="#1c1b2c" stroke-width="2.40" stroke-opacity="0.35" stroke-linecap="butt" stroke-dasharray="1.2 0.8"/>
<path d="M866.2,220.3 C866.4,221.9 866.9,227.7 867.4,229.8 C868.0,231.8 868.9,232.4 869.6,232.5 C870.3,232.7 871.3,231.1 871.7,230.8" fill="none" stroke="#1c1b2c" stroke-width="2.20" stroke-opacity="0.95" stroke-linecap="round" stroke-linejoin="round"/>
<path d="M869.6,230.8 C869.5,225.6 869.4,209.7 869.3,199.1" fill="none" stroke="#1c1b2c" stroke-width="2.00" stroke-opacity="0.90" stroke-linecap="butt"/>
<path d="M869.3,199.1 C869.2,188.6 869.1,178.0 869.0,167.4" fill="none" stroke="#1c1b2c" stroke-width="1.80" stroke-opacity="0.75" stroke-linecap="butt"/>
<path d="M869.0,167.4 C868.9,156.8 868.8,141.0 868.7,135.7" fill="none" stroke="#1c1b2c" stroke-width="1.50" stroke-opacity="0.55" stroke-linecap="butt"/>
<path d="M871.7,228.7 C871.6,223.1 871.4,206.2 871.2,194.9" fill="none" stroke="#1c1b2c" stroke-width="1.60" stroke-opacity="0.70" stroke-linecap="butt"/>
<path d="M871.2,194.9 C871.1,183.6 870.9,166.7 870.8,161.1" fill="none" stroke="#1c1b2c" stroke-width="1.30" stroke-opacity="0.50" stroke-linecap="butt"/>
<path d="M867.0,131.5 C867.4,132.2 868.6,134.6 869.1,135.7 C869.7,136.8 870.2,137.8 870.4,138.2" fill="none" stroke="#1c1b2c" stroke-width="1.30" stroke-opacity="0.60" stroke-linecap="round" stroke-linejoin="round"/>
<path d="M867.4,165.3 C867.8,166.0 869.0,169.0 869.6,169.5 C870.1,170.1 870.6,168.7 870.8,168.5" fill="none" stroke="#1c1b2c" stroke-width="1.30" stroke-opacity="0.60" stroke-linecap="round" stroke-linejoin="round"/>
<path d="M874.2,221.3 C874.7,222.1 876.2,225.0 877.2,226.2 C878.2,227.4 879.1,228.2 880.1,228.3 C881.2,228.4 882.6,227.2 883.5,226.6 C884.4,226.1 885.2,226.3 885.6,224.9 C886.1,223.5 886.1,220.5 886.3,218.2 C886.4,215.8 886.4,212.0 886.5,210.8" fill="none" stroke="url(#uf)" stroke-width="2.55" stroke-opacity="0.97" stroke-linecap="round" stroke-linejoin="round"/>
<path d="M873.4,178.0 C873.7,179.2 874.6,183.2 875.5,185.4 C876.4,187.6 877.5,189.8 878.6,191.1 C879.8,192.4 881.3,193.5 882.2,193.2 C883.2,193.0 883.8,191.5 884.4,189.6 C884.9,187.8 885.4,183.5 885.6,182.2" fill="none" stroke="url(#uf)" stroke-width="1.95" stroke-opacity="0.93" stroke-linecap="round" stroke-linejoin="round"/>
<path d="M873.8,144.2 C874.2,145.4 875.4,149.5 876.3,151.6 C877.2,153.7 878.3,155.8 879.3,156.8 C880.3,157.9 881.5,158.2 882.2,158.1 C883.0,158.0 883.7,156.7 883.9,156.4" fill="none" stroke="url(#uf)" stroke-width="1.27" stroke-opacity="0.60" stroke-linecap="round" stroke-linejoin="round"/>
<path d="M874.4,101.9 C874.7,103.5 875.4,108.4 876.1,111.4 C876.8,114.4 877.9,117.8 878.9,119.9 C879.8,121.9 881.0,123.4 881.8,123.4 C882.7,123.4 883.4,122.0 883.9,119.9 C884.5,117.7 884.8,111.9 885.0,110.3" fill="none" stroke="url(#uf)" stroke-width="1.87" stroke-opacity="0.93" stroke-linecap="round" stroke-linejoin="round"/>
<path d="M874.4,60.7 C874.6,62.2 875.2,67.0 875.7,70.2 C876.2,73.3 876.9,76.9 877.6,79.7 C878.3,82.5 879.1,85.4 879.7,87.1 C880.3,88.7 880.8,89.2 881.0,89.6" fill="none" stroke="url(#uf)" stroke-width="1.70" stroke-opacity="0.90" stroke-linecap="round" stroke-linejoin="round"/>
<path d="M885.2,182.2 C885.1,179.4 884.8,168.1 884.8,165.3" fill="none" stroke="#1c1b2c" stroke-width="1.00" stroke-opacity="0.30" stroke-linecap="butt"/>
</g>
<g filter="url(#bl2)">
<g filter="url(#bl4)">
<path d="M765.5,144.2 C769.4,130.4 781.7,118.1 788.8,114.6 C795.8,111.0 804.3,109.3 807.8,123.0 C811.3,136.8 813.1,183.3 809.9,197.0 C806.8,210.8 796.2,205.5 788.8,205.5 C781.4,205.5 769.4,207.2 765.5,197.0 C761.7,186.8 761.7,157.9 765.5,144.2Z" fill="#1c1b2c" fill-opacity="0.06"/>
</g>
<path d="M811.6,145.2 C812.5,144.5 813.9,150.7 815.2,156.8 C816.5,163.0 818.1,173.4 819.5,182.2 C820.8,191.0 822.2,202.1 823.0,209.7 C823.9,217.3 825.1,224.9 824.7,227.7 C824.4,230.5 822.2,228.6 820.9,226.6 C819.7,224.7 818.6,218.5 817.3,216.0 C816.0,213.6 814.3,211.8 813.1,211.8 C811.9,211.8 810.6,219.6 809.9,216.0 C809.2,212.5 808.9,199.8 808.9,190.7 C808.9,181.5 809.5,168.7 809.9,161.1 C810.4,153.5 810.7,145.9 811.6,145.2Z" fill="#1c1b2c" fill-opacity="0.42"/>
<path d="M812.1,156.8 C812.8,156.1 814.7,166.7 815.9,173.8 C817.0,180.8 818.4,192.8 818.8,199.1 C819.2,205.5 819.2,211.8 818.4,211.8 C817.6,211.8 815.3,204.8 814.2,199.1 C813.0,193.5 812.0,185.0 811.6,178.0 C811.3,170.9 811.3,157.6 812.1,156.8Z" fill="#1c1b2c" fill-opacity="0.30"/>
<path d="M823.7,237.2 C823.5,234.4 822.8,223.1 822.6,220.3" fill="none" stroke="#1c1b2c" stroke-width="2.00" stroke-opacity="0.20" stroke-linecap="butt"/>
</g>
<g filter="url(#bl)">
<path d="M713.7,244.0 C714.6,243.4 717.4,241.3 719.0,240.4 C720.7,239.4 722.3,238.8 723.7,238.2 C725.1,237.7 726.8,237.4 727.5,237.2" fill="none" stroke="#1c1b2c" stroke-width="1.10" stroke-opacity="0.50" stroke-linecap="round" stroke-linejoin="round"/>
<path d="M731.7,237.6 C732.5,236.8 734.9,235.0 736.4,233.0" fill="none" stroke="#1c1b2c" stroke-width="1.92" stroke-opacity="0.80" stroke-linecap="butt"/>
<path d="M736.4,233.0 C737.8,231.0 739.3,228.0 740.6,225.6" fill="none" stroke="#1c1b2c" stroke-width="2.40" stroke-opacity="0.95" stroke-linecap="butt"/>
<path d="M740.6,225.6 C741.9,223.1 743.1,220.4 744.0,218.2" fill="none" stroke="#1c1b2c" stroke-width="2.76" stroke-opacity="0.97" stroke-linecap="butt"/>
<path d="M744.0,218.2 C744.9,215.9 745.6,213.2 745.9,212.2" fill="none" stroke="#1c1b2c" stroke-width="2.76" stroke-opacity="0.97" stroke-linecap="butt"/>
<path d="M738.1,199.1 C738.7,197.2 740.6,191.4 741.9,187.5" fill="none" stroke="#1c1b2c" stroke-width="1.20" stroke-opacity="0.25" stroke-linecap="butt" stroke-dasharray="1.4 1.0"/>
<path d="M741.9,187.5 C743.1,183.6 744.9,177.8 745.5,175.9" fill="none" stroke="#1c1b2c" stroke-width="1.20" stroke-opacity="0.18" stroke-linecap="butt" stroke-dasharray="1.4 1.0"/>
<path d="M746.9,231.9 C747.4,230.0 749.0,224.9 749.9,220.3" fill="none" stroke="#1c1b2c" stroke-width="2.64" stroke-opacity="0.97" stroke-linecap="butt"/>
<path d="M749.9,220.3 C750.8,215.7 751.4,211.6 752.4,204.4" fill="none" stroke="#1c1b2c" stroke-width="2.64" stroke-opacity="0.95" stroke-linecap="butt"/>
<path d="M752.4,204.4 C753.4,197.2 755.2,187.2 755.8,176.9" fill="none" stroke="#1c1b2c" stroke-width="2.04" stroke-opacity="0.78" stroke-linecap="butt"/>
<path d="M755.8,176.9 C756.4,166.7 756.2,148.7 756.2,143.1" fill="none" stroke="#1c1b2c" stroke-width="1.56" stroke-opacity="0.55" stroke-linecap="butt" stroke-dasharray="1.4 1.0"/>
<path d="M756.2,143.1 C756.3,141.3 756.3,135.9 756.3,132.3" fill="none" stroke="#1c1b2c" stroke-width="1.80" stroke-opacity="0.55" stroke-linecap="butt" stroke-dasharray="1.4 1.0"/>
<path d="M756.3,132.3 C756.4,128.7 756.4,125.0 756.4,121.4" fill="none" stroke="#1c1b2c" stroke-width="1.68" stroke-opacity="0.47" stroke-linecap="butt" stroke-dasharray="1.4 1.0"/>
<path d="M756.4,121.4 C756.5,117.8 756.5,114.2 756.6,110.6" fill="none" stroke="#1c1b2c" stroke-width="1.56" stroke-opacity="0.35" stroke-linecap="butt" stroke-dasharray="1.4 1.0"/>
<path d="M756.6,110.6 C756.6,107.0 756.6,101.6 756.7,99.8" fill="none" stroke="#1c1b2c" stroke-width="1.32" stroke-opacity="0.21" stroke-linecap="butt" stroke-dasharray="1.4 1.0"/>
<path d="M754.5,227.7 C755.0,225.7 756.6,220.6 757.5,216.0" fill="none" stroke="#1c1b2c" stroke-width="2.76" stroke-opacity="0.97" stroke-linecap="butt"/>
<path d="M757.5,216.0 C758.4,211.5 759.1,207.4 760.0,200.2" fill="none" stroke="#1c1b2c" stroke-width="2.76" stroke-opacity="0.95" stroke-linecap="butt"/>
<path d="M760.0,200.2 C761.0,193.0 762.7,182.9 763.4,172.7" fill="none" stroke="#1c1b2c" stroke-width="2.16" stroke-opacity="0.78" stroke-linecap="butt"/>
<path d="M763.4,172.7 C764.1,162.5 764.1,144.5 764.3,138.9" fill="none" stroke="#1c1b2c" stroke-width="1.68" stroke-opacity="0.55" stroke-linecap="butt" stroke-dasharray="1.4 1.0"/>
<path d="M764.3,138.9 C764.3,135.5 764.3,125.3 764.4,118.5" fill="none" stroke="#1c1b2c" stroke-width="1.80" stroke-opacity="0.65" stroke-linecap="butt"/>
<path d="M764.4,118.5 C764.4,111.7 764.4,105.0 764.5,98.2" fill="none" stroke="#1c1b2c" stroke-width="1.68" stroke-opacity="0.55" stroke-linecap="butt" stroke-dasharray="1.4 1.0"/>
<path d="M764.5,98.2 C764.5,91.4 764.6,84.6 764.6,77.8" fill="none" stroke="#1c1b2c" stroke-width="1.56" stroke-opacity="0.45" stroke-linecap="butt" stroke-dasharray="1.4 1.0"/>
<path d="M764.6,77.8 C764.6,71.1 764.7,60.9 764.7,57.5" fill="none" stroke="#1c1b2c" stroke-width="1.32" stroke-opacity="0.27" stroke-linecap="butt" stroke-dasharray="1.4 1.0"/>
<path d="M761.3,225.6 C761.8,223.6 763.4,218.5 764.3,213.9" fill="none" stroke="#1c1b2c" stroke-width="2.88" stroke-opacity="0.97" stroke-linecap="butt"/>
<path d="M764.3,213.9 C765.2,209.4 765.9,205.3 766.8,198.1" fill="none" stroke="#1c1b2c" stroke-width="2.88" stroke-opacity="0.95" stroke-linecap="butt"/>
<path d="M766.8,198.1 C767.8,190.9 769.3,180.8 770.0,170.6" fill="none" stroke="#1c1b2c" stroke-width="2.28" stroke-opacity="0.78" stroke-linecap="butt"/>
<path d="M770.0,170.6 C770.6,160.4 770.7,142.4 770.8,136.8" fill="none" stroke="#1c1b2c" stroke-width="1.80" stroke-opacity="0.55" stroke-linecap="butt" stroke-dasharray="1.4 1.0"/>
<path d="M770.8,136.8 C770.8,133.4 770.9,123.2 770.9,116.4" fill="none" stroke="#1c1b2c" stroke-width="1.80" stroke-opacity="0.70" stroke-linecap="butt"/>
<path d="M770.9,116.4 C771.0,109.6 771.0,102.9 771.0,96.1" fill="none" stroke="#1c1b2c" stroke-width="1.68" stroke-opacity="0.59" stroke-linecap="butt" stroke-dasharray="1.4 1.0"/>
<path d="M771.0,96.1 C771.1,89.3 771.1,82.5 771.1,75.7" fill="none" stroke="#1c1b2c" stroke-width="1.56" stroke-opacity="0.50" stroke-linecap="butt" stroke-dasharray="1.4 1.0"/>
<path d="M771.1,75.7 C771.2,68.9 771.2,58.8 771.2,55.4" fill="none" stroke="#1c1b2c" stroke-width="1.32" stroke-opacity="0.30" stroke-linecap="butt" stroke-dasharray="1.4 1.0"/>
<path d="M768.1,222.8 C768.6,220.9 770.1,215.8 771.0,211.2" fill="none" stroke="#1c1b2c" stroke-width="2.88" stroke-opacity="0.97" stroke-linecap="butt"/>
<path d="M771.0,211.2 C772.0,206.6 772.6,202.6 773.6,195.3" fill="none" stroke="#1c1b2c" stroke-width="2.88" stroke-opacity="0.95" stroke-linecap="butt"/>
<path d="M773.6,195.3 C774.6,188.1 776.3,178.1 777.0,167.8" fill="none" stroke="#1c1b2c" stroke-width="2.28" stroke-opacity="0.78" stroke-linecap="butt"/>
<path d="M777.0,167.8 C777.7,157.6 777.7,139.7 777.8,134.0" fill="none" stroke="#1c1b2c" stroke-width="1.80" stroke-opacity="0.55" stroke-linecap="butt" stroke-dasharray="1.4 1.0"/>
<path d="M777.8,134.0 C777.8,130.7 777.9,120.9 777.9,114.4" fill="none" stroke="#1c1b2c" stroke-width="1.80" stroke-opacity="0.75" stroke-linecap="butt"/>
<path d="M777.9,114.4 C777.9,107.8 778.0,101.2 778.0,94.7" fill="none" stroke="#1c1b2c" stroke-width="1.68" stroke-opacity="0.64" stroke-linecap="butt"/>
<path d="M778.0,94.7 C778.0,88.1 778.1,81.6 778.1,75.0" fill="none" stroke="#1c1b2c" stroke-width="1.56" stroke-opacity="0.50" stroke-linecap="butt" stroke-dasharray="1.4 1.0"/>
<path d="M778.1,75.0 C778.2,68.5 778.2,58.6 778.2,55.4" fill="none" stroke="#1c1b2c" stroke-width="1.32" stroke-opacity="0.30" stroke-linecap="butt" stroke-dasharray="1.4 1.0"/>
<path d="M775.1,220.3 C775.5,218.3 777.1,213.2 778.0,208.6" fill="none" stroke="#1c1b2c" stroke-width="2.88" stroke-opacity="0.97" stroke-linecap="butt"/>
<path d="M778.0,208.6 C778.9,204.1 779.5,200.0 780.5,192.8" fill="none" stroke="#1c1b2c" stroke-width="2.88" stroke-opacity="0.95" stroke-linecap="butt"/>
<path d="M780.5,192.8 C781.6,185.6 783.4,175.5 784.1,165.3" fill="none" stroke="#1c1b2c" stroke-width="2.28" stroke-opacity="0.78" stroke-linecap="butt"/>
<path d="M784.1,165.3 C784.9,155.1 784.8,137.1 785.0,131.5" fill="none" stroke="#1c1b2c" stroke-width="1.80" stroke-opacity="0.55" stroke-linecap="butt" stroke-dasharray="1.4 1.0"/>
<path d="M785.0,131.5 C785.0,128.5 785.1,119.5 785.1,113.5" fill="none" stroke="#1c1b2c" stroke-width="1.80" stroke-opacity="0.75" stroke-linecap="butt"/>
<path d="M785.1,113.5 C785.1,107.5 785.2,101.5 785.2,95.5" fill="none" stroke="#1c1b2c" stroke-width="1.68" stroke-opacity="0.64" stroke-linecap="butt"/>
<path d="M785.2,95.5 C785.2,89.5 785.3,83.6 785.3,77.6" fill="none" stroke="#1c1b2c" stroke-width="1.56" stroke-opacity="0.55" stroke-linecap="butt" stroke-dasharray="1.4 1.0"/>
<path d="M785.3,77.6 C785.3,71.6 785.4,62.6 785.4,59.6" fill="none" stroke="#1c1b2c" stroke-width="1.32" stroke-opacity="0.33" stroke-linecap="butt" stroke-dasharray="1.4 1.0"/>
<path d="M782.5,217.1 C782.9,215.2 784.5,210.1 785.4,205.5" fill="none" stroke="#1c1b2c" stroke-width="2.88" stroke-opacity="0.97" stroke-linecap="butt"/>
<path d="M785.4,205.5 C786.3,200.9 787.0,196.8 787.9,189.6" fill="none" stroke="#1c1b2c" stroke-width="2.88" stroke-opacity="0.95" stroke-linecap="butt"/>
<path d="M787.9,189.6 C788.9,182.4 790.6,172.4 791.3,162.1" fill="none" stroke="#1c1b2c" stroke-width="2.28" stroke-opacity="0.78" stroke-linecap="butt"/>
<path d="M791.3,162.1 C792.0,151.9 792.0,133.9 792.2,128.3" fill="none" stroke="#1c1b2c" stroke-width="1.80" stroke-opacity="0.55" stroke-linecap="butt" stroke-dasharray="1.4 1.0"/>
<path d="M792.2,128.3 C792.2,125.8 792.2,118.3 792.3,113.2" fill="none" stroke="#1c1b2c" stroke-width="1.80" stroke-opacity="0.75" stroke-linecap="butt"/>
<path d="M792.3,113.2 C792.3,108.2 792.4,103.2 792.4,98.2" fill="none" stroke="#1c1b2c" stroke-width="1.68" stroke-opacity="0.64" stroke-linecap="butt"/>
<path d="M792.4,98.2 C792.4,93.2 792.5,88.1 792.5,83.1" fill="none" stroke="#1c1b2c" stroke-width="1.56" stroke-opacity="0.55" stroke-linecap="butt" stroke-dasharray="1.4 1.0"/>
<path d="M792.5,83.1 C792.5,78.1 792.6,70.6 792.6,68.1" fill="none" stroke="#1c1b2c" stroke-width="1.32" stroke-opacity="0.33" stroke-linecap="butt" stroke-dasharray="1.4 1.0"/>
<path d="M789.2,213.9 C789.7,212.0 791.3,206.9 792.2,202.3" fill="none" stroke="#1c1b2c" stroke-width="2.76" stroke-opacity="0.97" stroke-linecap="butt"/>
<path d="M792.2,202.3 C793.1,197.7 793.8,193.7 794.7,186.4" fill="none" stroke="#1c1b2c" stroke-width="2.76" stroke-opacity="0.95" stroke-linecap="butt"/>
<path d="M794.7,186.4 C795.7,179.2 797.2,169.2 797.9,159.0" fill="none" stroke="#1c1b2c" stroke-width="2.16" stroke-opacity="0.78" stroke-linecap="butt"/>
<path d="M797.9,159.0 C798.6,148.7 798.6,130.8 798.7,125.1" fill="none" stroke="#1c1b2c" stroke-width="1.68" stroke-opacity="0.55" stroke-linecap="butt" stroke-dasharray="1.4 1.0"/>
<path d="M798.7,125.1 C798.7,122.8 798.8,115.6 798.8,110.9" fill="none" stroke="#1c1b2c" stroke-width="1.80" stroke-opacity="0.70" stroke-linecap="butt"/>
<path d="M798.8,110.9 C798.9,106.1 798.9,101.4 798.9,96.6" fill="none" stroke="#1c1b2c" stroke-width="1.68" stroke-opacity="0.59" stroke-linecap="butt" stroke-dasharray="1.4 1.0"/>
<path d="M798.9,96.6 C799.0,91.8 799.0,87.1 799.0,82.3" fill="none" stroke="#1c1b2c" stroke-width="1.56" stroke-opacity="0.50" stroke-linecap="butt" stroke-dasharray="1.4 1.0"/>
<path d="M799.0,82.3 C799.1,77.6 799.1,70.4 799.2,68.1" fill="none" stroke="#1c1b2c" stroke-width="1.32" stroke-opacity="0.30" stroke-linecap="butt" stroke-dasharray="1.4 1.0"/>
<path d="M796.2,211.4 C796.7,209.5 798.2,204.3 799.2,199.8" fill="none" stroke="#1c1b2c" stroke-width="2.64" stroke-opacity="0.97" stroke-linecap="butt"/>
<path d="M799.2,199.8 C800.1,195.2 800.8,191.1 801.7,183.9" fill="none" stroke="#1c1b2c" stroke-width="2.64" stroke-opacity="0.95" stroke-linecap="butt"/>
<path d="M801.7,183.9 C802.6,176.7 804.0,166.6 804.7,156.4" fill="none" stroke="#1c1b2c" stroke-width="2.04" stroke-opacity="0.78" stroke-linecap="butt"/>
<path d="M804.7,156.4 C805.3,146.2 805.4,128.2 805.5,122.6" fill="none" stroke="#1c1b2c" stroke-width="1.56" stroke-opacity="0.55" stroke-linecap="butt" stroke-dasharray="1.4 1.0"/>
<path d="M805.5,122.6 C805.5,120.2 805.6,113.2 805.6,108.4" fill="none" stroke="#1c1b2c" stroke-width="1.80" stroke-opacity="0.65" stroke-linecap="butt"/>
<path d="M805.6,108.4 C805.6,103.7 805.7,99.0 805.7,94.3" fill="none" stroke="#1c1b2c" stroke-width="1.68" stroke-opacity="0.55" stroke-linecap="butt" stroke-dasharray="1.4 1.0"/>
<path d="M805.7,94.3 C805.7,89.5 805.8,84.8 805.8,80.1" fill="none" stroke="#1c1b2c" stroke-width="1.56" stroke-opacity="0.45" stroke-linecap="butt" stroke-dasharray="1.4 1.0"/>
<path d="M805.8,80.1 C805.8,75.4 805.9,68.3 805.9,65.9" fill="none" stroke="#1c1b2c" stroke-width="1.32" stroke-opacity="0.27" stroke-linecap="butt" stroke-dasharray="1.4 1.0"/>
<path d="M747.6,230.8 C748.6,229.2 751.8,224.9 753.5,220.7" fill="none" stroke="#1c1b2c" stroke-width="2.52" stroke-opacity="0.95" stroke-linecap="butt"/>
<path d="M753.5,220.7 C755.2,216.5 756.7,211.5 757.7,205.5" fill="none" stroke="#1c1b2c" stroke-width="2.16" stroke-opacity="0.80" stroke-linecap="butt"/>
<path d="M757.7,205.5 C758.8,199.4 759.5,187.9 759.8,184.3" fill="none" stroke="#1c1b2c" stroke-width="1.68" stroke-opacity="0.50" stroke-linecap="butt"/>
<path d="M761.7,224.5 C762.7,222.8 766.0,218.6 767.7,214.4" fill="none" stroke="#1c1b2c" stroke-width="2.52" stroke-opacity="0.95" stroke-linecap="butt"/>
<path d="M767.7,214.4 C769.3,210.1 770.8,205.2 771.9,199.1" fill="none" stroke="#1c1b2c" stroke-width="2.16" stroke-opacity="0.80" stroke-linecap="butt"/>
<path d="M771.9,199.1 C772.9,193.1 773.6,181.5 774.0,178.0" fill="none" stroke="#1c1b2c" stroke-width="1.68" stroke-opacity="0.50" stroke-linecap="butt"/>
<path d="M774.0,219.2 C775.0,217.5 778.2,213.3 779.9,209.1" fill="none" stroke="#1c1b2c" stroke-width="2.52" stroke-opacity="0.95" stroke-linecap="butt"/>
<path d="M779.9,209.1 C781.6,204.8 783.1,199.9 784.1,193.8" fill="none" stroke="#1c1b2c" stroke-width="2.16" stroke-opacity="0.80" stroke-linecap="butt"/>
<path d="M784.1,193.8 C785.2,187.8 785.9,176.2 786.3,172.7" fill="none" stroke="#1c1b2c" stroke-width="1.68" stroke-opacity="0.50" stroke-linecap="butt"/>
<path d="M785.4,214.4 C786.4,212.7 789.6,208.4 791.3,204.2" fill="none" stroke="#1c1b2c" stroke-width="2.52" stroke-opacity="0.95" stroke-linecap="butt"/>
<path d="M791.3,204.2 C793.0,200.0 794.5,195.0 795.6,189.0" fill="none" stroke="#1c1b2c" stroke-width="2.16" stroke-opacity="0.80" stroke-linecap="butt"/>
<path d="M795.6,189.0 C796.6,182.9 797.3,171.4 797.7,167.8" fill="none" stroke="#1c1b2c" stroke-width="1.68" stroke-opacity="0.50" stroke-linecap="butt"/>
<path d="M795.6,210.8 C796.5,209.1 799.8,204.8 801.5,200.6" fill="none" stroke="#1c1b2c" stroke-width="2.52" stroke-opacity="0.95" stroke-linecap="butt"/>
<path d="M801.5,200.6 C803.2,196.4 804.7,191.5 805.7,185.4" fill="none" stroke="#1c1b2c" stroke-width="2.16" stroke-opacity="0.80" stroke-linecap="butt"/>
<path d="M805.7,185.4 C806.8,179.3 807.5,167.8 807.8,164.2" fill="none" stroke="#1c1b2c" stroke-width="1.68" stroke-opacity="0.50" stroke-linecap="butt"/>
<path d="M813.1,139.9 C813.1,134.8 813.1,119.3 813.1,108.9" fill="none" stroke="#1c1b2c" stroke-width="1.44" stroke-opacity="0.25" stroke-linecap="butt" stroke-dasharray="1.4 1.0"/>
<path d="M813.1,108.9 C813.1,98.6 813.1,88.3 813.1,77.9" fill="none" stroke="#1c1b2c" stroke-width="1.44" stroke-opacity="0.20" stroke-linecap="butt" stroke-dasharray="1.4 1.0"/>
<path d="M813.1,77.9 C813.1,67.6 813.1,52.1 813.1,46.9" fill="none" stroke="#1c1b2c" stroke-width="1.44" stroke-opacity="0.15" stroke-linecap="butt" stroke-dasharray="1.4 1.0"/>
<path d="M809.9,144.2 C809.9,138.2 809.9,120.2 809.9,108.2" fill="none" stroke="#1c1b2c" stroke-width="1.20" stroke-opacity="0.20" stroke-linecap="butt" stroke-dasharray="1.4 1.0"/>
<path d="M809.9,108.2 C809.9,96.2 809.9,78.3 809.9,72.3" fill="none" stroke="#1c1b2c" stroke-width="1.20" stroke-opacity="0.15" stroke-linecap="butt" stroke-dasharray="1.4 1.0"/>
</g>
<path d="M745.5,234.7 l3.6,6.2 h-2.6 v4.8 h-2 v-4.8 h-2.6 Z" fill="#ee3a12"/>
<path d="M761.9,229.5 l3.6,6.2 h-2.6 v4.8 h-2 v-4.8 h-2.6 Z" fill="#ee3a12"/>
<path d="M774.0,224.4 l3.6,6.2 h-2.6 v4.8 h-2 v-4.8 h-2.6 Z" fill="#ee3a12"/>
<path d="M785.2,218.0 l3.6,6.2 h-2.6 v4.8 h-2 v-4.8 h-2.6 Z" fill="#ee3a12"/>
<path d="M795.6,213.6 l3.6,6.2 h-2.6 v4.8 h-2 v-4.8 h-2.6 Z" fill="#ee3a12"/>
<text x="107.5" y="645.5" font-size="18.2" font-weight="700" textLength="72.5" lengthAdjust="spacingAndGlyphs" fill="#111">Male call</text>
<path d="M113.8,655.8 Q114.3,653.8 116.8,653.8 L140.5,653.8 Q143.5,653.8 144.5,650.0 Q145.5,653.8 148.5,653.8 L173.2,653.8 Q175.7,653.8 176.2,655.8" fill="none" stroke="#555" stroke-width="1.0"/>
<g filter="url(#bl)">
<path d="M113.4,815.3 C113.9,816.2 115.3,818.7 116.5,820.5 C117.7,822.2 119.1,823.6 120.7,825.6 C122.2,827.7 124.1,830.6 125.8,832.9 C127.5,835.1 129.5,837.3 131.0,839.0 C132.5,840.8 133.7,842.7 134.7,843.2 C135.7,843.7 136.4,842.3 136.8,842.1" fill="none" stroke="#1c1b2c" stroke-width="2.00" stroke-opacity="0.97" stroke-linecap="round" stroke-linejoin="round"/>
<path d="M137.2,841.1 C137.2,839.0 137.3,832.5 137.4,828.2" fill="none" stroke="#1c1b2c" stroke-width="1.00" stroke-opacity="0.60" stroke-linecap="butt"/>
<path d="M137.4,828.2 C137.5,823.9 137.6,817.4 137.6,815.3" fill="none" stroke="#1c1b2c" stroke-width="1.00" stroke-opacity="0.30" stroke-linecap="butt"/>
<path d="M140.3,831.8 C140.6,832.7 141.2,835.4 141.9,837.0 C142.7,838.5 143.6,840.0 145.0,841.1 C146.5,842.2 148.8,843.2 150.6,843.4 C152.4,843.6 154.5,842.9 155.8,842.1 C157.1,841.4 157.7,841.5 158.3,839.0 C158.8,836.6 159.0,829.6 159.1,827.7" fill="none" stroke="url(#uf)" stroke-width="2.00" stroke-opacity="0.97" stroke-linecap="round" stroke-linejoin="round"/>
<path d="M159.1,827.7 C159.1,825.6 159.1,817.4 159.1,815.3" fill="none" stroke="#1c1b2c" stroke-width="0.90" stroke-opacity="0.40" stroke-linecap="butt"/>
<path d="M161.2,833.1 C162.0,833.0 164.5,832.9 166.1,832.6 C167.7,832.4 169.5,832.4 170.7,831.4 C171.8,830.4 172.7,827.6 173.1,826.9" fill="none" stroke="url(#uf)" stroke-width="1.70" stroke-opacity="0.95" stroke-linecap="round" stroke-linejoin="round"/>
<path d="M175.6,833.1 C175.9,832.7 176.6,831.9 177.1,831.0 C177.5,830.1 178.1,828.2 178.3,827.7" fill="none" stroke="url(#uf)" stroke-width="1.40" stroke-opacity="0.85" stroke-linecap="round" stroke-linejoin="round"/>
<path d="M115.5,763.6 C116.2,765.0 118.1,768.5 119.6,771.9 C121.2,775.3 123.2,780.5 124.8,784.3 C126.3,788.1 128.2,792.9 128.9,794.6" fill="none" stroke="url(#uf)" stroke-width="1.00" stroke-opacity="0.30" stroke-linecap="round" stroke-linejoin="round"/>
<path d="M140.3,790.5 C141.0,792.4 142.9,799.0 144.4,801.9 C146.0,804.7 147.9,807.1 149.6,807.4 C151.3,807.8 153.4,806.1 154.8,803.9 C156.1,801.8 157.3,796.2 157.9,794.6" fill="none" stroke="url(#uf)" stroke-width="0.90" stroke-opacity="0.12" stroke-linecap="round" stroke-linejoin="round"/>
<path d="M162.0,790.9 C163.4,790.9 168.1,791.3 170.2,790.9 C172.4,790.5 173.6,789.4 174.8,788.4 C176.0,787.5 177.2,785.8 177.7,785.3" fill="none" stroke="url(#uf)" stroke-width="0.90" stroke-opacity="0.18" stroke-linecap="round" stroke-linejoin="round"/>
<path d="M144.2,729.5 C144.5,730.6 145.1,734.1 145.9,735.7 C146.6,737.4 147.6,738.4 148.6,739.3 C149.5,740.1 150.6,741.0 151.7,740.9 C152.7,740.8 154.1,739.8 155.0,738.8 C155.9,737.9 156.6,737.5 157.0,735.1 C157.5,732.7 157.5,726.2 157.6,724.4" fill="none" stroke="url(#uf)" stroke-width="1.50" stroke-opacity="0.85" stroke-linecap="round" stroke-linejoin="round"/>
<path d="M133.1,732.6 C133.3,733.3 134.2,735.7 134.7,736.8 C135.3,737.9 136.1,738.8 136.4,739.3" fill="none" stroke="url(#uf)" stroke-width="0.90" stroke-opacity="0.25" stroke-linecap="round" stroke-linejoin="round"/>
<path d="M157.6,724.4 C157.6,722.3 157.5,714.0 157.4,712.0" fill="none" stroke="#1c1b2c" stroke-width="0.80" stroke-opacity="0.25" stroke-linecap="butt"/>
<path d="M145.5,697.9 C145.9,698.8 147.0,702.0 147.9,703.3 C148.8,704.6 149.9,705.5 150.8,705.8 C151.8,706.1 152.8,705.5 153.7,705.0 C154.6,704.4 155.8,703.1 156.2,702.7" fill="none" stroke="url(#uf)" stroke-width="1.10" stroke-opacity="0.50" stroke-linecap="round" stroke-linejoin="round"/>
<path d="M163.0,704.8 C163.5,705.0 165.2,706.3 166.1,706.2 C167.0,706.1 168.2,704.5 168.6,704.1" fill="none" stroke="#1c1b2c" stroke-width="0.80" stroke-opacity="0.12" stroke-linecap="round" stroke-linejoin="round"/>
<path d="M220.9,818.4 C221.4,818.5 222.8,818.4 224.0,819.0 C225.2,819.6 226.5,820.4 228.1,821.9 C229.6,823.4 231.4,825.8 233.3,828.1 C235.2,830.4 237.6,833.7 239.5,836.0 C241.4,838.2 243.1,840.1 244.6,841.3 C246.2,842.6 248.1,843.0 248.8,843.4" fill="none" stroke="#1c1b2c" stroke-width="2.20" stroke-opacity="0.97" stroke-linecap="round" stroke-linejoin="round"/>
<path d="M250.0,843.2 C250.1,840.5 250.3,832.5 250.4,827.2" fill="none" stroke="#1c1b2c" stroke-width="1.00" stroke-opacity="0.60" stroke-linecap="butt"/>
<path d="M250.4,827.2 C250.6,821.8 250.8,813.8 250.8,811.2" fill="none" stroke="#1c1b2c" stroke-width="1.00" stroke-opacity="0.30" stroke-linecap="butt"/>
<path d="M253.9,833.9 C254.2,834.5 254.8,836.5 255.6,837.6 C256.4,838.7 257.1,839.7 258.7,840.5 C260.3,841.3 263.2,842.3 265.3,842.4 C267.4,842.4 269.7,841.6 271.1,840.9 C272.5,840.2 273.0,840.2 273.6,838.0 C274.1,835.8 274.1,829.4 274.2,827.7" fill="none" stroke="url(#uf)" stroke-width="2.10" stroke-opacity="0.97" stroke-linecap="round" stroke-linejoin="round"/>
<path d="M276.7,833.9 C277.3,833.8 279.5,833.9 280.8,833.7 C282.1,833.4 283.5,833.3 284.5,832.4 C285.5,831.6 286.6,829.2 287.0,828.5" fill="none" stroke="url(#uf)" stroke-width="2.00" stroke-opacity="0.97" stroke-linecap="round" stroke-linejoin="round"/>
<path d="M224.0,762.6 C224.5,762.9 226.0,763.5 227.1,764.7 C228.1,765.9 228.8,766.9 230.2,769.8 C231.5,772.8 233.6,778.1 235.3,782.2 C237.1,786.4 238.8,790.9 240.5,794.6 C242.2,798.3 244.2,802.3 245.7,804.5 C247.1,806.8 248.6,807.5 249.2,808.1" fill="none" stroke="#1c1b2c" stroke-width="1.40" stroke-opacity="0.85" stroke-linecap="round" stroke-linejoin="round"/>
<path d="M253.9,792.6 C254.2,793.7 255.0,797.2 255.8,799.2 C256.6,801.2 257.1,803.2 258.7,804.5 C260.3,805.9 263.2,807.0 265.3,807.0 C267.4,807.1 269.8,806.3 271.1,805.0 C272.4,803.6 272.7,802.2 273.1,798.8 C273.6,795.3 273.7,786.7 273.8,784.3" fill="none" stroke="url(#uf)" stroke-width="1.50" stroke-opacity="0.80" stroke-linecap="round" stroke-linejoin="round"/>
<path d="M276.7,792.6 C277.3,792.5 279.5,792.6 280.8,792.1 C282.1,791.7 283.5,791.6 284.5,790.1 C285.5,788.6 286.6,784.4 287.0,783.3" fill="none" stroke="url(#uf)" stroke-width="1.80" stroke-opacity="0.95" stroke-linecap="round" stroke-linejoin="round"/>
<path d="M242.6,761.6 C243.1,762.9 244.7,767.8 245.7,769.8 C246.6,771.9 247.9,773.3 248.3,774.0" fill="none" stroke="url(#uf)" stroke-width="0.80" stroke-opacity="0.15" stroke-linecap="round" stroke-linejoin="round"/>
<path d="M259.1,770.9 C260.1,771.2 263.2,772.9 265.3,772.9 C267.4,772.9 270.5,771.2 271.5,770.9" fill="none" stroke="#1c1b2c" stroke-width="0.80" stroke-opacity="0.15" stroke-linecap="round" stroke-linejoin="round"/>
<path d="M241.5,716.1 C241.8,717.7 242.3,722.4 243.0,725.4 C243.6,728.4 244.6,731.9 245.5,734.3 C246.3,736.7 247.6,739.5 248.3,739.9 C249.1,740.3 249.7,737.3 250.0,736.8" fill="none" stroke="url(#uf)" stroke-width="1.50" stroke-opacity="0.85" stroke-linecap="round" stroke-linejoin="round"/>
<path d="M256.0,718.2 C256.3,719.7 256.9,724.7 257.6,727.5 C258.4,730.2 259.3,733.0 260.3,734.7 C261.4,736.5 262.9,738.0 264.0,738.0 C265.2,738.0 266.2,734.9 267.4,734.7 C268.5,734.5 270.1,737.3 271.1,737.0 C272.0,736.6 272.6,734.6 273.1,732.6 C273.7,730.7 274.0,726.6 274.2,725.4" fill="none" stroke="url(#uf)" stroke-width="1.70" stroke-opacity="0.92" stroke-linecap="round" stroke-linejoin="round"/>
<path d="M257.0,691.3 C257.3,692.4 257.9,695.8 258.7,697.5 C259.4,699.2 260.5,700.8 261.6,701.7 C262.7,702.5 264.3,703.2 265.3,702.9 C266.3,702.5 266.7,699.8 267.6,699.6 C268.5,699.4 269.8,702.0 270.7,701.9 C271.5,701.7 272.2,700.3 272.7,698.6 C273.2,696.8 273.6,692.5 273.8,691.3" fill="none" stroke="url(#uf)" stroke-width="1.60" stroke-opacity="0.90" stroke-linecap="round" stroke-linejoin="round"/>
<path d="M244.6,697.5 C244.9,698.3 245.7,700.8 246.3,702.1 C246.8,703.3 247.7,704.5 247.9,705.0" fill="none" stroke="url(#uf)" stroke-width="0.90" stroke-opacity="0.30" stroke-linecap="round" stroke-linejoin="round"/>
<path d="M278.7,664.9 C279.2,664.8 280.7,664.8 281.4,664.5 C282.1,664.1 282.8,663.1 283.1,662.8" fill="none" stroke="#1c1b2c" stroke-width="0.90" stroke-opacity="0.40" stroke-linecap="round" stroke-linejoin="round"/>
<path d="M277.7,707.9 C278.2,707.7 279.9,707.4 280.8,706.8 C281.7,706.3 282.7,704.9 283.1,704.5" fill="none" stroke="#1c1b2c" stroke-width="0.90" stroke-opacity="0.30" stroke-linecap="round" stroke-linejoin="round"/>
<path d="M232.2,712.0 C232.1,707.9 231.5,695.5 231.2,687.2" fill="none" stroke="#1c1b2c" stroke-width="0.80" stroke-opacity="0.12" stroke-linecap="butt"/>
<path d="M231.2,687.2 C230.9,678.9 230.3,666.5 230.2,662.4" fill="none" stroke="#1c1b2c" stroke-width="0.80" stroke-opacity="0.10" stroke-linecap="butt"/>
<path d="M257.0,691.3 C257.0,688.9 256.7,681.7 256.6,676.9" fill="none" stroke="#1c1b2c" stroke-width="0.80" stroke-opacity="0.15" stroke-linecap="butt"/>
<path d="M256.6,676.9 C256.5,672.0 256.3,664.8 256.2,662.4" fill="none" stroke="#1c1b2c" stroke-width="0.80" stroke-opacity="0.10" stroke-linecap="butt"/>
<path d="M274.0,691.3 C273.9,688.9 273.7,681.7 273.6,676.9" fill="none" stroke="#1c1b2c" stroke-width="0.80" stroke-opacity="0.15" stroke-linecap="butt"/>
<path d="M273.6,676.9 C273.4,672.0 273.2,664.8 273.1,662.4" fill="none" stroke="#1c1b2c" stroke-width="0.80" stroke-opacity="0.10" stroke-linecap="butt"/>
</g>
<g filter="url(#bl)">
<path d="M336.9,818.4 C337.2,819.1 338.1,821.6 338.9,822.7 C339.8,823.9 340.8,824.7 342.0,825.2 C343.2,825.8 345.1,824.9 346.2,826.0 C347.2,827.1 347.8,829.6 348.4,831.8 C349.0,834.0 349.3,837.1 349.9,839.0 C350.4,841.0 351.2,843.3 351.7,843.8 C352.3,844.3 353.1,842.4 353.4,842.1" fill="none" stroke="#1c1b2c" stroke-width="2.30" stroke-opacity="0.97" stroke-linecap="round" stroke-linejoin="round"/>
<path d="M353.8,842.1 C353.8,839.6 353.9,831.8 353.9,826.7" fill="none" stroke="#1c1b2c" stroke-width="1.20" stroke-opacity="0.80" stroke-linecap="butt"/>
<path d="M353.9,826.7 C353.9,821.5 354.0,813.7 354.0,811.2" fill="none" stroke="#1c1b2c" stroke-width="1.20" stroke-opacity="0.50" stroke-linecap="butt"/>
<path d="M357.5,835.5 C357.8,836.4 358.3,839.0 359.0,840.5 C359.6,841.9 360.4,843.5 361.2,844.2 C362.1,844.9 363.4,845.3 364.1,844.6 C364.8,843.9 365.2,840.8 365.4,840.1" fill="none" stroke="url(#uf)" stroke-width="2.10" stroke-opacity="0.97" stroke-linecap="round" stroke-linejoin="round"/>
<path d="M365.8,840.1 C365.8,835.1 365.8,820.1 365.9,810.1" fill="none" stroke="#1c1b2c" stroke-width="1.50" stroke-opacity="0.90" stroke-linecap="butt"/>
<path d="M365.9,810.1 C365.9,800.1 365.9,790.2 365.9,780.2" fill="none" stroke="#1c1b2c" stroke-width="1.20" stroke-opacity="0.60" stroke-linecap="butt"/>
<path d="M365.9,780.2 C365.9,770.2 366.0,760.2 366.0,750.2" fill="none" stroke="#1c1b2c" stroke-width="1.00" stroke-opacity="0.40" stroke-linecap="butt"/>
<path d="M366.0,750.2 C366.0,740.2 366.0,730.2 366.1,720.2" fill="none" stroke="#1c1b2c" stroke-width="0.90" stroke-opacity="0.35" stroke-linecap="butt"/>
<path d="M366.1,720.2 C366.1,710.3 366.1,700.3 366.1,690.3" fill="none" stroke="#1c1b2c" stroke-width="0.90" stroke-opacity="0.30" stroke-linecap="butt"/>
<path d="M366.1,690.3 C366.2,680.3 366.2,665.3 366.2,660.3" fill="none" stroke="#1c1b2c" stroke-width="0.80" stroke-opacity="0.20" stroke-linecap="butt"/>
<path d="M367.9,835.5 C368.1,836.3 368.5,838.9 369.1,840.1 C369.6,841.3 370.3,842.3 371.2,842.6 C372.1,842.8 373.6,842.5 374.5,841.7 C375.4,841.0 376.0,840.4 376.5,838.0 C377.0,835.7 377.2,829.4 377.4,827.7" fill="none" stroke="url(#uf)" stroke-width="2.20" stroke-opacity="0.97" stroke-linecap="round" stroke-linejoin="round"/>
<path d="M380.2,836.0 C380.9,835.9 382.7,836.0 384.0,835.7 C385.2,835.5 386.7,835.2 387.7,834.5 C388.7,833.8 389.8,832.3 390.2,831.8" fill="none" stroke="#1c1b2c" stroke-width="2.00" stroke-opacity="0.97" stroke-linecap="round" stroke-linejoin="round"/>
<path d="M337.9,766.7 C338.2,767.4 339.2,769.6 340.0,770.7 C340.8,771.8 341.6,772.7 342.6,773.3 C343.7,774.0 345.3,772.9 346.2,774.4 C347.0,775.9 347.1,778.2 347.6,782.2 C348.1,786.3 348.6,794.2 349.3,798.8 C349.9,803.3 351.0,807.7 351.3,809.5" fill="none" stroke="#1c1b2c" stroke-width="1.50" stroke-opacity="0.80" stroke-linecap="round" stroke-linejoin="round"/>
<path d="M357.5,794.6 C357.9,796.2 358.7,801.1 359.6,803.9 C360.4,806.7 362.2,810.3 362.7,811.6" fill="none" stroke="url(#uf)" stroke-width="0.90" stroke-opacity="0.30" stroke-linecap="round" stroke-linejoin="round"/>
<path d="M367.9,802.9 C368.2,803.8 369.2,806.9 369.9,808.1 C370.7,809.3 371.5,810.4 372.4,810.1 C373.3,809.9 374.4,809.2 375.1,806.6 C375.7,804.0 376.0,799.4 376.3,794.6 C376.6,789.9 376.7,780.9 376.7,778.1" fill="none" stroke="url(#uf)" stroke-width="1.30" stroke-opacity="0.70" stroke-linecap="round" stroke-linejoin="round"/>
<path d="M380.2,795.7 C380.9,795.6 382.7,795.7 384.0,795.2 C385.2,794.8 386.7,794.3 387.7,793.2 C388.7,792.0 389.8,789.2 390.2,788.4" fill="none" stroke="url(#uf)" stroke-width="1.80" stroke-opacity="0.95" stroke-linecap="round" stroke-linejoin="round"/>
<path d="M360.6,776.0 C361.0,776.8 362.0,779.5 362.7,780.6 C363.4,781.6 364.4,782.0 364.8,782.2" fill="none" stroke="url(#uf)" stroke-width="0.80" stroke-opacity="0.20" stroke-linecap="round" stroke-linejoin="round"/>
<path d="M369.9,771.9 C370.3,772.4 371.2,774.7 372.0,775.0 C372.7,775.3 374.0,774.1 374.5,774.0" fill="none" stroke="#1c1b2c" stroke-width="0.80" stroke-opacity="0.20" stroke-linecap="round" stroke-linejoin="round"/>
<path d="M342.0,720.2 C342.4,720.6 343.4,721.6 344.1,722.3 C344.8,723.1 346.0,724.4 346.4,724.8" fill="none" stroke="#1c1b2c" stroke-width="1.10" stroke-opacity="0.50" stroke-linecap="round" stroke-linejoin="round"/>
<path d="M350.3,728.5 C350.4,729.9 350.7,734.2 351.1,736.8 C351.5,739.4 352.3,743.0 352.6,744.2" fill="none" stroke="url(#uf)" stroke-width="1.30" stroke-opacity="0.70" stroke-linecap="round" stroke-linejoin="round"/>
<path d="M358.3,726.0 C358.5,727.5 358.8,731.5 359.2,734.7 C359.6,737.9 360.1,742.3 360.8,745.0 C361.5,747.8 362.6,750.4 363.3,751.2 C364.0,752.1 364.7,750.2 365.0,750.0" fill="none" stroke="url(#uf)" stroke-width="1.80" stroke-opacity="0.92" stroke-linecap="round" stroke-linejoin="round"/>
<path d="M367.9,732.6 C368.1,733.8 368.5,737.8 369.1,739.9 C369.6,741.9 370.4,744.5 371.2,745.0 C371.9,745.6 372.9,744.6 373.6,743.4 C374.4,742.2 375.2,740.3 375.7,737.8 C376.3,735.3 376.7,731.1 376.9,728.5 C377.2,725.9 377.3,723.3 377.4,722.3" fill="none" stroke="url(#uf)" stroke-width="1.80" stroke-opacity="0.92" stroke-linecap="round" stroke-linejoin="round"/>
<path d="M360.8,712.0 C361.0,713.0 361.5,716.6 362.1,718.2 C362.6,719.7 363.8,720.8 364.1,721.3" fill="none" stroke="url(#uf)" stroke-width="0.90" stroke-opacity="0.30" stroke-linecap="round" stroke-linejoin="round"/>
<path d="M366.6,695.0 C366.8,696.3 367.3,700.5 367.9,702.7 C368.4,704.9 369.1,706.7 369.9,708.3 C370.7,709.8 371.8,712.1 372.6,712.0 C373.4,711.9 374.3,709.6 374.9,707.9 C375.5,706.1 375.9,702.7 376.1,701.7" fill="none" stroke="url(#uf)" stroke-width="1.50" stroke-opacity="0.75" stroke-linecap="round" stroke-linejoin="round"/>
<path d="M381.3,714.5 C381.9,714.3 383.7,714.2 384.8,713.6 C385.9,713.1 386.9,712.7 387.7,711.2 C388.5,709.6 389.2,705.3 389.5,704.1" fill="none" stroke="url(#uf)" stroke-width="0.90" stroke-opacity="0.35" stroke-linecap="round" stroke-linejoin="round"/>
<path d="M342.0,669.6 C342.5,670.1 343.8,671.0 344.7,672.3 C345.6,673.6 346.8,676.4 347.2,677.3" fill="none" stroke="url(#uf)" stroke-width="0.80" stroke-opacity="0.20" stroke-linecap="round" stroke-linejoin="round"/>
<path d="M381.3,673.1 C381.7,673.3 383.2,674.5 384.0,674.4 C384.8,674.2 385.7,672.7 386.0,672.3" fill="none" stroke="#1c1b2c" stroke-width="0.80" stroke-opacity="0.20" stroke-linecap="round" stroke-linejoin="round"/>
<path d="M359.6,802.9 C359.5,797.8 359.4,782.7 359.3,772.6" fill="none" stroke="#1c1b2c" stroke-width="0.90" stroke-opacity="0.25" stroke-linecap="butt"/>
<path d="M359.3,772.6 C359.2,762.5 359.1,752.4 359.0,742.3" fill="none" stroke="#1c1b2c" stroke-width="0.90" stroke-opacity="0.20" stroke-linecap="butt"/>
<path d="M359.0,742.3 C358.9,732.2 358.8,717.0 358.8,712.0" fill="none" stroke="#1c1b2c" stroke-width="0.90" stroke-opacity="0.15" stroke-linecap="butt"/>
<path d="M347.2,718.2 C347.3,714.7 347.5,704.4 347.6,697.5" fill="none" stroke="#1c1b2c" stroke-width="0.80" stroke-opacity="0.12" stroke-linecap="butt"/>
<path d="M347.6,697.5 C347.7,690.6 347.9,680.3 348.0,676.9" fill="none" stroke="#1c1b2c" stroke-width="0.80" stroke-opacity="0.10" stroke-linecap="butt"/>
<path d="M376.1,701.7 C376.1,698.7 376.0,689.9 375.9,684.1" fill="none" stroke="#1c1b2c" stroke-width="0.80" stroke-opacity="0.20" stroke-linecap="butt"/>
<path d="M375.9,684.1 C375.8,678.2 375.7,669.5 375.7,666.5" fill="none" stroke="#1c1b2c" stroke-width="0.80" stroke-opacity="0.12" stroke-linecap="butt"/>
<path d="M450.5,821.5 C450.8,822.0 451.7,823.9 452.6,824.8 C453.4,825.7 454.4,826.9 455.5,826.9 C456.5,826.9 458.0,824.0 458.8,824.8 C459.6,825.6 459.8,829.3 460.2,831.8 C460.6,834.4 460.7,837.8 461.2,840.1 C461.8,842.4 463.0,844.6 463.3,845.5" fill="none" stroke="#1c1b2c" stroke-width="2.50" stroke-opacity="0.97" stroke-linecap="round" stroke-linejoin="round"/>
<path d="M451.5,774.0 C452.0,774.2 453.3,775.3 454.2,775.2 C455.1,775.1 456.3,773.6 457.1,773.1 C457.9,772.7 458.7,770.8 459.2,772.3 C459.7,773.8 459.9,780.6 460.0,782.2" fill="none" stroke="#1c1b2c" stroke-width="1.70" stroke-opacity="0.90" stroke-linecap="round" stroke-linejoin="round"/>
<path d="M452.6,722.7 C452.9,722.4 453.8,721.1 454.6,720.7 C455.5,720.2 456.6,719.6 457.5,719.8 C458.4,720.1 459.6,721.9 460.0,722.3" fill="none" stroke="#1c1b2c" stroke-width="1.60" stroke-opacity="0.85" stroke-linecap="round" stroke-linejoin="round"/>
<path d="M453.6,670.7 C453.9,670.2 454.9,668.7 455.7,668.2 C456.4,667.6 457.6,667.5 457.9,667.4" fill="none" stroke="#1c1b2c" stroke-width="0.90" stroke-opacity="0.35" stroke-linecap="round" stroke-linejoin="round"/>
<path d="M460.4,844.2 C460.4,839.2 460.3,824.0 460.3,813.9" fill="none" stroke="#1c1b2c" stroke-width="2.00" stroke-opacity="0.90" stroke-linecap="butt"/>
<path d="M460.3,813.9 C460.2,803.8 460.2,793.7 460.1,783.6" fill="none" stroke="#1c1b2c" stroke-width="1.50" stroke-opacity="0.70" stroke-linecap="butt"/>
<path d="M460.1,783.6 C460.1,773.5 460.0,763.4 460.0,753.3" fill="none" stroke="#1c1b2c" stroke-width="1.30" stroke-opacity="0.55" stroke-linecap="butt"/>
<path d="M460.0,753.3 C460.0,743.2 459.9,733.1 459.9,723.0" fill="none" stroke="#1c1b2c" stroke-width="1.20" stroke-opacity="0.45" stroke-linecap="butt"/>
<path d="M459.9,723.0 C459.8,712.9 459.8,702.8 459.7,692.7" fill="none" stroke="#1c1b2c" stroke-width="1.00" stroke-opacity="0.30" stroke-linecap="butt"/>
<path d="M459.7,692.7 C459.7,682.6 459.6,667.4 459.6,662.4" fill="none" stroke="#1c1b2c" stroke-width="0.90" stroke-opacity="0.20" stroke-linecap="butt"/>
<path d="M464.1,845.2 C464.1,840.2 464.1,824.9 464.1,814.8" fill="none" stroke="#1c1b2c" stroke-width="2.00" stroke-opacity="0.90" stroke-linecap="butt"/>
<path d="M464.1,814.8 C464.0,804.6 464.0,794.5 464.0,784.3" fill="none" stroke="#1c1b2c" stroke-width="1.60" stroke-opacity="0.75" stroke-linecap="butt"/>
<path d="M464.0,784.3 C464.0,774.1 463.9,764.0 463.9,753.8" fill="none" stroke="#1c1b2c" stroke-width="1.40" stroke-opacity="0.60" stroke-linecap="butt"/>
<path d="M463.9,753.8 C463.9,743.7 463.9,733.5 463.9,723.3" fill="none" stroke="#1c1b2c" stroke-width="1.20" stroke-opacity="0.50" stroke-linecap="butt"/>
<path d="M463.9,723.3 C463.8,713.2 463.8,703.0 463.8,692.9" fill="none" stroke="#1c1b2c" stroke-width="1.00" stroke-opacity="0.35" stroke-linecap="butt"/>
<path d="M463.8,692.9 C463.8,682.7 463.7,667.5 463.7,662.4" fill="none" stroke="#1c1b2c" stroke-width="0.90" stroke-opacity="0.25" stroke-linecap="butt"/>
<path d="M465.4,836.0 C465.6,837.5 466.4,843.1 467.0,845.2 C467.6,847.4 468.4,848.6 469.1,848.8 C469.8,848.9 470.8,846.7 471.2,846.3" fill="none" stroke="#1c1b2c" stroke-width="2.20" stroke-opacity="0.95" stroke-linecap="round" stroke-linejoin="round"/>
<path d="M468.7,846.3 C468.6,838.8 468.5,816.4 468.4,801.5" fill="none" stroke="#1c1b2c" stroke-width="1.40" stroke-opacity="0.60" stroke-linecap="butt"/>
<path d="M468.4,801.5 C468.3,786.6 468.2,771.7 468.1,756.7" fill="none" stroke="#1c1b2c" stroke-width="1.10" stroke-opacity="0.40" stroke-linecap="butt"/>
<path d="M468.1,756.7 C468.0,741.8 467.9,719.4 467.9,712.0" fill="none" stroke="#1c1b2c" stroke-width="0.90" stroke-opacity="0.25" stroke-linecap="butt"/>
<g filter="url(#bl2)">
<line x1="473.6" y1="658.3" x2="473.9" y2="691.3" stroke="#1c1b2c" stroke-width="4.6" stroke-opacity="0.40"/>
<line x1="473.6" y1="658.3" x2="473.9" y2="691.3" stroke="#1c1b2c" stroke-width="2.9" stroke-opacity="0.30"/>
<line x1="473.9" y1="691.3" x2="474.1" y2="718.2" stroke="#1c1b2c" stroke-width="6.1" stroke-opacity="0.78"/>
<line x1="473.9" y1="691.3" x2="474.1" y2="718.2" stroke="#1c1b2c" stroke-width="3.8" stroke-opacity="0.58"/>
<line x1="474.1" y1="718.2" x2="474.3" y2="749.2" stroke="#1c1b2c" stroke-width="5.7" stroke-opacity="0.58"/>
<line x1="474.1" y1="718.2" x2="474.3" y2="749.2" stroke="#1c1b2c" stroke-width="3.6" stroke-opacity="0.43"/>
<line x1="474.3" y1="749.2" x2="474.4" y2="765.7" stroke="#1c1b2c" stroke-width="5.9" stroke-opacity="0.72"/>
<line x1="474.3" y1="749.2" x2="474.4" y2="765.7" stroke="#1c1b2c" stroke-width="3.7" stroke-opacity="0.54"/>
<line x1="474.4" y1="765.7" x2="474.6" y2="790.5" stroke="#1c1b2c" stroke-width="5.7" stroke-opacity="0.60"/>
<line x1="474.4" y1="765.7" x2="474.6" y2="790.5" stroke="#1c1b2c" stroke-width="3.6" stroke-opacity="0.45"/>
<line x1="474.6" y1="790.5" x2="474.8" y2="825.6" stroke="#1c1b2c" stroke-width="6.1" stroke-opacity="0.78"/>
<line x1="474.6" y1="790.5" x2="474.8" y2="825.6" stroke="#1c1b2c" stroke-width="3.8" stroke-opacity="0.58"/>
<line x1="474.8" y1="825.6" x2="474.9" y2="837.0" stroke="#1c1b2c" stroke-width="3.8" stroke-opacity="0.64"/>
<line x1="474.8" y1="825.6" x2="474.9" y2="837.0" stroke="#1c1b2c" stroke-width="2.4" stroke-opacity="0.48"/>
</g>
<line x1="473.6" y1="658.3" x2="473.9" y2="691.3" stroke="#1c1b2c" stroke-width="4.1" stroke-opacity="0.15" stroke-dasharray="1.5 0.7"/>
<line x1="473.9" y1="691.3" x2="474.1" y2="718.2" stroke="#1c1b2c" stroke-width="5.4" stroke-opacity="0.29" stroke-dasharray="1.5 0.7"/>
<line x1="474.1" y1="718.2" x2="474.3" y2="749.2" stroke="#1c1b2c" stroke-width="5.1" stroke-opacity="0.22" stroke-dasharray="1.5 0.7"/>
<line x1="474.3" y1="749.2" x2="474.4" y2="765.7" stroke="#1c1b2c" stroke-width="5.3" stroke-opacity="0.27" stroke-dasharray="1.5 0.7"/>
<line x1="474.4" y1="765.7" x2="474.6" y2="790.5" stroke="#1c1b2c" stroke-width="5.1" stroke-opacity="0.22" stroke-dasharray="1.5 0.7"/>
<line x1="474.6" y1="790.5" x2="474.8" y2="825.6" stroke="#1c1b2c" stroke-width="5.4" stroke-opacity="0.29" stroke-dasharray="1.5 0.7"/>
<line x1="474.8" y1="825.6" x2="474.9" y2="837.0" stroke="#1c1b2c" stroke-width="3.4" stroke-opacity="0.24" stroke-dasharray="1.5 0.7"/>
<path d="M476.9,836.0 C477.1,837.5 477.3,843.5 477.8,845.2 C478.3,847.0 479.4,848.2 479.8,846.7 C480.3,845.1 480.5,837.7 480.7,836.0" fill="none" stroke="#1c1b2c" stroke-width="2.00" stroke-opacity="0.90" stroke-linecap="round" stroke-linejoin="round"/>
<path d="M480.7,836.0 C480.6,830.2 480.6,812.8 480.5,801.2" fill="none" stroke="#1c1b2c" stroke-width="1.60" stroke-opacity="0.85" stroke-linecap="butt"/>
<path d="M480.5,801.2 C480.4,789.7 480.4,778.1 480.3,766.5" fill="none" stroke="#1c1b2c" stroke-width="1.30" stroke-opacity="0.60" stroke-linecap="butt"/>
<path d="M480.3,766.5 C480.3,755.0 480.2,743.4 480.2,731.8" fill="none" stroke="#1c1b2c" stroke-width="1.10" stroke-opacity="0.45" stroke-linecap="butt"/>
<path d="M480.2,731.8 C480.1,720.2 480.1,708.7 480.0,697.1" fill="none" stroke="#1c1b2c" stroke-width="1.00" stroke-opacity="0.35" stroke-linecap="butt"/>
<path d="M480.0,697.1 C479.9,685.5 479.9,668.2 479.8,662.4" fill="none" stroke="#1c1b2c" stroke-width="0.90" stroke-opacity="0.20" stroke-linecap="butt"/>
</g>
<g filter="url(#bl)">
<path d="M483.6,836.0 C483.8,836.7 484.4,839.1 485.2,840.5 C486.0,841.9 486.7,843.4 488.1,844.2 C489.5,845.0 491.9,845.9 493.5,845.5 C495.1,845.0 496.7,843.3 497.6,841.7 C498.5,840.2 498.4,838.3 498.6,836.0 C498.9,833.6 499.0,829.1 499.0,827.7" fill="none" stroke="url(#uf)" stroke-width="2.04" stroke-opacity="0.97" stroke-linecap="round" stroke-linejoin="round"/>
<path d="M500.7,838.0 C501.3,837.9 503.2,837.7 504.4,837.2 C505.6,836.7 506.8,836.4 507.7,835.1 C508.6,833.9 509.6,830.6 510.0,829.8" fill="none" stroke="url(#uf)" stroke-width="1.70" stroke-opacity="0.97" stroke-linecap="round" stroke-linejoin="round"/>
<path d="M484.6,798.8 C484.8,800.1 485.4,804.2 486.0,806.6 C486.7,809.0 487.4,811.7 488.5,813.2 C489.6,814.7 491.3,815.8 492.6,815.7 C494.0,815.6 495.5,814.5 496.4,812.4 C497.2,810.3 497.3,806.5 497.6,802.9 C497.9,799.2 498.1,792.6 498.2,790.5" fill="none" stroke="url(#uf)" stroke-width="1.61" stroke-opacity="0.92" stroke-linecap="round" stroke-linejoin="round"/>
<path d="M500.7,799.2 C501.2,799.0 502.7,798.7 503.8,797.9 C504.8,797.2 506.1,796.6 506.9,794.6 C507.7,792.7 508.2,787.7 508.5,786.4" fill="none" stroke="url(#uf)" stroke-width="1.53" stroke-opacity="0.92" stroke-linecap="round" stroke-linejoin="round"/>
<path d="M485.6,774.0 C485.9,774.9 486.5,778.0 487.3,779.8 C488.0,781.5 489.1,783.5 490.2,784.3 C491.3,785.1 492.6,785.6 493.9,784.7 C495.1,783.8 497.0,779.9 497.6,778.9" fill="none" stroke="url(#uf)" stroke-width="0.94" stroke-opacity="0.40" stroke-linecap="round" stroke-linejoin="round"/>
<path d="M485.6,740.9 C485.8,741.9 486.2,745.2 486.9,747.1 C487.5,749.0 488.3,750.9 489.3,752.1 C490.4,753.3 491.9,754.6 493.1,754.3 C494.2,754.1 495.6,752.7 496.4,750.4 C497.2,748.2 497.5,744.9 497.8,740.9 C498.2,736.9 498.3,728.9 498.4,726.4" fill="none" stroke="url(#uf)" stroke-width="1.36" stroke-opacity="0.85" stroke-linecap="round" stroke-linejoin="round"/>
<path d="M485.6,709.9 C485.9,711.0 486.5,714.6 487.3,716.5 C488.0,718.5 489.1,720.5 490.2,721.5 C491.3,722.5 492.7,723.2 493.9,722.5 C495.0,721.8 496.3,719.8 497.0,717.4 C497.7,714.9 497.8,711.5 498.0,707.9 C498.3,704.2 498.4,697.5 498.4,695.5" fill="none" stroke="url(#uf)" stroke-width="1.19" stroke-opacity="0.70" stroke-linecap="round" stroke-linejoin="round"/>
<path d="M507.3,716.1 C507.2,712.3 507.0,701.0 506.9,693.4" fill="none" stroke="#1c1b2c" stroke-width="0.90" stroke-opacity="0.20" stroke-linecap="butt"/>
<path d="M506.9,693.4 C506.7,685.8 506.5,674.4 506.4,670.7" fill="none" stroke="#1c1b2c" stroke-width="0.90" stroke-opacity="0.12" stroke-linecap="butt"/>
</g>
<g filter="url(#bl)">
<path d="M580.2,818.4 C580.4,819.1 581.0,821.4 581.7,822.5 C582.3,823.7 583.1,824.8 584.1,825.2 C585.2,825.6 586.9,824.0 587.9,824.8 C588.8,825.6 589.4,827.5 589.9,829.8 C590.5,832.0 590.7,835.4 591.2,838.0 C591.6,840.6 592.5,844.2 592.8,845.5" fill="none" stroke="#1c1b2c" stroke-width="2.50" stroke-opacity="0.97" stroke-linecap="round" stroke-linejoin="round"/>
<path d="M582.3,774.0 C582.7,774.2 583.8,775.3 584.5,775.2 C585.3,775.1 586.3,773.6 587.0,773.1 C587.7,772.7 588.4,771.4 588.9,772.3 C589.3,773.2 589.6,777.5 589.7,778.5" fill="none" stroke="#1c1b2c" stroke-width="1.70" stroke-opacity="0.90" stroke-linecap="round" stroke-linejoin="round"/>
<path d="M584.3,723.6 C584.6,723.1 585.2,721.6 585.8,721.1 C586.4,720.5 587.3,720.2 587.9,720.2 C588.4,720.3 589.1,721.3 589.3,721.5" fill="none" stroke="#1c1b2c" stroke-width="1.50" stroke-opacity="0.80" stroke-linecap="round" stroke-linejoin="round"/>
<path d="M585.4,670.7 C585.6,670.2 586.3,668.8 586.8,668.2 C587.4,667.6 588.4,667.1 588.7,666.9" fill="none" stroke="#1c1b2c" stroke-width="0.90" stroke-opacity="0.30" stroke-linecap="round" stroke-linejoin="round"/>
<path d="M590.7,844.2 C590.7,839.2 590.7,824.0 590.7,813.9" fill="none" stroke="#1c1b2c" stroke-width="2.00" stroke-opacity="0.90" stroke-linecap="butt"/>
<path d="M590.7,813.9 C590.7,803.8 590.6,793.7 590.6,783.6" fill="none" stroke="#1c1b2c" stroke-width="1.50" stroke-opacity="0.70" stroke-linecap="butt"/>
<path d="M590.6,783.6 C590.6,773.5 590.6,763.4 590.5,753.3" fill="none" stroke="#1c1b2c" stroke-width="1.30" stroke-opacity="0.55" stroke-linecap="butt"/>
<path d="M590.5,753.3 C590.5,743.2 590.5,733.1 590.5,723.0" fill="none" stroke="#1c1b2c" stroke-width="1.10" stroke-opacity="0.40" stroke-linecap="butt"/>
<path d="M590.5,723.0 C590.4,712.9 590.4,702.8 590.4,692.7" fill="none" stroke="#1c1b2c" stroke-width="1.00" stroke-opacity="0.30" stroke-linecap="butt"/>
<path d="M590.4,692.7 C590.4,682.6 590.3,667.4 590.3,662.4" fill="none" stroke="#1c1b2c" stroke-width="0.90" stroke-opacity="0.20" stroke-linecap="butt"/>
<path d="M593.6,845.2 C593.6,840.2 593.5,824.9 593.5,814.8" fill="none" stroke="#1c1b2c" stroke-width="1.90" stroke-opacity="0.90" stroke-linecap="butt"/>
<path d="M593.5,814.8 C593.5,804.6 593.4,794.5 593.4,784.3" fill="none" stroke="#1c1b2c" stroke-width="1.50" stroke-opacity="0.70" stroke-linecap="butt"/>
<path d="M593.4,784.3 C593.3,774.1 593.3,764.0 593.2,753.8" fill="none" stroke="#1c1b2c" stroke-width="1.30" stroke-opacity="0.55" stroke-linecap="butt"/>
<path d="M593.2,753.8 C593.2,743.7 593.1,733.5 593.1,723.3" fill="none" stroke="#1c1b2c" stroke-width="1.10" stroke-opacity="0.45" stroke-linecap="butt"/>
<path d="M593.1,723.3 C593.0,713.2 593.0,703.0 592.9,692.9" fill="none" stroke="#1c1b2c" stroke-width="1.00" stroke-opacity="0.30" stroke-linecap="butt"/>
<path d="M592.9,692.9 C592.9,682.7 592.8,667.5 592.8,662.4" fill="none" stroke="#1c1b2c" stroke-width="0.90" stroke-opacity="0.20" stroke-linecap="butt"/>
<path d="M595.7,836.0 C595.9,837.5 596.4,843.1 596.9,845.2 C597.5,847.4 598.4,848.6 599.0,848.8 C599.6,848.9 600.2,848.4 600.7,846.3 C601.1,844.1 601.3,837.7 601.5,836.0" fill="none" stroke="#1c1b2c" stroke-width="2.20" stroke-opacity="0.95" stroke-linecap="round" stroke-linejoin="round"/>
<path d="M596.9,836.0 C596.9,829.1 596.8,808.4 596.7,794.6" fill="none" stroke="#1c1b2c" stroke-width="1.30" stroke-opacity="0.50" stroke-linecap="butt"/>
<path d="M596.7,794.6 C596.6,780.9 596.5,767.1 596.4,753.3" fill="none" stroke="#1c1b2c" stroke-width="1.00" stroke-opacity="0.35" stroke-linecap="butt"/>
<path d="M596.4,753.3 C596.3,739.5 596.2,718.9 596.1,712.0" fill="none" stroke="#1c1b2c" stroke-width="0.90" stroke-opacity="0.20" stroke-linecap="butt"/>
<g filter="url(#bl2)">
<line x1="603.6" y1="658.3" x2="603.8" y2="695.5" stroke="#1c1b2c" stroke-width="4.4" stroke-opacity="0.34"/>
<line x1="603.6" y1="658.3" x2="603.8" y2="695.5" stroke="#1c1b2c" stroke-width="2.8" stroke-opacity="0.25"/>
<line x1="603.8" y1="695.5" x2="604.0" y2="718.2" stroke="#1c1b2c" stroke-width="5.9" stroke-opacity="0.70"/>
<line x1="603.8" y1="695.5" x2="604.0" y2="718.2" stroke="#1c1b2c" stroke-width="3.7" stroke-opacity="0.53"/>
<line x1="604.0" y1="718.2" x2="604.2" y2="749.2" stroke="#1c1b2c" stroke-width="5.5" stroke-opacity="0.48"/>
<line x1="604.0" y1="718.2" x2="604.2" y2="749.2" stroke="#1c1b2c" stroke-width="3.5" stroke-opacity="0.36"/>
<line x1="604.2" y1="749.2" x2="604.3" y2="765.7" stroke="#1c1b2c" stroke-width="5.7" stroke-opacity="0.54"/>
<line x1="604.2" y1="749.2" x2="604.3" y2="765.7" stroke="#1c1b2c" stroke-width="3.6" stroke-opacity="0.41"/>
<line x1="604.3" y1="765.7" x2="604.6" y2="815.3" stroke="#1c1b2c" stroke-width="5.7" stroke-opacity="0.64"/>
<line x1="604.3" y1="765.7" x2="604.6" y2="815.3" stroke="#1c1b2c" stroke-width="3.6" stroke-opacity="0.48"/>
<line x1="604.6" y1="815.3" x2="604.8" y2="837.0" stroke="#1c1b2c" stroke-width="4.8" stroke-opacity="0.68"/>
<line x1="604.6" y1="815.3" x2="604.8" y2="837.0" stroke="#1c1b2c" stroke-width="3.0" stroke-opacity="0.51"/>
</g>
<line x1="603.6" y1="658.3" x2="603.8" y2="695.5" stroke="#1c1b2c" stroke-width="3.9" stroke-opacity="0.13" stroke-dasharray="1.5 0.7"/>
<line x1="603.8" y1="695.5" x2="604.0" y2="718.2" stroke="#1c1b2c" stroke-width="5.3" stroke-opacity="0.26" stroke-dasharray="1.5 0.7"/>
<line x1="604.0" y1="718.2" x2="604.2" y2="749.2" stroke="#1c1b2c" stroke-width="4.9" stroke-opacity="0.18" stroke-dasharray="1.5 0.7"/>
<line x1="604.2" y1="749.2" x2="604.3" y2="765.7" stroke="#1c1b2c" stroke-width="5.1" stroke-opacity="0.20" stroke-dasharray="1.5 0.7"/>
<line x1="604.3" y1="765.7" x2="604.6" y2="815.3" stroke="#1c1b2c" stroke-width="5.1" stroke-opacity="0.24" stroke-dasharray="1.5 0.7"/>
<line x1="604.6" y1="815.3" x2="604.8" y2="837.0" stroke="#1c1b2c" stroke-width="4.2" stroke-opacity="0.26" stroke-dasharray="1.5 0.7"/>
<path d="M606.9,815.3 C607.0,818.7 607.3,831.1 607.7,836.0 C608.0,840.8 608.3,842.6 608.9,844.2 C609.5,845.9 610.6,845.9 611.4,845.9 C612.2,845.9 613.3,846.6 613.9,844.2 C614.5,841.9 614.6,838.0 614.9,831.8 C615.2,825.6 615.4,811.2 615.5,807.0" fill="none" stroke="#1c1b2c" stroke-width="2.00" stroke-opacity="0.95" stroke-linecap="round" stroke-linejoin="round"/>
<path d="M615.5,807.0 C615.5,805.0 615.4,798.8 615.3,794.6" fill="none" stroke="#1c1b2c" stroke-width="1.20" stroke-opacity="0.60" stroke-linecap="butt"/>
<path d="M615.3,794.6 C615.3,790.5 615.2,784.3 615.1,782.2" fill="none" stroke="#1c1b2c" stroke-width="1.20" stroke-opacity="0.30" stroke-linecap="butt"/>
<path d="M609.8,693.0 C610.0,693.2 610.6,693.7 611.0,694.2 C611.4,694.7 612.0,695.6 612.2,695.9" fill="none" stroke="#1c1b2c" stroke-width="1.30" stroke-opacity="0.80" stroke-linecap="round" stroke-linejoin="round"/>
<path d="M617.4,837.0 C617.7,837.6 618.3,839.8 619.0,840.9 C619.8,842.0 620.8,843.2 622.1,843.8 C623.5,844.4 625.7,844.9 627.1,844.4 C628.6,844.0 630.0,842.5 630.8,841.1 C631.7,839.7 631.9,837.8 632.3,836.0 C632.6,834.1 632.8,830.8 632.9,829.8" fill="none" stroke="url(#uf)" stroke-width="2.04" stroke-opacity="0.97" stroke-linecap="round" stroke-linejoin="round"/>
<path d="M635.0,837.0 C635.4,836.8 637.0,836.3 637.9,835.7 C638.7,835.2 639.7,835.0 640.3,833.5 C640.9,832.0 641.2,827.8 641.4,826.7" fill="none" stroke="url(#uf)" stroke-width="1.70" stroke-opacity="0.97" stroke-linecap="round" stroke-linejoin="round"/>
<path d="M617.4,798.8 C617.6,799.9 618.1,803.3 618.8,805.4 C619.6,807.4 620.6,809.8 621.7,811.2 C622.8,812.5 624.2,813.6 625.5,813.4 C626.7,813.3 628.2,812.1 629.2,810.1 C630.2,808.2 630.9,805.5 631.4,801.9 C632.0,798.2 632.3,790.7 632.5,788.4" fill="none" stroke="url(#uf)" stroke-width="1.61" stroke-opacity="0.92" stroke-linecap="round" stroke-linejoin="round"/>
<path d="M634.5,797.1 C635.0,796.8 636.2,796.2 637.0,795.5 C637.9,794.7 638.9,795.1 639.5,792.6 C640.1,790.0 640.5,782.2 640.7,780.2" fill="none" stroke="url(#uf)" stroke-width="1.36" stroke-opacity="0.85" stroke-linecap="round" stroke-linejoin="round"/>
<path d="M618.4,769.8 C618.7,770.8 619.3,773.8 620.1,775.6 C620.8,777.4 621.9,779.4 623.0,780.6 C624.1,781.7 625.5,782.9 626.7,782.4 C627.9,782.0 629.4,778.8 630.0,778.1" fill="none" stroke="url(#uf)" stroke-width="0.94" stroke-opacity="0.40" stroke-linecap="round" stroke-linejoin="round"/>
<path d="M620.5,736.8 C620.7,737.9 621.2,741.3 621.7,743.4 C622.3,745.5 623.0,748.0 624.0,749.2 C625.0,750.3 626.4,751.0 627.5,750.4 C628.7,749.8 630.0,747.7 630.8,745.5 C631.6,743.2 631.9,739.6 632.3,736.8 C632.6,734.0 632.8,729.9 632.9,728.5" fill="none" stroke="url(#uf)" stroke-width="1.27" stroke-opacity="0.75" stroke-linecap="round" stroke-linejoin="round"/>
<path d="M619.5,701.7 C619.7,703.1 620.3,707.9 620.9,710.3 C621.5,712.8 622.2,715.0 623.2,716.5 C624.1,718.0 625.6,719.8 626.7,719.4 C627.8,719.1 629.2,716.7 630.0,714.5 C630.8,712.2 630.9,709.0 631.2,705.8 C631.5,702.6 631.8,697.2 631.9,695.5" fill="none" stroke="url(#uf)" stroke-width="1.10" stroke-opacity="0.60" stroke-linecap="round" stroke-linejoin="round"/>
<path d="M639.1,722.3 C639.0,718.0 638.8,705.1 638.7,696.5" fill="none" stroke="#1c1b2c" stroke-width="0.90" stroke-opacity="0.20" stroke-linecap="butt"/>
<path d="M638.7,696.5 C638.5,687.9 638.3,675.0 638.3,670.7" fill="none" stroke="#1c1b2c" stroke-width="0.90" stroke-opacity="0.12" stroke-linecap="butt"/>
<path d="M632.5,695.5 C632.4,693.0 632.2,685.8 632.1,681.0" fill="none" stroke="#1c1b2c" stroke-width="0.80" stroke-opacity="0.15" stroke-linecap="butt"/>
<path d="M632.1,681.0 C631.9,676.2 631.7,668.9 631.7,666.5" fill="none" stroke="#1c1b2c" stroke-width="0.80" stroke-opacity="0.10" stroke-linecap="butt"/>
</g>
<g filter="url(#bl)">
<circle cx="687.9" cy="826.9" r="0.7" fill="#1c1b2c" fill-opacity="0.70"/>
<circle cx="690.8" cy="826.2" r="0.7" fill="#1c1b2c" fill-opacity="0.80"/>
<circle cx="693.3" cy="825.6" r="0.7" fill="#1c1b2c" fill-opacity="0.80"/>
<path d="M701.3,822.5 C701.5,823.1 702.0,825.1 702.6,826.0 C703.1,827.0 703.7,828.0 704.6,828.1 C705.5,828.2 707.2,826.2 707.9,826.9 C708.7,827.5 708.8,829.8 709.2,831.8 C709.6,833.8 709.8,836.6 710.2,839.0 C710.7,841.5 711.6,845.1 711.9,846.3" fill="none" stroke="#1c1b2c" stroke-width="2.50" stroke-opacity="0.97" stroke-linecap="round" stroke-linejoin="round"/>
<path d="M701.3,770.9 C701.5,771.4 701.7,773.0 702.1,774.0 C702.6,774.9 703.2,776.2 703.8,776.4 C704.4,776.7 705.3,775.9 705.9,775.6 C706.5,775.3 707.1,774.9 707.3,774.8" fill="none" stroke="#1c1b2c" stroke-width="1.60" stroke-opacity="0.90" stroke-linecap="round" stroke-linejoin="round"/>
<path d="M705.0,725.6 C705.2,725.9 705.9,726.7 706.3,727.3 C706.6,727.8 707.0,728.7 707.1,728.9" fill="none" stroke="#1c1b2c" stroke-width="1.30" stroke-opacity="0.80" stroke-linecap="round" stroke-linejoin="round"/>
<path d="M709.6,844.2 C709.5,839.2 709.4,824.0 709.3,813.9" fill="none" stroke="#1c1b2c" stroke-width="2.20" stroke-opacity="0.90" stroke-linecap="butt"/>
<path d="M709.3,813.9 C709.2,803.8 709.1,793.7 709.0,783.6" fill="none" stroke="#1c1b2c" stroke-width="1.80" stroke-opacity="0.75" stroke-linecap="butt"/>
<path d="M709.0,783.6 C708.9,773.5 708.9,763.4 708.8,753.3" fill="none" stroke="#1c1b2c" stroke-width="1.40" stroke-opacity="0.50" stroke-linecap="butt" stroke-dasharray="1.4 0.8"/>
<path d="M708.8,753.3 C708.7,743.2 708.6,733.1 708.5,723.0" fill="none" stroke="#1c1b2c" stroke-width="1.20" stroke-opacity="0.35" stroke-linecap="butt" stroke-dasharray="1.4 0.8"/>
<path d="M708.5,723.0 C708.4,712.9 708.3,702.8 708.2,692.7" fill="none" stroke="#1c1b2c" stroke-width="1.00" stroke-opacity="0.25" stroke-linecap="butt" stroke-dasharray="1.4 0.8"/>
<path d="M708.2,692.7 C708.1,682.6 708.0,667.4 707.9,662.4" fill="none" stroke="#1c1b2c" stroke-width="0.90" stroke-opacity="0.15" stroke-linecap="butt" stroke-dasharray="1.4 0.8"/>
<path d="M712.1,846.3 C712.0,839.8 711.9,820.5 711.8,807.5" fill="none" stroke="#1c1b2c" stroke-width="1.80" stroke-opacity="0.85" stroke-linecap="butt"/>
<path d="M711.8,807.5 C711.7,794.6 711.5,781.7 711.4,768.8" fill="none" stroke="#1c1b2c" stroke-width="1.40" stroke-opacity="0.60" stroke-linecap="butt"/>
<path d="M711.4,768.8 C711.3,755.9 711.2,743.0 711.1,730.1" fill="none" stroke="#1c1b2c" stroke-width="1.10" stroke-opacity="0.35" stroke-linecap="butt"/>
<path d="M711.1,730.1 C711.0,717.1 710.9,697.8 710.8,691.3" fill="none" stroke="#1c1b2c" stroke-width="0.90" stroke-opacity="0.20" stroke-linecap="butt"/>
<path d="M714.1,831.8 C714.3,833.9 714.8,841.4 715.4,844.2 C715.9,847.0 716.7,848.4 717.4,848.8 C718.1,849.1 719.0,849.1 719.5,846.3 C720.0,843.5 720.2,834.2 720.3,831.8" fill="none" stroke="#1c1b2c" stroke-width="2.20" stroke-opacity="0.95" stroke-linecap="round" stroke-linejoin="round"/>
<path d="M715.0,831.8 C714.9,826.3 714.7,809.8 714.5,798.8" fill="none" stroke="#1c1b2c" stroke-width="1.20" stroke-opacity="0.45" stroke-linecap="butt"/>
<path d="M714.5,798.8 C714.4,787.7 714.3,776.7 714.1,765.7" fill="none" stroke="#1c1b2c" stroke-width="1.00" stroke-opacity="0.30" stroke-linecap="butt"/>
<path d="M714.1,765.7 C714.0,754.7 713.8,738.2 713.7,732.6" fill="none" stroke="#1c1b2c" stroke-width="0.80" stroke-opacity="0.15" stroke-linecap="butt"/>
<g filter="url(#bl2)">
<line x1="722.0" y1="658.3" x2="722.5" y2="712.0" stroke="#1c1b2c" stroke-width="4.9" stroke-opacity="0.26"/>
<line x1="722.0" y1="658.3" x2="722.5" y2="712.0" stroke="#1c1b2c" stroke-width="3.1" stroke-opacity="0.19"/>
<line x1="722.5" y1="712.0" x2="722.9" y2="753.3" stroke="#1c1b2c" stroke-width="5.7" stroke-opacity="0.32"/>
<line x1="722.5" y1="712.0" x2="722.9" y2="753.3" stroke="#1c1b2c" stroke-width="3.6" stroke-opacity="0.24"/>
<line x1="722.9" y1="753.3" x2="723.1" y2="778.1" stroke="#1c1b2c" stroke-width="6.1" stroke-opacity="0.72"/>
<line x1="722.9" y1="753.3" x2="723.1" y2="778.1" stroke="#1c1b2c" stroke-width="3.8" stroke-opacity="0.54"/>
<line x1="723.1" y1="778.1" x2="723.3" y2="794.6" stroke="#1c1b2c" stroke-width="5.9" stroke-opacity="0.54"/>
<line x1="723.1" y1="778.1" x2="723.3" y2="794.6" stroke="#1c1b2c" stroke-width="3.7" stroke-opacity="0.41"/>
<line x1="723.3" y1="794.6" x2="723.6" y2="831.8" stroke="#1c1b2c" stroke-width="6.1" stroke-opacity="0.76"/>
<line x1="723.3" y1="794.6" x2="723.6" y2="831.8" stroke="#1c1b2c" stroke-width="3.8" stroke-opacity="0.57"/>
<line x1="723.6" y1="831.8" x2="723.6" y2="837.0" stroke="#1c1b2c" stroke-width="3.8" stroke-opacity="0.64"/>
<line x1="723.6" y1="831.8" x2="723.6" y2="837.0" stroke="#1c1b2c" stroke-width="2.4" stroke-opacity="0.48"/>
</g>
<line x1="722.0" y1="658.3" x2="722.5" y2="712.0" stroke="#1c1b2c" stroke-width="4.4" stroke-opacity="0.10" stroke-dasharray="1.5 0.7"/>
<line x1="722.5" y1="712.0" x2="722.9" y2="753.3" stroke="#1c1b2c" stroke-width="5.1" stroke-opacity="0.12" stroke-dasharray="1.5 0.7"/>
<line x1="722.9" y1="753.3" x2="723.1" y2="778.1" stroke="#1c1b2c" stroke-width="5.4" stroke-opacity="0.27" stroke-dasharray="1.5 0.7"/>
<line x1="723.1" y1="778.1" x2="723.3" y2="794.6" stroke="#1c1b2c" stroke-width="5.3" stroke-opacity="0.20" stroke-dasharray="1.5 0.7"/>
<line x1="723.3" y1="794.6" x2="723.6" y2="831.8" stroke="#1c1b2c" stroke-width="5.4" stroke-opacity="0.28" stroke-dasharray="1.5 0.7"/>
<line x1="723.6" y1="831.8" x2="723.6" y2="837.0" stroke="#1c1b2c" stroke-width="3.4" stroke-opacity="0.24" stroke-dasharray="1.5 0.7"/>
<path d="M725.7,819.4 C725.8,822.2 726.0,831.7 726.3,836.0 C726.6,840.2 726.9,843.3 727.6,845.0 C728.2,846.8 729.4,846.3 730.2,846.3 C731.1,846.2 732.2,847.0 732.7,844.6 C733.3,842.2 733.3,836.7 733.6,831.8 C733.8,826.9 733.9,818.0 734.0,815.3" fill="none" stroke="#1c1b2c" stroke-width="2.00" stroke-opacity="0.95" stroke-linecap="round" stroke-linejoin="round"/>
<path d="M734.0,815.3 C734.0,809.7 734.0,792.9 734.0,781.7" fill="none" stroke="#1c1b2c" stroke-width="1.00" stroke-opacity="0.35" stroke-linecap="butt"/>
<path d="M734.0,781.7 C734.0,770.5 734.0,759.3 734.0,748.1" fill="none" stroke="#1c1b2c" stroke-width="0.90" stroke-opacity="0.25" stroke-linecap="butt"/>
<path d="M734.0,748.1 C734.0,736.9 734.0,725.8 734.0,714.6" fill="none" stroke="#1c1b2c" stroke-width="0.80" stroke-opacity="0.20" stroke-linecap="butt"/>
<path d="M734.0,714.6 C734.0,703.4 734.0,686.6 734.0,681.0" fill="none" stroke="#1c1b2c" stroke-width="0.80" stroke-opacity="0.12" stroke-linecap="butt"/>
<path d="M728.2,757.4 C728.5,757.6 729.6,758.6 730.2,758.7 C730.9,758.7 732.0,758.0 732.3,757.9" fill="none" stroke="#1c1b2c" stroke-width="1.50" stroke-opacity="0.90" stroke-linecap="round" stroke-linejoin="round"/>
<path d="M728.2,787.4 C728.5,787.5 729.6,788.1 730.2,788.0 C730.9,787.9 731.6,787.0 731.9,786.8" fill="none" stroke="#1c1b2c" stroke-width="1.00" stroke-opacity="0.40" stroke-linecap="round" stroke-linejoin="round"/>
<path d="M738.1,837.6 C738.4,838.2 738.9,840.2 739.8,841.3 C740.6,842.5 741.7,843.7 743.1,844.4 C744.4,845.1 746.6,845.8 748.0,845.5 C749.5,845.1 750.9,843.5 751.7,842.1 C752.6,840.8 752.7,839.2 753.0,837.6 C753.3,836.1 753.5,833.6 753.6,832.9" fill="none" stroke="url(#uf)" stroke-width="2.04" stroke-opacity="0.97" stroke-linecap="round" stroke-linejoin="round"/>
<path d="M755.5,838.0 C755.9,837.9 757.1,837.6 757.9,837.2 C758.8,836.8 759.7,836.8 760.4,835.5 C761.1,834.3 761.8,830.7 762.1,829.8" fill="none" stroke="url(#uf)" stroke-width="1.70" stroke-opacity="0.97" stroke-linecap="round" stroke-linejoin="round"/>
<path d="M738.1,799.8 C738.3,800.7 738.9,803.4 739.5,805.4 C740.2,807.3 741.0,809.9 742.0,811.6 C743.1,813.2 744.4,814.9 745.7,815.3 C747.1,815.7 749.0,815.8 750.1,814.0 C751.2,812.3 751.7,808.2 752.1,805.0 C752.6,801.7 752.8,796.3 753.0,794.6" fill="none" stroke="url(#uf)" stroke-width="1.61" stroke-opacity="0.92" stroke-linecap="round" stroke-linejoin="round"/>
<path d="M755.5,798.8 C755.8,798.6 756.8,798.3 757.5,797.9 C758.2,797.5 759.2,797.5 759.8,796.3 C760.4,795.0 760.8,792.3 761.2,790.5 C761.7,788.7 762.1,786.2 762.3,785.3" fill="none" stroke="url(#uf)" stroke-width="1.27" stroke-opacity="0.80" stroke-linecap="round" stroke-linejoin="round"/>
<path d="M739.5,774.0 C739.9,774.7 740.6,777.1 741.4,778.5 C742.2,780.0 743.1,781.5 744.3,782.6 C745.5,783.8 747.3,785.3 748.4,785.5 C749.5,785.7 750.5,784.2 750.9,783.9" fill="none" stroke="url(#uf)" stroke-width="0.94" stroke-opacity="0.40" stroke-linecap="round" stroke-linejoin="round"/>
<path d="M738.5,722.3 C738.8,723.2 739.5,725.7 740.2,727.5 C740.9,729.3 741.6,731.2 742.6,733.1 C743.7,734.9 745.3,736.6 746.4,738.4 C747.5,740.3 748.5,742.2 749.3,744.0 C750.0,745.8 750.6,748.3 750.9,749.2" fill="none" stroke="url(#uf)" stroke-width="0.77" stroke-opacity="0.30" stroke-linecap="round" stroke-linejoin="round"/>
<path d="M750.9,749.2 C751.1,747.5 751.9,742.3 752.1,738.8 C752.4,735.4 752.5,730.2 752.6,728.5" fill="none" stroke="url(#uf)" stroke-width="0.77" stroke-opacity="0.25" stroke-linecap="round" stroke-linejoin="round"/>
<path d="M739.5,704.8 C739.8,706.0 740.3,709.6 741.0,712.0 C741.6,714.4 742.4,717.1 743.5,719.0 C744.5,720.9 746.0,723.4 747.2,723.6 C748.4,723.7 750.0,721.8 750.9,719.8 C751.8,717.9 752.0,714.7 752.4,712.0 C752.7,709.3 753.0,705.1 753.2,703.7" fill="none" stroke="url(#uf)" stroke-width="1.19" stroke-opacity="0.65" stroke-linecap="round" stroke-linejoin="round"/>
<path d="M731.3,699.6 C731.5,699.2 732.3,698.4 732.7,697.5 C733.2,696.7 733.8,694.9 734.0,694.4" fill="none" stroke="url(#uf)" stroke-width="0.77" stroke-opacity="0.30" stroke-linecap="round" stroke-linejoin="round"/>
<path d="M760.4,718.2 C760.3,714.7 760.0,704.4 759.8,697.5" fill="none" stroke="#1c1b2c" stroke-width="0.80" stroke-opacity="0.15" stroke-linecap="butt"/>
<path d="M759.8,697.5 C759.6,690.6 759.3,680.3 759.2,676.9" fill="none" stroke="#1c1b2c" stroke-width="0.80" stroke-opacity="0.10" stroke-linecap="butt"/>
<path d="M746.8,674.8 C746.6,672.7 746.1,664.5 746.0,662.4" fill="none" stroke="#1c1b2c" stroke-width="0.80" stroke-opacity="0.15" stroke-linecap="butt"/>
</g>
<text x="220.1" y="644.8" font-size="18.2" font-weight="700" textLength="72.2" lengthAdjust="spacingAndGlyphs" fill="#111">Male call</text>
<path d="M224.8,654.0 Q225.3,652.0 227.8,652.0 L253.3,652.0 Q256.3,652.0 257.3,648.2 Q258.3,652.0 261.3,652.0 L284.4,652.0 Q286.9,652.0 287.4,654.0" fill="none" stroke="#555" stroke-width="1.0"/>
<text x="326.4" y="644.8" font-size="18.2" font-weight="700" textLength="71.9" lengthAdjust="spacingAndGlyphs" fill="#111">Male call</text>
<path d="M331.7,654.2 Q332.2,652.2 334.7,652.2 L359.6,652.2 Q362.6,652.2 363.6,648.4 Q364.6,652.2 367.6,652.2 L391.6,652.2 Q394.1,652.2 394.6,654.2" fill="none" stroke="#555" stroke-width="1.0"/>
<text x="441.2" y="646.6" font-size="18.2" font-weight="700" textLength="71.4" lengthAdjust="spacingAndGlyphs" fill="#111">Male call</text>
<path d="M446.7,656.3 Q447.2,654.3 449.7,654.3 L473.5,654.3 Q476.5,654.3 477.5,650.5 Q478.5,654.3 481.5,654.3 L505.8,654.3 Q508.3,654.3 508.8,656.3" fill="none" stroke="#222" stroke-width="1.6"/>
<text x="569.5" y="648.3" font-size="18.2" font-weight="700" textLength="71.7" lengthAdjust="spacingAndGlyphs" fill="#111">Male call</text>
<path d="M574.3,658.0 Q574.8,656.0 577.3,656.0 L600.8,656.0 Q603.8,656.0 604.8,652.2 Q605.8,656.0 608.8,656.0 L634.5,656.0 Q637.0,656.0 637.5,658.0" fill="none" stroke="#333" stroke-width="1.4"/>
<text x="694.8" y="646.8" font-size="18.2" font-weight="700" textLength="71.8" lengthAdjust="spacingAndGlyphs" fill="#111">Male call</text>
<path d="M700.7,656.6 Q701.2,654.6 703.7,654.6 L728.0,654.6 Q731.0,654.6 732.0,650.8 Q733.0,654.6 736.0,654.6 L759.1,654.6 Q761.6,654.6 762.1,656.6" fill="none" stroke="#333" stroke-width="1.4"/>
<g filter="url(#bt)">
<path d="M372.3,365.4 C374.1,364.3 379.9,361.4 382.9,358.6 C386.0,355.8 387.3,352.0 390.6,348.7 C393.9,345.4 398.7,341.7 402.8,338.7 C406.8,335.8 412.9,332.3 414.9,331.0" stroke="#b8813f" stroke-width="1.3" stroke-linecap="round" fill="none"/>
<path d="M374.1,367.2 C375.9,365.9 382.0,362.4 385.1,359.7 C388.3,357.0 389.5,354.0 392.8,350.9 C396.2,347.7 401.1,343.9 405.0,340.9 C408.8,338.0 414.2,334.5 416.0,333.2" stroke="#b8813f" stroke-width="1.3" stroke-linecap="round" fill="none"/>
<path d="M400.1,332.8 C401.2,333.0 402.9,333.5 403.9,335.4 C404.9,337.3 405.5,339.5 406.1,344.3 C406.6,349.0 406.8,357.1 407.2,364.1 C407.6,371.1 408.1,378.8 408.5,386.2 C408.9,393.5 409.5,402.0 409.6,408.2 C409.7,414.5 409.3,419.6 408.9,423.6 C408.5,427.7 406.7,429.2 407.2,432.5 C407.6,435.8 409.8,439.4 411.6,443.5 C413.4,447.5 416.0,452.3 418.2,456.7 C420.4,461.1 422.7,466.5 424.8,469.9 C426.9,473.4 429.2,474.2 431.0,477.7 C432.8,481.2 433.1,486.3 435.4,490.9 C437.7,495.5 441.3,500.4 444.7,505.2 C448.0,510.0 452.0,516.4 455.7,519.6 C459.4,522.7 465.6,522.7 466.7,524.0 C467.8,525.3 464.9,526.5 462.3,527.3 C459.7,528.0 454.2,529.5 451.3,528.4 C448.3,527.3 447.6,524.2 444.7,520.7 C441.7,517.2 436.9,511.8 433.6,507.4 C430.3,503.0 427.1,497.4 424.8,494.2 C422.5,491.0 421.8,488.7 420.0,488.0 C418.1,487.4 416.1,489.6 413.8,490.2 C411.5,490.9 407.7,491.0 406.1,492.0 C404.4,493.0 403.8,494.6 403.9,496.4 C404.0,498.2 406.6,500.7 406.7,503.0 C406.9,505.3 406.1,508.2 405.0,510.1 C403.9,511.9 401.4,511.7 400.1,514.0 C398.8,516.4 398.2,523.2 397.3,524.0 C396.3,524.7 395.2,520.5 394.6,518.5 C394.1,516.4 393.1,513.7 393.9,511.8 C394.8,510.0 398.7,509.2 399.5,507.4 C400.2,505.7 399.6,503.5 398.4,501.3 C397.1,499.1 393.9,496.8 391.7,494.2 C389.6,491.6 386.5,488.5 385.6,485.8 C384.6,483.2 385.0,480.2 386.2,478.3 C387.4,476.5 391.3,475.8 392.8,474.8 C394.4,473.8 396.3,474.1 395.7,472.1 C395.2,470.2 391.4,465.8 389.5,463.3 C387.6,460.8 386.0,457.1 384.2,457.2 C382.5,457.2 381.3,461.2 379.0,463.8 C376.6,466.3 373.1,470.4 370.1,472.6 C367.2,474.8 363.7,477.1 361.3,477.0 C359.0,476.9 356.7,475.5 356.0,472.1 C355.4,468.8 356.5,461.5 357.3,456.7 C358.2,451.9 359.7,447.2 360.9,443.5 C362.0,439.8 362.7,436.8 364.4,434.7 C366.1,432.6 368.7,431.1 370.8,430.9 C372.9,430.7 376.2,432.0 377.0,433.3 C377.7,434.7 376.4,436.8 375.4,439.1 C374.4,441.3 371.4,445.0 371.0,446.8 C370.6,448.6 372.2,450.6 373.2,449.7 C374.2,448.7 376.2,444.3 377.2,441.3 C378.1,438.2 377.8,433.7 379.0,431.4 C380.1,429.0 382.0,428.1 384.0,427.2 C386.0,426.2 389.5,429.0 390.9,425.8 C392.2,422.7 391.4,414.8 392.0,408.2 C392.5,401.6 393.4,393.5 393.9,386.2 C394.5,378.8 395.1,371.5 395.5,364.1 C395.9,356.8 396.0,347.0 396.4,342.1 C396.7,337.1 396.9,335.9 397.5,334.3 C398.1,332.8 399.1,332.6 400.1,332.8Z" fill="#161614" stroke="#161614" stroke-width="0.3" stroke-linejoin="round"/>
<path d="M385.1,442.6 C385.4,441.7 388.2,440.6 389.5,440.8 C390.9,441.1 392.6,442.6 393.1,443.9 C393.5,445.3 393.1,448.6 392.2,449.0 C391.3,449.4 388.9,447.2 387.8,446.1 C386.6,445.1 384.8,443.5 385.1,442.6Z" fill="#ecdc7c"/>
<path d="M395.7,437.3 C396.2,436.5 398.8,435.5 399.7,436.0 C400.6,436.5 401.2,438.7 401.0,440.2 C400.9,441.6 399.5,444.7 398.8,444.8 C398.1,444.9 397.5,442.1 397.0,440.8 C396.5,439.6 395.3,438.1 395.7,437.3Z" fill="#ecdc7c"/>
<path d="M373.7,440.8 C374.2,439.5 375.0,438.2 375.2,438.6 C375.4,439.1 375.2,441.6 374.8,443.5 C374.3,445.3 373.1,449.1 372.6,449.7 C372.0,450.2 371.5,448.0 371.7,446.6 C371.9,445.1 373.1,442.2 373.7,440.8Z" fill="#fff"/>
<path d="M155.6,407.5 C157.1,406.2 162.0,402.1 164.8,399.5 C167.6,397.0 169.9,394.4 172.4,392.2 C175.0,390.0 177.8,388.0 180.1,386.5 C182.5,385.0 185.5,383.6 186.5,383.0" stroke="#b8772c" stroke-width="2.6" stroke-linecap="round" fill="none"/>
<path d="M180.1,384.2 C180.7,384.2 182.7,384.3 183.9,383.9 C185.2,383.5 186.9,382.1 187.5,381.8" stroke="#b8772c" stroke-width="1.2" stroke-linecap="round" fill="none"/>
<path d="M175.2,383.9 C175.9,384.0 177.1,384.4 177.8,385.7 C178.5,387.1 179.0,388.6 179.3,391.9 C179.7,395.2 179.8,400.8 180.1,405.7 C180.4,410.5 180.7,415.9 181.0,421.0 C181.3,426.1 181.7,432.0 181.8,436.3 C181.8,440.7 181.6,444.3 181.3,447.1 C181.1,449.9 179.8,450.9 180.1,453.2 C180.4,455.5 181.9,458.1 183.2,460.9 C184.5,463.7 186.2,467.0 187.8,470.1 C189.3,473.1 190.9,476.8 192.4,479.3 C193.9,481.7 195.4,482.2 196.7,484.6 C197.9,487.1 198.1,490.6 199.7,493.8 C201.3,497.0 203.8,500.5 206.2,503.8 C208.5,507.1 211.3,511.6 213.8,513.8 C216.4,515.9 220.7,515.9 221.5,516.8 C222.3,517.7 220.2,518.6 218.4,519.1 C216.6,519.6 212.8,520.7 210.8,519.9 C208.7,519.1 208.2,517.0 206.2,514.5 C204.1,512.1 200.8,508.4 198.5,505.3 C196.2,502.3 194.0,498.4 192.4,496.1 C190.8,493.9 190.3,492.3 189.0,491.8 C187.7,491.4 186.3,492.9 184.7,493.4 C183.1,493.8 180.5,493.9 179.3,494.6 C178.2,495.3 177.7,496.4 177.8,497.7 C177.9,498.9 179.7,500.7 179.8,502.3 C179.9,503.8 179.3,505.9 178.6,507.2 C177.8,508.4 176.1,508.3 175.2,509.9 C174.3,511.5 173.8,516.3 173.2,516.8 C172.6,517.3 171.8,514.4 171.4,513.0 C171.0,511.6 170.3,509.7 170.9,508.4 C171.5,507.1 174.2,506.6 174.7,505.3 C175.3,504.1 174.9,502.6 174.0,501.0 C173.1,499.5 170.9,497.9 169.4,496.1 C167.9,494.3 165.7,492.1 165.1,490.3 C164.4,488.5 164.7,486.4 165.5,485.1 C166.4,483.8 169.0,483.4 170.1,482.6 C171.2,481.9 172.5,482.1 172.1,480.8 C171.8,479.5 169.2,476.4 167.8,474.7 C166.5,472.9 165.4,470.3 164.2,470.4 C162.9,470.4 162.1,473.2 160.5,475.0 C158.8,476.8 156.4,479.6 154.3,481.1 C152.3,482.6 149.9,484.2 148.2,484.2 C146.6,484.1 145.0,483.1 144.5,480.8 C144.1,478.4 144.9,473.4 145.5,470.1 C146.0,466.7 147.1,463.4 147.9,460.9 C148.7,458.3 149.2,456.2 150.4,454.7 C151.5,453.3 153.4,452.3 154.8,452.1 C156.3,452.0 158.6,452.9 159.1,453.8 C159.6,454.8 158.7,456.2 158.0,457.8 C157.3,459.4 155.2,461.9 155.0,463.2 C154.7,464.4 155.8,465.8 156.5,465.2 C157.2,464.5 158.6,461.5 159.3,459.3 C159.9,457.2 159.7,454.1 160.5,452.4 C161.3,450.8 162.6,450.2 164.0,449.5 C165.4,448.9 167.8,450.8 168.8,448.6 C169.7,446.4 169.2,440.9 169.5,436.3 C169.9,431.7 170.5,426.1 170.9,421.0 C171.3,415.9 171.7,410.8 172.0,405.7 C172.3,400.6 172.4,393.8 172.6,390.3 C172.8,386.9 172.9,386.0 173.4,385.0 C173.8,383.9 174.5,383.8 175.2,383.9Z" fill="#161614" stroke="#161614" stroke-width="1.1" stroke-linejoin="round"/>
<path d="M164.8,460.3 C165.0,459.6 166.9,458.9 167.8,459.0 C168.8,459.2 170.0,460.2 170.3,461.2 C170.6,462.1 170.3,464.4 169.7,464.7 C169.1,465.0 167.4,463.4 166.6,462.7 C165.8,462.0 164.6,460.9 164.8,460.3Z" fill="#ecdc7c"/>
<path d="M172.1,456.6 C172.4,456.0 174.3,455.3 174.9,455.7 C175.5,456.0 175.9,457.5 175.8,458.6 C175.7,459.6 174.7,461.7 174.3,461.8 C173.8,461.9 173.4,459.9 173.1,459.0 C172.7,458.2 171.8,457.1 172.1,456.6Z" fill="#ecdc7c"/>
<path d="M156.8,459.0 C157.2,458.1 157.7,457.2 157.9,457.5 C158.0,457.8 157.9,459.6 157.6,460.9 C157.3,462.1 156.4,464.8 156.0,465.2 C155.7,465.5 155.3,464.0 155.4,463.0 C155.5,462.0 156.4,459.9 156.8,459.0Z" fill="#fff"/>
<path d="M431.7,956.5 C433.1,955.3 437.6,951.5 440.3,949.1 C442.9,946.7 445.0,944.3 447.4,942.2 C449.8,940.2 452.4,938.4 454.6,936.9 C456.8,935.5 459.6,934.2 460.6,933.6" stroke="#b8772c" stroke-width="2.6" stroke-linecap="round" fill="none"/>
<path d="M454.6,934.8 C455.2,934.7 457.0,934.9 458.2,934.5 C459.3,934.1 460.9,932.8 461.5,932.5" stroke="#b8772c" stroke-width="1.2" stroke-linecap="round" fill="none"/>
<path d="M450.0,934.5 C450.7,934.6 451.8,935.0 452.4,936.2 C453.1,937.5 453.5,938.8 453.9,941.9 C454.2,945.0 454.3,950.3 454.6,954.8 C454.8,959.4 455.2,964.4 455.4,969.1 C455.7,973.9 456.1,979.4 456.2,983.5 C456.2,987.5 456.0,990.9 455.7,993.5 C455.5,996.1 454.3,997.1 454.6,999.2 C454.9,1001.4 456.3,1003.7 457.4,1006.4 C458.6,1009.0 460.3,1012.1 461.7,1015.0 C463.2,1017.8 464.7,1021.3 466.0,1023.6 C467.4,1025.8 468.9,1026.3 470.0,1028.6 C471.2,1030.8 471.4,1034.2 472.9,1037.2 C474.4,1040.1 476.7,1043.4 478.9,1046.5 C481.1,1049.6 483.7,1053.7 486.1,1055.8 C488.5,1057.8 492.5,1057.8 493.2,1058.6 C494.0,1059.5 492.0,1060.3 490.4,1060.8 C488.7,1061.3 485.1,1062.2 483.2,1061.5 C481.3,1060.8 480.8,1058.7 478.9,1056.5 C477.0,1054.2 473.9,1050.8 471.8,1047.9 C469.6,1045.0 467.5,1041.4 466.0,1039.3 C464.6,1037.2 464.1,1035.7 462.9,1035.3 C461.7,1034.9 460.4,1036.3 458.9,1036.7 C457.4,1037.2 454.9,1037.2 453.9,1037.9 C452.8,1038.5 452.4,1039.5 452.4,1040.7 C452.5,1041.9 454.2,1043.5 454.3,1045.0 C454.4,1046.5 453.9,1048.4 453.1,1049.6 C452.4,1050.8 450.8,1050.7 450.0,1052.2 C449.2,1053.7 448.7,1058.2 448.1,1058.6 C447.5,1059.1 446.8,1056.4 446.4,1055.1 C446.1,1053.7 445.5,1051.9 446.0,1050.8 C446.5,1049.6 449.1,1049.0 449.6,1047.9 C450.0,1046.7 449.7,1045.3 448.9,1043.9 C448.0,1042.5 445.9,1041.0 444.6,1039.3 C443.2,1037.6 441.1,1035.6 440.6,1033.9 C440.0,1032.1 440.2,1030.2 441.0,1029.0 C441.8,1027.8 444.2,1027.4 445.3,1026.7 C446.3,1026.0 447.5,1026.2 447.1,1025.0 C446.8,1023.7 444.4,1020.9 443.1,1019.3 C441.9,1017.6 440.8,1015.2 439.7,1015.2 C438.5,1015.3 437.8,1017.9 436.3,1019.5 C434.7,1021.2 432.4,1023.8 430.5,1025.3 C428.6,1026.7 426.3,1028.2 424.8,1028.1 C423.3,1028.1 421.8,1027.2 421.4,1025.0 C420.9,1022.8 421.7,1018.1 422.2,1015.0 C422.7,1011.9 423.8,1008.8 424.5,1006.4 C425.3,1004.0 425.7,1002.0 426.8,1000.6 C427.9,999.3 429.6,998.4 431.0,998.2 C432.3,998.1 434.5,998.9 435.0,999.8 C435.5,1000.7 434.6,1002.1 434.0,1003.5 C433.3,1005.0 431.3,1007.4 431.1,1008.5 C430.9,1009.7 431.9,1011.0 432.5,1010.4 C433.2,1009.8 434.5,1006.9 435.1,1004.9 C435.7,1003.0 435.5,1000.0 436.3,998.5 C437.0,997.0 438.3,996.4 439.5,995.8 C440.8,995.2 443.1,997.0 444.0,994.9 C444.8,992.9 444.4,987.8 444.7,983.5 C445.0,979.2 445.6,973.9 446.0,969.1 C446.4,964.4 446.7,959.6 447.0,954.8 C447.3,950.1 447.4,943.7 447.6,940.5 C447.8,937.3 447.9,936.5 448.3,935.5 C448.7,934.5 449.3,934.4 450.0,934.5Z" fill="#161614" stroke="#161614" stroke-width="1.1" stroke-linejoin="round"/>
<path d="M440.3,1005.8 C440.5,1005.2 442.3,1004.5 443.1,1004.7 C444.0,1004.8 445.1,1005.8 445.4,1006.7 C445.7,1007.5 445.4,1009.7 444.8,1010.0 C444.3,1010.2 442.7,1008.8 442.0,1008.1 C441.2,1007.4 440.1,1006.4 440.3,1005.8Z" fill="#ecdc7c"/>
<path d="M447.1,1002.4 C447.4,1001.8 449.1,1001.2 449.7,1001.5 C450.3,1001.8 450.7,1003.3 450.6,1004.2 C450.5,1005.2 449.6,1007.2 449.1,1007.2 C448.7,1007.3 448.3,1005.5 448.0,1004.7 C447.7,1003.8 446.9,1002.9 447.1,1002.4Z" fill="#ecdc7c"/>
<path d="M432.8,1004.7 C433.2,1003.8 433.7,1002.9 433.8,1003.2 C433.9,1003.5 433.8,1005.2 433.5,1006.4 C433.2,1007.6 432.4,1010.0 432.1,1010.4 C431.8,1010.7 431.4,1009.3 431.5,1008.4 C431.7,1007.4 432.4,1005.5 432.8,1004.7Z" fill="#fff"/>
<path d="M91.3,378.2 C93.1,376.5 99.0,371.5 102.3,368.1 C105.5,364.6 107.6,360.5 110.7,357.5 C113.9,354.5 118.1,352.3 121.3,350.1 C124.5,347.8 128.4,345.0 129.8,344.0" stroke="#b9966a" stroke-width="1.0" fill="none"/>
<path d="M93.4,380.3 C95.2,378.7 101.1,374.0 104.4,370.6 C107.7,367.2 110.1,363.0 113.3,360.0 C116.4,357.1 120.4,355.0 123.4,352.8 C126.5,350.6 130.1,347.9 131.5,346.9" stroke="#b9966a" stroke-width="1.0" fill="none"/>
<path d="M121.3,346.5 C122.4,346.5 123.7,346.8 124.5,351.1 C125.3,355.4 125.4,365.2 126.0,372.3 C126.6,379.3 127.6,386.4 128.1,393.4 C128.6,400.5 128.7,408.5 128.9,414.6 C129.1,420.7 129.0,426.0 129.2,430.0 C129.3,434.0 129.9,435.1 129.9,438.4 C129.9,441.6 128.8,446.0 129.2,449.5 C129.5,453.0 130.6,455.6 131.9,459.3 C133.3,463.0 135.4,467.4 137.5,471.8 C139.6,476.3 142.2,481.6 144.5,485.8 C146.8,490.0 149.4,493.2 151.5,496.9 C153.6,500.7 154.7,503.5 157.1,508.1 C159.4,512.8 162.9,520.0 165.4,524.8 C168.0,529.7 170.5,534.3 172.4,537.4 C174.3,540.5 174.7,542.4 176.6,543.7 C178.4,544.9 181.6,544.4 183.5,545.1 C185.5,545.8 189.2,547.0 188.0,547.9 C186.9,548.7 179.4,550.3 176.6,549.9 C173.7,549.6 173.3,547.9 171.0,545.8 C168.7,543.7 165.4,540.4 162.6,537.4 C159.8,534.4 157.1,531.1 154.3,527.6 C151.5,524.1 148.1,519.5 145.9,516.5 C143.7,513.4 142.9,510.4 141.0,509.5 C139.2,508.6 137.2,510.3 134.7,510.9 C132.3,511.5 128.7,512.2 126.4,513.0 C124.0,513.8 121.4,514.4 120.8,515.8 C120.2,517.2 122.0,519.6 122.9,521.4 C123.8,523.1 126.0,524.4 126.4,526.2 C126.7,528.1 126.0,531.2 125.0,532.5 C123.9,533.8 121.4,532.4 120.1,533.9 C118.8,535.4 118.2,539.5 117.3,541.6 C116.4,543.7 115.6,546.7 114.9,546.5 C114.3,546.2 113.6,542.4 113.5,540.2 C113.5,538.0 113.9,535.5 114.5,533.2 C115.1,530.9 117.9,528.9 117.3,526.2 C116.7,523.6 113.0,520.0 111.0,517.2 C109.0,514.4 106.7,511.9 105.4,509.5 C104.2,507.1 103.8,504.6 103.8,502.5 C103.8,500.4 104.2,498.3 105.4,496.9 C106.7,495.6 109.1,494.9 111.0,494.6 C112.9,494.2 116.4,495.3 116.9,495.0 C117.3,494.6 115.3,494.0 113.8,492.5 C112.4,490.9 109.6,488.1 108.2,485.8 C106.8,483.4 106.6,479.6 105.4,478.4 C104.3,477.2 103.1,477.8 101.3,478.8 C99.4,479.8 96.6,482.3 94.3,484.4 C92.0,486.5 89.6,489.5 87.3,491.4 C85.0,493.2 82.3,495.0 80.3,495.6 C78.4,496.1 76.5,496.0 75.5,494.9 C74.4,493.7 73.9,491.5 73.9,488.6 C73.9,485.7 74.7,481.1 75.5,477.4 C76.2,473.7 77.4,469.7 78.2,466.3 C79.1,462.8 79.3,459.1 80.3,456.5 C81.4,453.9 82.9,452.1 84.5,450.9 C86.2,449.7 88.4,449.0 90.1,449.2 C91.8,449.5 93.5,451.9 94.7,452.3 C95.9,452.8 96.5,452.8 97.1,452.0 C97.7,451.2 97.8,448.9 98.5,447.4 C99.2,446.0 99.6,443.8 101.3,443.2 C102.9,442.7 106.8,444.8 108.2,443.9 C109.6,443.1 109.3,440.7 109.6,438.4 C110.0,436.0 109.9,434.0 110.3,430.0 C110.7,426.0 111.2,420.7 112.0,414.6 C112.8,408.5 114.2,400.5 115.0,393.4 C115.8,386.4 116.4,379.3 116.9,372.3 C117.3,365.2 117.0,355.4 117.7,351.1 C118.5,346.8 120.2,346.5 121.3,346.5Z" fill="#fec505"/>
<path d="M89.7,457.9 C89.1,458.8 88.5,462.1 88.2,464.2 C87.8,466.3 87.2,470.1 87.5,470.6 C87.7,471.0 89.1,468.3 89.8,466.8 C90.5,465.3 91.5,462.9 91.8,461.5 C92.1,460.2 91.8,459.3 91.5,458.7 C91.2,458.1 90.2,457.0 89.7,457.9Z" fill="#fff"/>
<path d="M99.9,445.1 C99.9,444.2 101.8,443.2 102.9,443.1 C104.1,443.0 106.2,443.5 106.8,444.5 C107.4,445.5 107.2,448.4 106.6,449.0 C105.9,449.6 104.1,448.8 102.9,448.1 C101.8,447.5 99.9,445.9 99.9,445.1Z" fill="#111"/>
</g>
<text x="185.5" y="536.8" font-size="23.4" font-weight="700" textLength="128.0" lengthAdjust="spacingAndGlyphs" fill="#111">Young male</text>
<text x="69.5" y="569.8" font-size="23.4" font-weight="700" textLength="138.0" lengthAdjust="spacingAndGlyphs" fill="#111">Adult female</text>
<text x="369.5" y="550.6" font-size="23.4" font-weight="700" textLength="117.5" lengthAdjust="spacingAndGlyphs" fill="#111">Adult male</text>
<text x="448.9" y="1078.2" font-size="23.4" font-weight="700" textLength="128.1" lengthAdjust="spacingAndGlyphs" fill="#111">Young male</text>
</svg>
</body></html>
